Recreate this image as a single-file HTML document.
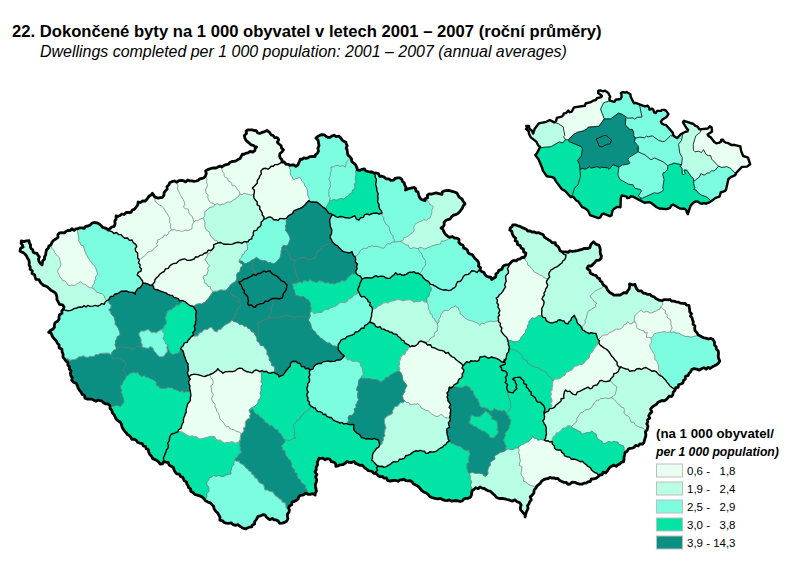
<!DOCTYPE html>
<html><head><meta charset="utf-8"><title>Map</title>
<style>
html,body{margin:0;padding:0;background:#fff;}
body{width:800px;height:566px;position:relative;overflow:hidden;font-family:"Liberation Sans",sans-serif;color:#000;}
.t{position:absolute;white-space:pre;line-height:1;}
#t1{left:12px;top:23.9px;font-size:16.64px;font-weight:bold;}
#t2{left:40px;top:43.5px;font-size:15.96px;font-style:italic;}
#l1{left:656px;top:426.7px;font-size:13.27px;font-weight:bold;}
#l2{left:656px;top:446.3px;font-size:12.23px;font-weight:bold;font-style:italic;}
.lg{left:687px;font-size:11.48px;}
</style></head><body>
<svg width="800" height="566" viewBox="0 0 800 566" style="position:absolute;left:0;top:0">
<path d="M42,265 42.4,262.9 42.7,260.7 44.6,259.1 44.5,256.8 45.7,254.7 46,252.2 46.5,249.9 48.3,248.3 48.8,246 50.9,245 51.9,242.4 53.6,240.4 55.9,238.9 58,237.4 57.9,234.5 59.7,232.8 62.1,232.7 64.3,232.8 66.1,231.4 67.9,230.4 70.2,230.5 71.9,228.7 74.1,230.3 75.9,228.8 77.9,228.6 79.9,227.8 81.9,227.9 84.1,228.4 85.6,226.3 88.1,226 90.2,225 91.9,223.3 94,222.5 96.8,222.8 99.1,223.9 101.2,225.7 102.5,227.4 104.6,227.9 106.5,228.6 108,230.1 109.9,228.6 111.7,227 114.2,226.3 115.1,223.8 114.8,221.2 116.1,219 116,216 118.2,216.3 120.1,215.5 121.9,214 124.1,214.5 126.1,212.5 128.6,212.5 131.1,212.3 132.2,210 134.3,209.3 135.7,207.6 137,206.1 137.9,204.2 138.1,202 140.5,202.5 142.6,200.9 145,201.2 146.6,199.5 147.9,197.9 149.1,196.1 151.2,195.1 152.4,193.3 153.4,194.6 154.4,196.6 156.4,197.7 158.1,198.1 160.1,197.7 162.1,197.6 163.9,195.4 164.1,192.7 165.5,190.9 167.2,189.1 167,186.5 168.9,185 169.7,182.8 172.1,181.6 174.3,181 176.9,182.1 178.9,180.6 181.2,180.4 183.4,180.7 185.6,181.9 187.8,180 190,180.9 192,180.9 194.1,181.4 196.1,181 198.1,180.4 199.8,178.8 201.9,178.5 203.9,177.8 205.5,175.9 206.3,173.6 205.6,170.9 207.7,169.6 209.8,168.9 211.8,168.2 214,168 216,168 217.9,167 219.9,166.1 222,166.9 223.8,165.5 226.1,164.6 228.6,164.1 230.1,162.2 232,161.5 234.1,161.3 236.1,160.9 237.9,159.5 240.1,158.5 241.2,156.4 242.4,154.2 244.1,154.3 246,153.1 248,152.9 250.1,151.5 252.8,152 254.9,150.5 255.1,148.6 256.7,146.9 254.9,146.7 253.3,145.3 251.2,144.9 249.7,143.5 247.8,141.9 246,140.3 244.9,138.1 244.3,135.5 246.5,133.5 246.1,131 247.9,129.9 249.9,129.8 252,129.8 254.1,130.5 256.3,130.7 257.7,133 259.8,133.5 262.3,132.3 264.7,131.6 266.9,130.5 269.6,132.4 271.1,134.9 273.2,135.5 274.7,137.7 277.2,137.7 278.7,139.7 277.3,142.3 279,144 281,145.5 281.6,148.1 283.5,149.7 281.9,152 280,153.5 279.6,155.8 280.2,158.1 281.9,159.8 282.1,162 284.3,162 285.8,164.1 288,164.3 289.9,165.3 292.1,164.9 294.1,165 295.9,166.4 298,164.8 298.7,162.9 299.6,161.1 300.3,159.2 302.1,159.3 303.9,157.9 306,158.3 308,157.8 310.2,156.6 312.5,156.3 315,156.7 315.5,154.8 317.4,153.2 318.5,151.2 317.9,148.3 319,145.7 318.6,143 318,140.1 315.9,138.1 317.7,136.4 319.7,135.4 321.8,134.7 324.2,134.8 325.9,136.3 327.8,137.4 329.9,137.4 332,136 334.1,135.2 336.1,136.6 339,136.1 340.9,138.2 342.1,140.1 343.9,141.2 345.8,142.2 346.3,144 347.2,145.9 346.1,148.1 347.2,150 347.4,152.6 348,155.1 350.1,157 351.5,158.9 351.8,161.6 353.8,163.1 355.7,165 356.8,167.3 357.4,169.8 359.7,170.4 362.1,169.3 364.3,168.9 365.8,171 367.8,171.5 369.9,172 372.1,172 374,173.1 376.3,173 378.4,173.5 379.6,176.3 381.9,176.2 384.2,177.1 386.1,178.9 388.8,178.9 390.8,180.4 393.4,180.2 395.4,178.4 397.6,177.9 399.9,177.8 401.8,179.3 402.5,181.5 404.2,182.8 404.8,185.3 406.1,187.4 405.5,190.1 407.9,188.9 410,188.4 412.1,187.9 414.2,187.4 415.5,188.6 415.9,190.9 418,192 418.6,194.4 419.3,196.7 420.5,198.8 422.6,199.9 425.1,200.7 425,198.7 427.6,197.8 427.3,195.4 429,194 431.4,194.2 433.7,193.5 436,192.8 438,193.4 440,193.8 441.9,194.3 442.2,192 444.1,191 446.7,190.4 449.3,190.5 452,191.3 454.5,192 457,193.1 458.2,195.4 459.6,197.6 462.1,199 462.8,200.8 464,202.3 465,204 463.3,205.8 462.4,208.1 461,210 459.5,212 457.6,213.7 455.8,214.6 453.6,215.2 451.8,216.5 450.3,218.8 447.9,219.6 445.7,220.6 444.1,222.3 444.2,225 443,226.8 441.1,228 442.8,229.2 443.5,231 444.4,232.7 445.8,234.7 447.6,236.2 449.7,237.4 452.4,236.5 454.6,238.2 457,238.2 459,239.5 458.9,242.5 460.6,244.3 463.1,245.2 463.6,248.1 466.1,248.9 467.5,250.5 468.2,252.8 470,254 472.3,254.7 473.6,256.6 475,258.5 476.8,260 478.3,261.8 478.9,263.9 478.5,266.1 480.6,267.7 479.9,270 481.8,271.6 484.1,272.5 485.1,274.9 486.6,276.2 488.5,277 490.7,277.1 491.7,279.5 494,278 495.8,276.8 495.9,273.9 497.8,272.8 498.9,270.3 501.8,269.4 502.8,266.8 504.3,265.3 506.4,264.8 508.7,264.8 510.2,263.3 511.8,261.5 513.6,260.3 516.4,260.9 518,259.1 520.1,259.1 521.8,257.4 523.9,257.5 525.4,255.7 525.9,253 523.6,252 523.4,249 521.1,247.9 520.2,245.6 517.5,244.5 517.3,241.8 515.1,240.7 515.7,238.1 513.9,236.8 512.8,235.1 512.1,233.3 511.8,231.2 509.8,230.1 510.3,227.9 512.1,226.7 512.7,224.8 515.5,224.9 517.7,225.8 520.1,226.3 522.1,227.7 524.2,228.4 526.2,229.2 527.8,231 530.2,230.8 532,232 534.4,231.9 536.5,232.9 538.9,232.7 541,233.8 543.1,234.5 544.3,237 546.3,238.4 548.3,239.7 550.4,240.9 552.3,242.9 555.2,242.6 555.8,245.1 557.8,246.2 559,248 559.9,250.5 562.1,251.9 564,251.8 566.1,251.9 568.1,252.4 570,250.8 572.6,251.5 575,251 577.5,250.6 580,249.9 582,249.4 583.9,248.5 585.9,248.4 587.9,248.5 589.9,247.6 590.6,245.1 591.9,243.2 593.6,241.7 595.3,243.7 596.9,244.7 598.9,245.2 599.8,247.3 600.3,249.6 600.2,252 600.4,254 601.4,255.9 601.1,258 599.3,260.1 596.3,260.5 594.7,262.6 592.9,264.2 591.3,266 588.4,265.8 587.1,268.2 588.3,269.5 590,270.7 590.1,272.9 592,273.9 594,275 596.2,275.7 597.3,277.7 599.6,278.6 600.2,280.8 602.1,282.1 602.8,284.2 604.4,285.7 606.2,287 607,289.1 608.2,290.8 609.9,292.5 612,293.7 613.8,295.2 616,295.1 618.1,295 620.1,295.1 622,293.9 623.8,292.6 626.5,293 627.8,290.6 629.2,288.8 629.7,286.4 629.5,283.9 632.5,284.8 635,284.5 635.7,286.6 636.8,289.1 638.6,290.9 641.5,291 643,293 645.3,293.3 647.6,294.4 650,294.3 651.6,296 653.9,296.8 655.7,298.4 657.8,299.4 659.8,300.4 662.1,300.7 663.9,299.7 665.9,299.7 668,299.9 669.9,299.5 671.8,301.2 674,301.1 675.9,301.8 678,302.1 680.2,303.1 682.7,303.3 685.2,303.5 686.8,305.2 688.9,305.3 689.3,307.3 689.6,309.7 689.8,312 691.5,313.8 690.5,316.1 692.1,317.9 692.5,319.9 693.3,321.8 693,324.2 694.9,325.8 694.7,328.1 695,330.8 697,332.7 698.1,334.9 700,335.7 701.9,336.9 703.8,337.8 706,338.1 708.2,339 710.9,338.4 713.1,339.6 714.5,342.1 714.5,344.9 716.2,346.9 716.3,349 718.1,350.7 718.5,352.8 718.3,354.9 718.3,357.1 718.9,359.1 719.8,361.1 718.3,363.3 716,365 714,366.1 712,367.1 710.2,368.4 707.9,367.4 706.1,369.2 703.9,367.7 701.9,368.5 699.3,370.1 696.7,369.1 694,368.6 691.7,369.5 690.7,371.8 689.2,373.2 688.2,375.4 685.5,376.4 685.3,379.2 683.5,380.5 683,382.8 681,384 678.7,384.5 678.2,387.3 675.8,387.7 675,390.3 673.2,392.3 672.8,394.9 671.6,396.5 669,396.2 667.8,398 666.3,399.5 664.4,400.8 662,400.5 660,401.4 658.1,402.2 656.5,404.3 654.2,405.6 652.1,407.2 650.6,409.1 651.8,412 649.7,413.9 648.7,415.8 649.8,418.2 647.5,419.8 647.8,421.9 646.8,423.9 648,426.1 647.5,428 647.1,430 645.4,431.7 645.8,434 645.8,436.1 645.1,438 644.5,440.2 643.9,442.5 642.4,444.2 639.7,444 638.2,446 635.6,445.3 634.1,447.3 632.2,448.2 630,448.3 628.1,449.3 627.3,451.1 625.1,452.5 624.6,454.8 624,457.2 624,459.6 623.5,461.9 621.5,462.1 619.9,463.9 617.9,464.8 616.2,466.4 613.9,465.1 612,466.1 609.9,467.3 608.4,469.1 607.2,471.2 605.8,472.9 603,472.1 602.2,474.7 600,475 598.2,476.6 596.3,478.1 593.8,478.8 591.5,479 590.2,481.5 587.9,481.8 586.1,483.1 584,483.2 582,484.1 579.5,484.1 577.1,483.4 574.9,482.3 572.2,482.1 570,484 567.9,484.3 566.2,482.4 564.1,482.4 561.9,481.4 559.5,480.3 557.8,478.3 555.9,478.7 554,477.9 551.9,478.2 550,477.3 548.2,478.5 545.9,478.9 543.8,479.6 541.6,481.2 540.1,483.5 538.1,485.1 536.6,486.6 535.6,488.5 534.1,490.1 533.9,492.9 532.2,495.1 530.2,496.9 531.3,499.8 529.7,501.7 528.9,504 527.5,505.7 528.1,508.2 527.2,510.2 526.3,512.1 525.7,514.5 525.1,517 524.9,514.8 523.7,513.3 522.4,511.8 520.6,509.8 520.3,507.5 521.2,505 519.6,502.6 517,501.7 515.1,499.9 512.3,501.1 509.7,500.2 507,499.5 504.8,498.9 502.4,498.5 500.1,498.5 498,498.1 496.1,497 494.8,495.3 493.3,494 491.7,492.6 490.3,491.1 488.1,490.8 486.2,489.7 484.3,488.5 482,488.1 480,486.9 478.3,488.7 475.8,487.7 474.1,489.3 472.1,490.6 471.7,492.9 471.4,495.2 470.4,497.2 468.2,498.3 465.9,498.3 463.8,499 462.3,501 460.2,501.5 457.8,500.8 455.7,500.5 453.5,500.8 451.3,501 449.2,499.9 447,500.6 444.8,500.3 442.6,499.7 440.5,498.3 438.2,498.9 436,498.6 434,498.1 431.7,497.5 429.7,496.5 428.2,494.5 426.3,493 423.7,492 421.6,490.4 420,488.3 418.3,486.4 415.9,485.1 413.7,484.1 412.2,482 410.3,480.6 407.8,480.9 405.7,480.7 403.9,479.2 402.1,479.8 399.9,479.9 398.1,481.3 395.3,480.3 392.7,480.5 390,481 387.7,480.6 386.5,478 383.9,478.2 382.3,476.3 379.7,476.6 377.9,475.3 376.3,473.5 373.8,473.4 372.2,471.5 370.3,471 368.3,470.6 366.8,469.3 365.2,468.2 363.7,466.7 362.3,465.1 359.8,465.4 357.9,464.2 355.7,463.6 354.2,461.5 351.6,462.5 349.2,462.4 346.9,461.5 345.2,463.2 342.7,464.7 340.4,464.8 338.2,465.8 335.8,466.4 335.9,464.1 333.8,462.1 331.4,461.7 329.7,459.1 327.1,458.7 324.9,459.8 323,458.1 321,458.5 319,458.1 318.3,460.2 317.3,462.2 317.6,464.7 316.2,467 316.3,469.5 315,472 316.9,474.5 315.5,477 316.7,479.5 316.3,482 315.3,484.5 315.6,487 315.9,489 316.5,491.1 315.3,493 315.1,495 312.7,493.6 309.9,494.3 308,494.3 306,493.1 304,494.5 302.4,495.2 300.3,495.4 298.8,496.7 298,499.2 296.3,500.5 294.3,501.4 291.9,502.1 291.8,504.7 289.8,505.8 288.6,507.8 289.4,510.1 289,512.1 287.5,513.9 287.4,516.3 287.9,518.7 286.8,521 284.7,522.4 282.1,523.2 279.6,523.3 278.2,520.9 276.3,519.9 274.1,519.9 272.3,518.4 269.7,519.7 267.9,518.3 266.3,517 265.2,515.1 263.3,514.6 260.6,515.8 258.1,516.3 257.1,518.1 256,520 254.6,521.8 254.6,524 252.4,525 251.8,526.9 249.8,527 247.8,527.7 246,528.9 243.8,528.4 241.8,527.4 239.9,526.3 238.1,524.7 235.5,525.4 233.3,524.7 231.4,522.9 228.9,523.3 226.4,523.2 224.2,522.5 222.3,520.6 219.9,520.2 220,517.2 218.8,515 217.5,512.8 215.5,510.9 214.1,508.7 213.6,506.2 212,504.7 210.3,502.9 208,502.1 205.6,500.8 203.9,498.8 202.1,496.9 199.8,495.9 197.5,495.1 195.1,494.6 193.3,492.7 190.7,491.3 190.7,488.9 188.6,487.7 188.1,485.7 186.9,484.1 186.5,482 184.4,480.8 183.5,479 182.7,477.1 180.6,476.7 179.4,474.2 177,473.9 175.3,472.2 174.1,470.1 173.5,467.7 171.3,466.3 169.2,465.1 168.3,462.7 166.1,462.2 164.1,461.5 162.4,463.8 160,464 158.8,462.1 157.2,460.7 155.3,459.6 152.7,458.6 151.6,456.3 149.8,454.5 148.7,452.2 148.4,449.7 146.3,448.7 145.5,446.5 143.2,445.8 142.3,443.7 139.9,443.1 137.8,442.5 136.3,440.4 134.5,439.1 131.8,439.4 130.8,437.3 129.4,435.6 127.3,434.6 126.2,432.8 124.7,431.3 123.2,429.1 122,426.8 121.4,424.1 120.2,421.9 118,420.7 116.1,419.2 115.2,417 114.2,414.9 112.3,412.8 111.8,410.1 110.1,408.4 109.9,405.6 108,404 105.6,403.9 103.6,402.8 101.9,401.1 100,400.6 98,400.2 95.9,401.2 94,400.4 91.8,399.1 89.5,399.2 87.1,399 85,398.2 84.5,395.4 82,394.2 81.1,392 79.4,390.2 78.2,388.1 77.3,385.8 76.2,383.3 73.4,382.2 71.7,380.2 72.2,377.6 70.7,375.4 70.4,373.1 71.1,370.7 69.3,369.1 69.4,366.7 67.9,365 67.8,362.6 65.9,361 64.7,359.2 63,357.1 63.1,354.3 62.1,351.9 61.9,349.3 59.1,347.7 59.1,344.9 57.4,343.2 56.3,341 54.7,339.2 53.1,337.6 52,335.5 51.2,333.1 48.7,332.3 50.7,330.3 52.8,329.2 54.4,327.4 54.4,324.7 55.2,322.6 57.5,321.2 59,319.5 59,317 59.5,314.8 61.9,313.4 61.8,310.9 63.4,309.2 64.1,307.1 62.5,304.8 59.5,304.3 58.2,301.7 56.9,299.6 56.9,297 56.3,294.6 55,292.6 52.7,291.2 50.9,290.3 49.4,288.7 47.8,287.2 45.9,286.1 43.5,285.4 41.7,283.8 40.1,281.8 39,279.7 35.9,279.4 35.1,276.9 34.5,274.7 32,273.5 32.3,270.8 30.2,269.4 30.2,266.9 29.1,265 29.3,262.5 28.8,260 27.5,258.1 26.5,255.9 24.9,254 23.5,252.7 21.6,252.1 20,251.1 20.6,248.3 23.1,247.1 22.3,245 21.1,243.2 21.3,240.9 23.7,241.6 26.3,240.9 29,240.6 29.4,243 30.6,244.9 30.4,246.9 31.1,248.6 32.8,249.9 33.1,252 34.7,253 36.9,253.1 37.9,255.1 39.4,256.8 38.5,259.1 38.9,261.2 40,263Z" fill="#b9ffe6"/>
<path d="M50.2,245.3 48.8,246 48.3,248.3 46.5,249.9 46,252.2 45.7,254.7 44.5,256.8 44.6,259.1 42.7,260.7 42.4,262.9 42,265 40,263 38.9,261.2 38.5,259.1 39.4,256.8 37.9,255.1 36.9,253.1 34.7,253 33.1,252 32.8,249.9 31.1,248.6 30.4,246.9 30.6,244.9 29.4,243 29,240.6 26.3,240.9 23.7,241.6 21.3,240.9 21.1,243.2 22.3,245 23.1,247.1 20.6,248.3 20,251.1 21.6,252.1 23.5,252.7 24.9,254 26.5,255.9 27.5,258.1 28.8,260 29.3,262.5 29.1,265 30.2,266.9 30.2,269.4 32.3,270.8 32,273.5 34.5,274.7 35.1,276.9 35.9,279.4 39,279.7 40.1,281.8 41.7,283.8 43.5,285.4 45.9,286.1 47.8,287.2 49.4,288.7 50.9,290.3 52.7,291.2 55,292.6 56.3,294.6 56.9,297 56.9,299.6 58.2,301.7 59.5,304.3 62.5,304.8 64.1,307.1 63.4,309.2 63.3,309.3 65.2,310.1 67.5,310.7 70.1,310.6 72.1,309.9 73.9,308.6 76,308.3 77.8,307.5 79.9,307 82.2,307.2 84,305.6 86,307 88,305.4 90,306.4 92.7,306.1 95.3,305.4 98.1,306.2 99.9,305.2 101.6,303.6 104.2,304.2 105.5,301.5 106.9,300.8 105.8,299.6 104.9,298.1 104.1,295.6 102.1,293.7 100,293.3 98,292.7 96.2,291.8 94.6,289.4 92,287.9 92,287.9 89.9,287.8 88.1,287 86.8,285.3 84.8,284.4 82.6,283.8 80.8,281.6 78.5,283 76.1,284.4 74.3,285.7 71.9,284.9 70.3,285.7 67.8,284.8 66.6,282.7 65.1,280.9 62.6,280.6 61.5,278.6 60.1,277 59,274.5 57.5,271.8 58.2,269.3 59.8,267.3 60.9,265 60.6,262.6 59.9,260.3 59.4,257.7 57.6,256 56,254.2 54.6,252.3 53.9,250.1 52.2,248.8Z" fill="#b9ffe6" stroke="#b9ffe6" stroke-width="0.6"/>
<path d="M78.7,228.3 77.9,228.6 75.9,228.8 74.1,230.3 71.9,228.7 70.2,230.5 67.9,230.4 66.1,231.4 64.3,232.8 62.1,232.7 59.7,232.8 57.9,234.5 58,237.4 55.9,238.9 53.6,240.4 51.9,242.4 50.9,245 50.2,245.3 52.2,248.8 53.9,250.1 54.6,252.3 56,254.2 57.6,256 59.4,257.7 59.9,260.3 60.6,262.6 60.9,265 59.8,267.3 58.2,269.3 57.5,271.8 59,274.5 60.1,277 61.5,278.6 62.6,280.6 65.1,280.9 66.6,282.7 67.8,284.8 70.3,285.7 71.9,284.9 74.3,285.7 76.1,284.4 78.5,283 80.8,281.6 82.6,283.8 84.8,284.4 86.8,285.3 88.1,287 89.9,287.8 92,287.9 92.6,285.7 94.1,283.5 94.4,281.2 95.8,279.4 95.5,276.7 97.4,275 97.6,272.9 96.7,271 96.1,269 95.6,267.4 94.3,265.4 92.4,263.9 91.2,261.9 89.6,260.1 88.3,258 87.3,255.9 86,254.1 85.5,252.1 84.7,250.2 84.1,248 83.4,245.8 80.9,245 80.2,242.9 78.7,240.8 78.9,238.3 78.5,236.1 78,233.6 77.5,231.2Z" fill="#e8fff2" stroke="#e8fff2" stroke-width="0.6"/>
<path d="M107.8,229.9 106.5,228.6 104.6,227.9 102.5,227.4 101.2,225.7 99.1,223.9 96.8,222.8 94,222.5 91.9,223.3 90.2,225 88.1,226 85.6,226.3 84.1,228.4 81.9,227.9 79.9,227.8 78.7,228.3 77.5,231.2 78,233.6 78.5,236.1 78.9,238.3 78.7,240.8 80.2,242.9 80.9,245 83.4,245.8 84.1,248 84.7,250.2 85.5,252.1 86,254.1 87.3,255.9 88.3,258 89.6,260.1 91.2,261.9 92.4,263.9 94.3,265.4 95.6,267.4 96.1,269 96.7,271 97.6,272.9 97.4,275 95.5,276.7 95.8,279.4 94.4,281.2 94.1,283.5 92.6,285.7 92,287.9 92,287.9 94.6,289.4 96.2,291.8 98,292.7 100,293.3 102.1,293.7 104.1,295.6 104.9,298.1 105.8,299.6 106.9,300.8 108.1,300.1 108.1,300.1 109.5,298.4 110.6,296.4 113.2,296.4 114.6,294.2 116.9,293.8 119,292.9 121.2,291.2 124,291.2 126.1,291 128,291.6 129.8,292.4 132.7,292.4 135.3,294.2 135.2,291.9 136.6,290.5 137.6,288.7 140.3,287.5 141.9,285.5 143,283 142.4,280.8 141,279 139.4,276.6 137.2,275.2 138.3,272.3 141,271 141.5,268.9 139.6,267.1 140.2,264.9 138.5,262.9 139.4,260.1 137.8,258.2 137.7,258.1 137.7,255.6 137.6,253.1 135.5,251 135.3,248.7 136.8,246.3 135.7,244.3 133.3,242.7 132,240 129.4,240.4 127.5,238 124.7,238.3 122.6,236.4 120.9,234.6 118.6,234.5 116.5,232.5 113.8,233.5 112.1,231.7 110,231 108,230 108,230.1Z" fill="#7dfde0" stroke="#7dfde0" stroke-width="0.6"/>
<path d="M107.8,229.9 108,230.1 108,230Z" fill="#7dfde0" stroke="#7dfde0" stroke-width="0.6"/>
<path d="M153.4,194.6 152.4,193.3 151.2,195.1 149.1,196.1 147.9,197.9 146.6,199.5 145,201.2 142.6,200.9 140.5,202.5 138.1,202 137.9,204.2 137,206.1 135.7,207.6 134.3,209.3 132.2,210 131.1,212.3 128.6,212.5 126.1,212.5 124.1,214.5 121.9,214 120.1,215.5 118.2,216.3 116,216 116.1,219 114.8,221.2 115.1,223.8 114.2,226.3 111.7,227 109.9,228.6 108,230 110,231 112.1,231.7 113.8,233.5 116.5,232.5 118.6,234.5 120.9,234.6 122.6,236.4 124.7,238.3 127.5,238 129.4,240.4 132,240 133.3,242.7 135.7,244.3 136.8,246.3 135.3,248.7 135.5,251 137.6,253.1 137.7,255.6 137.7,258.1 137.8,258.2 140.2,259.3 142.2,257.6 144.3,256 146.2,254.4 147.7,252.3 149.7,251.5 152,251 153.5,249.2 155.1,247.4 157.4,246.1 156.7,243.9 157.6,242 157.8,239.7 159.9,239.3 161.3,237.9 163.2,237.4 164.2,235.2 166.6,235.4 168.1,234.1 169.3,231.3 172,230 171,228.5 170.3,227 170.6,224.7 169.6,222.3 169.8,220.1 169.7,217.6 168.4,215.8 167.3,213.8 165.8,211.9 164.6,209.8 163.3,207.6 161.4,205.9 158.9,204.7 156.9,203.1 155,201.5 154.9,199 154.5,196.8 154.4,196.6 154.4,196.6 153.5,194.8Z" fill="#e8fff2" stroke="#e8fff2" stroke-width="0.6"/>
<path d="M153.5,194.8 153.4,194.6 153.4,194.6Z" fill="#e8fff2" stroke="#e8fff2" stroke-width="0.6"/>
<path d="M153.5,194.8 154.4,196.6 154.4,196.6Z" fill="#e8fff2" stroke="#e8fff2" stroke-width="0.6"/>
<path d="M176.1,181.8 174.3,181 172.1,181.6 169.7,182.8 168.9,185 167,186.5 167.2,189.1 165.5,190.9 164.1,192.7 163.9,195.4 162.1,197.6 160.1,197.7 158.1,198.1 156.4,197.7 154.4,196.6 154.5,196.8 154.9,199 155,201.5 156.9,203.1 158.9,204.7 161.4,205.9 163.3,207.6 164.6,209.8 165.8,211.9 167.3,213.8 168.4,215.8 169.7,217.6 169.8,220.1 169.6,222.3 170.6,224.7 170.3,227 171,228.5 172,230 174.4,229.6 176.7,230.8 179.1,230.4 181.5,231.6 183.7,230.7 186,230.1 188.2,230.7 190.1,229.7 192,228.7 192.1,226.5 192.5,224.1 194,222 193,219.5 192.4,216.8 190.9,215.1 189,213.5 188.8,211.2 187.9,208.9 185.3,208.8 183.4,207.1 184.8,204.5 184.3,202.2 183.3,199.8 182.3,198.1 181.1,196.5 180.4,194.5 179.4,192.9 178.5,190.8 177.4,188.7 177.9,186.2 177.1,184.1Z" fill="#e8fff2" stroke="#e8fff2" stroke-width="0.6"/>
<path d="M205.5,175.9 203.9,177.8 201.9,178.5 199.8,178.8 198.1,180.4 196.1,181 194.1,181.4 192,180.9 190,180.9 187.8,180 185.6,181.9 183.4,180.7 181.2,180.4 178.9,180.6 176.9,182.1 176.1,181.8 177.1,184.1 177.9,186.2 177.4,188.7 178.5,190.8 179.4,192.9 180.4,194.5 181.1,196.5 182.3,198.1 183.3,199.8 184.3,202.2 184.8,204.5 183.4,207.1 185.3,208.8 187.9,208.9 188.8,211.2 189,213.5 190.9,215.1 192.4,216.8 193,219.5 194,222 195.8,220.6 197.9,220.8 199.3,219.4 201.2,218.7 202.9,218 203,218 204.7,216.3 204.9,214.2 204.7,211.7 207.2,210.2 209,207.9 211.1,207.3 213.2,206.4 215,205 213.3,203.4 211.2,202.9 209.5,201.2 208.3,199.3 207.7,197.1 208.2,194.8 206,193.2 205.7,191.2 205.8,189 207.1,186.7 207.3,184.3 206.4,181.7 207,179.3Z" fill="#e8fff2" stroke="#e8fff2" stroke-width="0.6"/>
<path d="M221.1,166.6 219.9,166.1 217.9,167 216,168 214,168 211.8,168.2 209.8,168.9 207.7,169.6 205.6,170.9 206.3,173.6 205.5,175.9 207,179.3 206.4,181.7 207.3,184.3 207.1,186.7 205.8,189 205.7,191.2 206,193.2 208.2,194.8 207.7,197.1 208.3,199.3 209.5,201.2 211.2,202.9 213.3,203.4 215,205 217.2,203.5 219.8,205.1 222.1,204.4 224.2,204.1 226,202.8 227.9,202 230,202.2 232,201 233.9,199.8 235.9,198.8 237.2,197.2 239,195.9 240,194 239.3,191.6 237.4,189.9 236.4,187.6 235.2,185.8 232.2,185.8 231.6,183.4 230.3,181.7 228.2,180.8 227.7,178.3 225.4,177.6 224.2,175.9 224,173.5 222.5,171.5 221.8,169.2Z" fill="#e8fff2" stroke="#e8fff2" stroke-width="0.6"/>
<path d="M282.1,162 281.9,159.8 280.2,158.1 279.6,155.8 280,153.5 281.9,152 283.5,149.7 281.6,148.1 281,145.5 279,144 277.3,142.3 278.7,139.7 277.2,137.7 274.7,137.7 273.2,135.5 271.1,134.9 269.6,132.4 266.9,130.5 264.7,131.6 262.3,132.3 259.8,133.5 257.7,133 256.3,130.7 254.1,130.5 252,129.8 249.9,129.8 247.9,129.9 246.1,131 246.5,133.5 244.3,135.5 244.9,138.1 246,140.3 247.8,141.9 249.7,143.5 251.2,144.9 253.3,145.3 254.9,146.7 256.7,146.9 255.1,148.6 254.9,150.5 252.8,152 250.1,151.5 248,152.9 246,153.1 244.1,154.3 242.4,154.2 241.2,156.4 240.1,158.5 237.9,159.5 236.1,160.9 234.1,161.3 232,161.5 230.1,162.2 228.6,164.1 226.1,164.6 223.8,165.5 222,166.9 221.1,166.6 221.8,169.2 222.5,171.5 224,173.5 224.2,175.9 225.4,177.6 227.7,178.3 228.2,180.8 230.3,181.7 231.6,183.4 232.2,185.8 235.2,185.8 236.4,187.6 237.4,189.9 239.3,191.6 240,194 242,194.9 244,193.2 246,193.8 248.5,194.4 251,195.1 253.9,194 254.3,192.6 254.4,190.2 252.4,188.1 254.3,186.3 255.7,184.7 257.3,183.2 257.3,180.4 259,178.3 259.8,175.9 261.4,173.9 260.8,171.2 262.5,169.1 264,168.5 266,168.3 268,169.2 269.7,168 271.1,166.2 273.4,166.3 274.8,164.6 277.6,164.6 279.8,163.4Z" fill="#e8fff2" stroke="#e8fff2" stroke-width="0.6"/>
<path d="M289.1,164.9 288,164.3 285.8,164.1 284.3,162 282.1,162 279.8,163.4 277.6,164.6 274.8,164.6 273.4,166.3 271.1,166.2 269.7,168 268,169.2 266,168.3 264,168.5 262.5,169.1 260.8,171.2 261.4,173.9 259.8,175.9 259,178.3 257.3,180.4 257.3,183.2 255.7,184.7 254.3,186.3 252.4,188.1 254.4,190.2 254.3,192.6 253.9,194 253.7,195.1 253.9,197.8 255.3,200 257.3,201.9 257.1,204.7 259.8,206.3 259.7,209.1 261.1,211 262.2,212.9 262.3,215.1 263.9,216.8 264,219 266.1,218.6 267.9,217.4 270,216.9 272.1,217.8 273.6,219.8 276.2,219.6 278.1,220.6 279.9,218.4 281.9,218.6 284,218.7 286.5,218.4 286.9,217.9 288,216.3 289.9,214.9 292.6,213.6 293.8,210.8 296,209.9 298,209.1 300.1,208.3 302,207.5 303.5,206.3 304.9,204.9 306.7,202.7 308.7,200.7 309,200.9 309.5,198.9 308.6,197 307.9,195 307.6,193 307.5,191 306.9,189 306.3,187.2 304.7,185.9 304.4,183.8 303.1,182.3 301.6,180.9 301.1,178.7 299.3,177.4 297.2,178.4 295.3,178.7 294.2,179.9 292.7,178.5 292,176.6 290.5,175.1 290.3,172.5 290.5,169.9 289.3,167.5Z" fill="#e8fff2" stroke="#e8fff2" stroke-width="0.6"/>
<path d="M350.8,157.9 350.1,157 348,155.1 347.4,152.6 347.2,150 346.1,148.1 347.2,145.9 346.3,144 345.8,142.2 343.9,141.2 342.1,140.1 340.9,138.2 339,136.1 336.1,136.6 334.1,135.2 332,136 329.9,137.4 327.8,137.4 325.9,136.3 324.2,134.8 321.8,134.7 319.7,135.4 317.7,136.4 315.9,138.1 318,140.1 318.6,143 319,145.7 317.9,148.3 318.5,151.2 317.4,153.2 315.5,154.8 315,156.7 312.5,156.3 310.2,156.6 308,157.8 306,158.3 303.9,157.9 302.1,159.3 300.3,159.2 299.6,161.1 298.7,162.9 298,164.8 295.9,166.4 294.1,165 292.1,164.9 289.9,165.3 289.1,164.9 289.3,167.5 290.5,169.9 290.3,172.5 290.5,175.1 292,176.6 292.7,178.5 294.2,179.9 295.3,178.7 297.2,178.4 299.3,177.4 301.1,178.7 301.6,180.9 303.1,182.3 304.4,183.8 304.7,185.9 306.3,187.2 306.9,189 307.5,191 307.6,193 307.9,195 308.6,197 309.5,198.9 309,200.9 310.9,202.1 312.9,202 315,202.3 317.3,202.3 319.1,203.9 320.9,205.3 322.9,207.1 325.3,208.7 326.2,209.8 326.2,207.2 327.6,204.8 328.9,202.4 330,200.2 329.4,200.1 330.5,197.9 328.8,196.1 328.8,194 329.1,192 328.7,189.9 329.9,188 330.5,185.9 330,184 330.5,181.9 329,180 329,178 330.5,175.9 330.2,173.3 331.3,171 330.9,169 331,167 333.5,166.9 335.6,165.6 337.9,165.4 340.2,166.2 342.9,165.5 345.4,167.2 345.9,164.6 346.2,162Z" fill="#7dfde0" stroke="#7dfde0" stroke-width="0.6"/>
<path d="M355.3,164.7 353.8,163.1 351.8,161.6 351.5,158.9 350.8,157.9 346.2,162 345.9,164.6 345.4,167.2 342.9,165.5 340.2,166.2 337.9,165.4 335.6,165.6 333.5,166.9 331,167 330.9,169 331.3,171 330.2,173.3 330.5,175.9 329,178 329,180 330.5,181.9 330,184 330.5,185.9 329.9,188 328.7,189.9 329.1,192 328.8,194 328.8,196.1 330.5,197.9 329.4,200.1 330,200.2 332,200.5 334,199.1 336,200.4 338.5,199.3 340.9,198.6 343.9,199 346,197.1 348.4,196 349.7,193.7 352.1,192.8 352.6,189.9 354.8,188.8 355,186.6 354.6,184.2 356.1,182 355.3,179.3 355.5,176.7 356.2,174 355.6,171.8 356.4,169.4 355.5,167.2Z" fill="#7dfde0" stroke="#7dfde0" stroke-width="0.6"/>
<path d="M374,173.1 374,173.1 372.1,172 369.9,172 367.8,171.5 365.8,171 364.3,168.9 362.1,169.3 359.7,170.4 357.4,169.8 356.8,167.3 355.7,165 355.3,164.7 355.5,167.2 356.4,169.4 355.6,171.8 356.2,174 355.5,176.7 355.3,179.3 356.1,182 354.6,184.2 355,186.6 354.8,188.8 352.6,189.9 352.1,192.8 349.7,193.7 348.4,196 346,197.1 343.9,199 340.9,198.6 338.5,199.3 336,200.4 334,199.1 332,200.5 330,200.2 328.9,202.4 327.6,204.8 326.2,207.2 326.2,209.8 327.1,210.9 328.7,213.3 330.8,213.5 332.2,214.7 334.1,215.2 335.9,216.8 337.9,217.4 340.4,216.5 342.8,216.9 345,217.7 347,217.6 349,218.1 351,217.6 352.8,216.6 354.8,215.7 356.2,218.8 358.8,220.2 360.5,217.8 363.3,217.4 364.5,214.8 366.9,213.9 369.2,214.8 371.1,214 373,213.3 375,213.2 377.1,213 379,214.2 382,213 381.2,210.6 379.5,208.6 378.9,206 378.9,204 377.6,202.1 377.7,200.1 378.1,198 377.5,196 378.3,193.9 377.3,192 376.8,190 376.7,188 376.1,186.1 375.6,184.1 376.1,182 376.5,179.5 375.3,177.4 375.2,175.1Z" fill="#02e3a6" stroke="#02e3a6" stroke-width="0.6"/>
<path d="M426.7,198.1 425,198.7 425.1,200.7 422.6,199.9 420.5,198.8 419.3,196.7 418.6,194.4 418,192 415.9,190.9 415.5,188.6 414.2,187.4 412.1,187.9 410,188.4 407.9,188.9 405.5,190.1 406.1,187.4 404.8,185.3 404.2,182.8 402.5,181.5 401.8,179.3 399.9,177.8 397.6,177.9 395.4,178.4 393.4,180.2 390.8,180.4 388.8,178.9 386.1,178.9 384.2,177.1 381.9,176.2 379.6,176.3 378.4,173.5 376.3,173 374,173.1 375.2,175.1 375.3,177.4 376.5,179.5 376.1,182 375.6,184.1 376.1,186.1 376.7,188 376.8,190 377.3,192 378.3,193.9 377.5,196 378.1,198 377.7,200.1 377.6,202.1 378.9,204 378.9,206 379.5,208.6 381.2,210.6 382,213 382.1,215.5 383.7,217.6 383.7,220.1 385,222.2 386,224.4 388.4,225.8 389.3,227.9 389.5,230.2 390.5,232.2 391.2,234.2 393.3,235.7 392.9,238 394.4,239.8 394,242 396,241.8 398.1,241.8 400.1,241.3 400.1,241.3 402.8,240.7 404,237.5 406.6,236.9 408.8,235.6 410.7,234 413,232.5 414.3,230.2 413.6,227.4 414.6,225.1 416.4,223.1 418.1,222.7 419.9,221.4 422,221 423.8,219.6 426.3,220.4 428,218.9 430,217.9 430.9,215.8 431.6,213.7 431.9,211.6 432,209.2 433.4,207.1 431.8,205.2 429.5,204.3 428.7,202.2 427.7,200.7Z" fill="#7dfde0" stroke="#7dfde0" stroke-width="0.6"/>
<path d="M450.1,237.3 449.7,237.4 447.6,236.2 445.8,234.7 444.4,232.7 443.5,231 442.8,229.2 441.1,228 443,226.8 444.2,225 444.1,222.3 445.7,220.6 447.9,219.6 450.3,218.8 451.8,216.5 453.6,215.2 455.8,214.6 457.6,213.7 459.5,212 461,210 462.4,208.1 463.3,205.8 465,204 464,202.3 462.8,200.8 462.1,199 459.6,197.6 458.2,195.4 457,193.1 454.5,192 452,191.3 449.3,190.5 446.7,190.4 444.1,191 442.2,192 441.9,194.3 440,193.8 438,193.4 436,192.8 433.7,193.5 431.4,194.2 429,194 427.3,195.4 427.6,197.8 426.7,198.1 427.7,200.7 428.7,202.2 429.5,204.3 431.8,205.2 433.4,207.1 432,209.2 431.9,211.6 431.6,213.7 430.9,215.8 430,217.9 428,218.9 426.3,220.4 423.8,219.6 422,221 419.9,221.4 418.1,222.7 416.4,223.1 414.6,225.1 413.6,227.4 414.3,230.2 413,232.5 410.7,234 408.8,235.6 406.6,236.9 404,237.5 402.8,240.7 400.1,241.3 401.9,242.5 404.1,243.5 406.1,244.9 408.4,245.4 409.2,247.8 411.1,248.9 413.2,247.6 415.7,248.2 418.1,248.6 418.3,248.4 420.1,247.2 422.1,247.7 424,249.1 426,248.7 427.8,247.5 430,247 431.9,245.8 434.1,245.5 436,244.7 438.2,244.5 440.5,244 441.5,241 444,241.1 446.3,240.2 448.5,239Z" fill="#b9ffe6" stroke="#b9ffe6" stroke-width="0.6"/>
<path d="M480,270 479.9,270 480.6,267.7 478.5,266.1 478.9,263.9 478.3,261.8 476.8,260 475,258.5 473.6,256.6 472.3,254.7 470,254 468.2,252.8 467.5,250.5 466.1,248.9 463.6,248.1 463.1,245.2 460.6,244.3 458.9,242.5 459,239.5 457,238.2 454.6,238.2 452.4,236.5 450.1,237.3 448.5,239 446.3,240.2 444,241.1 441.5,241 440.5,244 438.2,244.5 436,244.7 434.1,245.5 431.9,245.8 430,247 427.8,247.5 426,248.7 424,249.1 422.1,247.7 420.1,247.2 418.3,248.4 418.7,249.9 419.7,251.7 421.3,253.1 422.2,254.9 422.8,257.1 424,258.9 425.6,260.3 425.3,261.9 425.8,264.1 424.7,266 423.2,267.7 422.3,270 420.9,271.9 419.8,274.3 419.9,274.4 421.8,275.3 422.9,277.2 424.2,278.8 425.8,280.2 427.8,281.1 429.4,282.6 429.5,282.7 430.4,284.4 432.6,284.6 434.2,285.7 436.2,286.6 438,288 440,288.9 441.9,289.6 443.9,290 446,289.8 448.5,290.6 450.8,290.1 452.9,288.5 454.6,287.7 455.8,286.1 456.3,284.2 457.5,281.7 460.5,281.3 462.1,279.1 463.3,276.5 465.3,274.8 468.3,274.4 470.2,272.8 471.8,270.8 474.8,271.1 477.2,272.6 478.1,271.1Z" fill="#7dfde0" stroke="#7dfde0" stroke-width="0.6"/>
<path d="M510.3,263.2 510.2,263.3 508.7,264.8 506.4,264.8 504.3,265.3 502.8,266.8 501.8,269.4 498.9,270.3 497.8,272.8 495.9,273.9 495.8,276.8 494,278 491.7,279.5 490.7,277.1 488.5,277 486.6,276.2 485.1,274.9 484.1,272.5 481.8,271.6 480,270 478.1,271.1 477.2,272.6 474.8,271.1 471.8,270.8 470.2,272.8 468.3,274.4 465.3,274.8 463.3,276.5 462.1,279.1 460.5,281.3 457.5,281.7 456.3,284.2 455.8,286.1 454.6,287.7 452.9,288.5 450.8,290.1 448.5,290.6 446,289.8 443.9,290 441.9,289.6 440,288.9 438,288 436.2,286.6 434.2,285.7 432.6,284.6 430.4,284.4 429.5,282.7 429.3,285.8 431.3,287.9 431,290.6 429.5,292.9 429.3,294.8 428.5,296.7 426.6,297.8 426.7,300 427,302 427.9,304.3 428.3,306.7 428.5,309.1 430,311 430,313.5 432.3,314.8 432.3,317.3 434.7,318.7 435,321 437,321.9 437,324 438.9,322.1 438.9,319.3 440.3,317.1 440.9,314.7 442.4,312.8 443.6,310.7 446,310.4 448.3,310.5 450,309 451.5,307.4 453.9,307.1 455.3,305.4 456,306.9 458.4,307.7 458.9,310.1 460.1,311.6 460.1,313.9 462.1,314.9 463.8,317 465.8,318.6 468.1,319.9 470,320.4 471.9,321.1 473.9,321.5 476,322.3 478.2,323.4 479.7,325.5 481.5,323.1 484.3,323.7 486.1,322.2 488,321.8 490,321.2 492,321.3 494.5,321.6 496.7,320.9 498.5,320 498.6,319 498,317 499.6,315 498.5,313.1 499.8,310.9 499.2,308.9 497.8,307.1 498.5,304.8 496.9,302.8 497.5,300.1 496.2,298.2 498.2,296.9 499.4,294.7 501.4,293.2 502.8,291.3 504,289.2 505.5,287.1 504.7,284.9 505.3,283 506.2,281.1 505.8,279 505.5,276.8 506.4,274.9 508.3,273.2 508.5,271.1 507.4,268.7 508.7,266.9 509,264.9Z" fill="#7dfde0" stroke="#7dfde0" stroke-width="0.6"/>
<path d="M524.1,257.3 523.9,257.5 521.8,257.4 520.1,259.1 518,259.1 516.4,260.9 513.6,260.3 511.8,261.5 510.3,263.2 509,264.9 508.7,266.9 507.4,268.7 508.5,271.1 508.3,273.2 506.4,274.9 505.5,276.8 505.8,279 506.2,281.1 505.3,283 504.7,284.9 505.5,287.1 504,289.2 502.8,291.3 501.4,293.2 499.4,294.7 498.2,296.9 496.2,298.2 497.5,300.1 496.9,302.8 498.5,304.8 497.8,307.1 499.2,308.9 499.8,310.9 498.5,313.1 499.6,315 498,317 498.6,319 498.5,320 498.4,321.5 500.5,323.5 500.1,326 501.9,328 501.1,331.1 502.6,333.2 504,334.9 505.6,336.4 507,338 507.7,340.1 510.7,340.5 513.1,341.6 515.5,341.7 518.1,341.4 520.1,339.8 521.1,337.4 522.7,335.7 524,334 525.8,332.4 525.7,329.8 527.5,328.2 527.3,325.7 528.8,323.9 529.1,321.5 530.6,319.8 531.9,317.9 534.3,318.4 536.3,317.7 537.9,315.7 540.5,315.6 542.3,316.3 541.8,315.1 541.6,313.1 541.9,311 541.7,308.7 542.7,306.8 543.5,305.2 544.1,302.7 543.7,300.7 542,299 542.8,297 544.3,295.3 544,293 545.3,291.1 545.7,288.9 547.1,287 547.8,285.1 546.5,282.9 546.7,280.9 548,279 548,279 545.8,278.4 543.7,277.5 542.5,275.8 540.5,275.3 538.8,274.3 536.8,273 534.4,272.2 533.1,269.9 531.3,268.4 530,266.3 527.7,265.1 527.5,262.5 525.7,260.5Z" fill="#e8fff2" stroke="#e8fff2" stroke-width="0.6"/>
<path d="M562.1,251.9 559.9,250.5 559,248 557.8,246.2 555.8,245.1 555.2,242.6 552.3,242.9 550.4,240.9 548.3,239.7 546.3,238.4 544.3,237 543.1,234.5 541,233.8 538.9,232.7 536.5,232.9 534.4,231.9 532,232 530.2,230.8 527.8,231 526.2,229.2 524.2,228.4 522.1,227.7 520.1,226.3 517.7,225.8 515.5,224.9 512.7,224.8 512.1,226.7 510.3,227.9 509.8,230.1 511.8,231.2 512.1,233.3 512.8,235.1 513.9,236.8 515.7,238.1 515.1,240.7 517.3,241.8 517.5,244.5 520.2,245.6 521.1,247.9 523.4,249 523.6,252 525.9,253 525.4,255.7 524.1,257.3 525.7,260.5 527.5,262.5 527.7,265.1 530,266.3 531.3,268.4 533.1,269.9 534.4,272.2 536.8,273 538.8,274.3 540.5,275.3 542.5,275.8 543.7,277.5 545.8,278.4 548,279 549.7,276.9 548.6,274.1 549.8,271.7 551.1,269.9 552.9,268.8 554.7,267.6 556.8,266.8 558.6,265.6 560.2,264.2 561.9,263 562.9,260.8 564.5,259.9 565.7,257.5 566,255 563.5,254.1Z" fill="#b9ffe6" stroke="#b9ffe6" stroke-width="0.6"/>
<path d="M603.8,285.1 602.8,284.2 602.1,282.1 600.2,280.8 599.6,278.6 597.3,277.7 596.2,275.7 594,275 592,273.9 590.1,272.9 590,270.7 588.3,269.5 587.1,268.2 588.4,265.8 591.3,266 592.9,264.2 594.7,262.6 596.3,260.5 599.3,260.1 601.1,258 601.4,255.9 600.4,254 600.2,252 600.3,249.6 599.8,247.3 598.9,245.2 596.9,244.7 595.3,243.7 593.6,241.7 591.9,243.2 590.6,245.1 589.9,247.6 587.9,248.5 585.9,248.4 583.9,248.5 582,249.4 580,249.9 577.5,250.6 575,251 572.6,251.5 570,250.8 568.1,252.4 566.1,251.9 564,251.8 562.1,251.9 562.1,251.9 563.5,254.1 566,255 565.7,257.5 564.5,259.9 562.9,260.8 561.9,263 560.2,264.2 558.6,265.6 556.8,266.8 554.7,267.6 552.9,268.8 551.1,269.9 549.8,271.7 548.6,274.1 549.7,276.9 548,279 548,279 546.7,280.9 546.5,282.9 547.8,285.1 547.1,287 545.7,288.9 545.3,291.1 544,293 544.3,295.3 542.8,297 542,299 543.7,300.7 544.1,302.7 543.5,305.2 542.7,306.8 541.7,308.7 541.9,311 541.6,313.1 541.8,315.1 542.3,316.3 542.6,317.1 545.4,317.9 546.1,320.6 548.2,321.8 550.4,322.9 553.1,322.7 554.7,322.1 556.8,321.8 558.1,320.1 560.1,319.8 562,320.7 564,320.9 565.4,323.3 568.1,323.8 569,321.8 570.9,320.2 571.6,317.8 573.2,316.6 574.4,315.3 575,317.3 576.5,319.5 577,322 578.2,324 580.2,325.6 581.5,327.5 582,329 582.6,326.8 583.6,324.8 585.4,323.1 584.8,320.7 586,318.9 586.6,316.9 587.1,314.8 587.5,312.7 588.8,310.6 590.7,310 592,308.5 593.8,307.9 595.7,306.7 595.3,304.3 596.8,303.3 594.5,302.1 593.2,299.8 591.4,298.1 590.1,296.1 591.9,294.2 593.8,292.4 595.8,290.7 597.7,289.7 599.6,288.7 601.8,288.1Z" fill="#b9ffe6" stroke="#b9ffe6" stroke-width="0.6"/>
<path d="M662.2,300.7 662.1,300.7 659.8,300.4 657.8,299.4 655.7,298.4 653.9,296.8 651.6,296 650,294.3 647.6,294.4 645.3,293.3 643,293 641.5,291 638.6,290.9 636.8,289.1 635.7,286.6 635,284.5 632.5,284.8 629.5,283.9 629.7,286.4 629.2,288.8 627.8,290.6 626.5,293 623.8,292.6 622,293.9 620.1,295.1 618.1,295 616,295.1 613.8,295.2 612,293.7 609.9,292.5 608.2,290.8 607,289.1 606.2,287 604.4,285.7 603.8,285.1 601.8,288.1 599.6,288.7 597.7,289.7 595.8,290.7 593.8,292.4 591.9,294.2 590.1,296.1 591.4,298.1 593.2,299.8 594.5,302.1 596.8,303.3 595.3,304.3 595.7,306.7 593.8,307.9 592,308.5 590.7,310 588.8,310.6 587.5,312.7 587.1,314.8 586.6,316.9 586,318.9 584.8,320.7 585.4,323.1 583.6,324.8 582.6,326.8 582,329 582.4,329.8 584,330.6 585.6,331.8 587.5,332.6 589.1,333.7 591.2,332.7 593.7,333.4 596.1,333.4 596.4,335.1 597.2,337.1 597.8,339.1 598.2,339.5 601.4,336.6 602.8,335.1 605.1,335.1 607.6,334.7 609.5,332.5 611.9,331.7 614.1,330.4 616.3,329.1 619.1,329.2 621.3,328.5 622.8,326.9 623.9,324.9 626.3,323.9 627.7,321.6 629.7,323.7 632.1,323.8 632.9,322 635,322 634.2,320 634.5,318 634.5,316 636.2,314.3 637.8,312.7 639.3,311.2 641.5,310.3 643.6,312.4 646.1,311.6 648.1,311.7 650,313 652,312.8 653.8,311.7 656.1,311.1 657.9,309.7 660,309 660.7,306.9 660.8,306.8 662.7,304.8Z" fill="#b9ffe6" stroke="#b9ffe6" stroke-width="0.6"/>
<path d="M698.1,334.9 697,332.7 695,330.8 694.7,328.1 694.9,325.8 693,324.2 693.3,321.8 692.5,319.9 692.1,317.9 690.5,316.1 691.5,313.8 689.8,312 689.6,309.7 689.3,307.3 688.9,305.3 686.8,305.2 685.2,303.5 682.7,303.3 680.2,303.1 678,302.1 675.9,301.8 674,301.1 671.8,301.2 669.9,299.5 668,299.9 665.9,299.7 663.9,299.7 662.2,300.7 662.7,304.8 660.8,306.8 660.7,306.9 662.9,309.1 665.4,310.6 665.1,313.2 667.4,314.7 667,317 668.5,318.6 670.5,319.7 670.9,322.1 670.8,324.1 671.5,326 672.1,328 671,330 670,332 672,332.2 674.1,332 676,333.2 678.2,333 680.2,333.8 682,335.1 683.9,335.8 685.8,336.7 688,336.3 690,337 692,337 694,336.3 696.1,336Z" fill="#e8fff2" stroke="#e8fff2" stroke-width="0.6"/>
<path d="M675.1,390 675.8,387.7 678.2,387.3 678.7,384.5 681,384 683,382.8 683.5,380.5 685.3,379.2 685.5,376.4 688.2,375.4 689.2,373.2 690.7,371.8 691.7,369.5 694,368.6 696.7,369.1 699.3,370.1 701.9,368.5 703.9,367.7 706.1,369.2 707.9,367.4 710.2,368.4 712,367.1 714,366.1 716,365 718.3,363.3 719.8,361.1 718.9,359.1 718.3,357.1 718.3,354.9 718.5,352.8 718.1,350.7 716.3,349 716.2,346.9 714.5,344.9 714.5,342.1 713.1,339.6 710.9,338.4 708.2,339 706,338.1 703.8,337.8 701.9,336.9 700,335.7 698.1,334.9 698.1,334.9 696.1,336 694,336.3 692,337 690,337 688,336.3 685.8,336.7 683.9,335.8 682,335.1 680.2,333.8 678.2,333 676,333.2 674.1,332 672,332.2 670,332 667.5,332.5 664.9,331.7 662.9,331.8 661,332.4 658.9,332.7 656.4,333.1 654,334 652.9,336.3 651,338 651.3,340.4 651.4,342.8 649.6,344.9 650.2,347.2 651,349.1 652.3,350.9 653.3,352.9 654.7,354.7 654.9,357.1 654.6,359.4 656.8,360.9 657.5,362.8 658.4,364.8 658.6,366.9 658.6,369.1 659,371.2 660.4,373 660.6,375.9 662.3,376.7 663.9,378.4 665.6,380.1 666.9,382.1 668.5,383.9 669.8,385.9 671.7,387.3 673.5,388.5Z" fill="#7dfde0" stroke="#7dfde0" stroke-width="0.6"/>
<path d="M646.1,431.1 647.1,430 647.5,428 648,426.1 646.8,423.9 647.8,421.9 647.5,419.8 649.8,418.2 648.7,415.8 649.7,413.9 651.8,412 650.6,409.1 652.1,407.2 654.2,405.6 656.5,404.3 658.1,402.2 660,401.4 662,400.5 664.4,400.8 666.3,399.5 667.8,398 669,396.2 671.6,396.5 672.8,394.9 673.2,392.3 675,390.3 675.1,390 673.5,388.5 671.7,387.3 669.8,385.9 668.5,383.9 666.9,382.1 665.6,380.1 663.9,378.4 662.3,376.7 660.6,375.9 659.6,375.4 657.8,373.5 656.2,371.7 654.3,370.8 651.9,371.2 650.1,369.9 648.1,368.8 645.9,367.5 643.6,368.2 641.5,369.5 638.9,368.5 636.5,368.9 634.5,370.9 632.1,370.8 629.6,371.4 628.2,369.2 626,369 623.5,368.1 621,367 619.3,368.8 618.3,371.4 616.4,373.1 613.7,373.8 613.5,376 612.1,377.4 610.8,378.7 610.1,380 611.6,382.4 613.6,384.3 615.2,385.5 616.8,386.8 616.6,388.8 615.9,391.5 615.2,394.2 613.2,396.2 611,397.7 610.9,397.7 613,398.5 614.5,399.8 615.8,401.3 617.5,403.5 619.9,405.1 620.9,407 623.5,407.7 624.4,409.7 624,412.9 625.7,415.1 628.2,416 629.5,417.7 630.2,419.8 631,422.1 633.7,422.2 634.9,424.2 636.2,425.8 638.2,426.3 639.8,427.4 642.3,427.9 644.4,429Z" fill="#b9ffe6" stroke="#b9ffe6" stroke-width="0.6"/>
<path d="M625.3,452.4 627.3,451.1 628.1,449.3 630,448.3 632.2,448.2 634.1,447.3 635.6,445.3 638.2,446 639.7,444 642.4,444.2 643.9,442.5 644.5,440.2 645.1,438 645.8,436.1 645.8,434 645.4,431.7 646.1,431.1 644.4,429 642.3,427.9 639.8,427.4 638.2,426.3 636.2,425.8 634.9,424.2 633.7,422.2 631,422.1 630.2,419.8 629.5,417.7 628.2,416 625.7,415.1 624,412.9 624.4,409.7 623.5,407.7 620.9,407 619.9,405.1 617.5,403.5 615.8,401.3 614.5,399.8 613,398.5 610.9,397.7 609,398.5 607,398.4 605,397.9 603,398.6 600.7,398.4 599.1,400.2 596.8,400.1 595.6,401.9 594.2,403.1 592.9,405.2 591.5,407.1 590,409 587.4,409.4 585,410.2 583.1,412.1 580.8,412.6 579.5,414.5 578.5,416.1 576.9,418.4 576.8,420.8 575.6,422.9 573.6,424.3 571.2,426.8 571.9,427.5 574,428.7 576.2,429.7 578.3,430.9 580.6,431.8 581.7,434.4 584.7,433.4 587.2,432.5 589.7,432.6 592,430.9 593.7,432.9 596.1,433.9 596.4,436.3 597.3,438.4 599.4,439.8 601.8,441.2 603.2,443.8 605.1,443.5 606.9,442.4 608.8,441.5 611.6,442.2 614.1,441.3 615.7,441.9 617.9,442.1 618.8,444.4 621,445.1 623.2,445.6 624.1,447.9 624.1,450.1Z" fill="#b9ffe6" stroke="#b9ffe6" stroke-width="0.6"/>
<path d="M599,476 600,475 602.2,474.7 603,472.1 605.8,472.9 607.2,471.2 608.4,469.1 609.9,467.3 612,466.1 613.9,465.1 616.2,466.4 617.9,464.8 619.9,463.9 621.5,462.1 623.5,461.9 624,459.6 624,457.2 624.6,454.8 625.1,452.5 625.3,452.4 624.1,450.1 624.1,447.9 623.2,445.6 621,445.1 618.8,444.4 617.9,442.1 615.7,441.9 614.1,441.3 611.6,442.2 608.8,441.5 606.9,442.4 605.1,443.5 603.2,443.8 601.8,441.2 599.4,439.8 597.3,438.4 596.4,436.3 596.1,433.9 593.7,432.9 592,430.9 589.7,432.6 587.2,432.5 584.7,433.4 581.7,434.4 580.6,431.8 578.3,430.9 576.2,429.7 574,428.7 571.9,427.5 571.2,426.8 569.9,425.6 567.4,425.8 565.5,428 563,428 561.6,429.8 560.1,431.3 558.4,432.7 556,433 555.6,435.3 553.3,436.6 552.2,438.6 552.1,441.5 552.1,441.5 552.4,444.3 554.3,445.8 554.6,448.2 556.3,449.7 558.5,450 560.8,450 561.8,452.4 563.7,453.6 564.7,455.9 567.2,456.8 569.5,457.1 571.3,459.2 573.8,459 576.1,459.6 578.1,460.5 579.9,461.7 582.4,461.2 584,463 586.1,464.6 588,466.4 590.3,467.7 591.4,469.7 592.9,471.2 594.7,472.3 597.3,473.7Z" fill="#02e3a6" stroke="#02e3a6" stroke-width="0.6"/>
<path d="M537.6,485.6 538.1,485.1 540.1,483.5 541.6,481.2 543.8,479.6 545.9,478.9 548.2,478.5 550,477.3 551.9,478.2 554,477.9 555.9,478.7 557.8,478.3 559.5,480.3 561.9,481.4 564.1,482.4 566.2,482.4 567.9,484.3 570,484 572.2,482.1 574.9,482.3 577.1,483.4 579.5,484.1 582,484.1 584,483.2 586.1,483.1 587.9,481.8 590.2,481.5 591.5,479 593.8,478.8 596.3,478.1 598.2,476.6 599,476 597.3,473.7 594.7,472.3 592.9,471.2 591.4,469.7 590.3,467.7 588,466.4 586.1,464.6 584,463 582.4,461.2 579.9,461.7 578.1,460.5 576.1,459.6 573.8,459 571.3,459.2 569.5,457.1 567.2,456.8 564.7,455.9 563.7,453.6 561.8,452.4 560.8,450 558.5,450 556.3,449.7 554.6,448.2 554.3,445.8 552.4,444.3 552.1,441.5 552.1,441.5 549.9,442 548.1,440.8 545.9,441 544.4,440.2 540.7,439.4 537.8,440.3 536.6,438.4 534,438.1 532.6,435.7 531.9,438.3 530,439.9 528.2,441.7 525.9,442.5 523.9,443.8 521.5,444.6 519.6,446.1 518,448 519.3,450.2 518.5,452.9 519.7,455.1 519.4,457 520,459.1 520.4,461.1 519.4,463 519.2,465.4 521.7,466.6 521.8,469.1 521.5,471 521,472.9 521.4,475.1 522.7,476.6 523.8,478.6 523.5,481.2 526.1,482.1 527.8,484 530,485.1 532.4,485.8 534.6,486.8 535.8,488.1 536.6,486.6Z" fill="#e8fff2" stroke="#e8fff2" stroke-width="0.6"/>
<path d="M537.6,485.6 536.6,486.6 535.8,488.1 536.3,488.5 537.7,487.9Z" fill="#e8fff2" stroke="#e8fff2" stroke-width="0.6"/>
<path d="M472.8,490.2 474.1,489.3 475.8,487.7 478.3,488.7 480,486.9 482,488.1 484.3,488.5 486.2,489.7 488.1,490.8 490.3,491.1 491.7,492.6 493.3,494 494.8,495.3 496.1,497 498,498.1 500.1,498.5 502.4,498.5 504.8,498.9 507,499.5 509.7,500.2 512.3,501.1 515.1,499.9 517,501.7 519.6,502.6 521.2,505 520.3,507.5 520.6,509.8 522.4,511.8 523.7,513.3 524.9,514.8 525.1,517 525.7,514.5 526.3,512.1 527.2,510.2 528.1,508.2 527.5,505.7 528.9,504 529.7,501.7 531.3,499.8 530.2,496.9 532.2,495.1 533.9,492.9 534.1,490.1 535.6,488.5 535.8,488.1 534.6,486.8 532.4,485.8 530,485.1 527.8,484 526.1,482.1 523.5,481.2 523.8,478.6 522.7,476.6 521.4,475.1 521,472.9 521.5,471 521.8,469.1 521.7,466.6 519.2,465.4 519.4,463 520.4,461.1 520,459.1 519.4,457 519.7,455.1 518.5,452.9 519.3,450.2 518,448 515.9,447.8 514.1,449.1 512.1,449.5 510,449.3 507.9,448.8 506,450 504.2,451.2 502.2,451.9 500.1,452.2 498.3,453.8 495.9,455 494.4,456.3 495,458.9 493.2,460.1 491.5,461.4 490,462.8 490.4,465.1 488.9,466.8 488,468.8 487.6,470.8 488,473.9 485.9,476.2 483.8,475.8 482.8,473.8 481,473.5 478.7,473.1 476.3,473.3 474,473 472.1,471.9 469.8,473.4 468,472 469.5,474.3 470.5,476.8 469.9,479.1 471.3,480.9 471.3,483 470.3,485.2 471.3,487.1Z" fill="#b9ffe6" stroke="#b9ffe6" stroke-width="0.6"/>
<path d="M377.9,475.3 379.7,476.6 382.3,476.3 383.9,478.2 386.5,478 387.7,480.6 390,481 392.7,480.5 395.3,480.3 398.1,481.3 399.9,479.9 402.1,479.8 403.9,479.2 405.7,480.7 407.8,480.9 410.3,480.6 412.2,482 413.7,484.1 415.9,485.1 418.3,486.4 420,488.3 421.6,490.4 423.7,492 426.3,493 428.2,494.5 429.7,496.5 431.7,497.5 434,498.1 436,498.6 438.2,498.9 440.5,498.3 442.6,499.7 444.8,500.3 447,500.6 449.2,499.9 451.3,501 453.5,500.8 455.7,500.5 457.8,500.8 460.2,501.5 462.3,501 463.8,499 465.9,498.3 468.2,498.3 470.4,497.2 471.4,495.2 471.7,492.9 472.1,490.6 472.8,490.2 471.3,487.1 470.3,485.2 471.3,483 471.3,480.9 469.9,479.1 470.5,476.8 469.5,474.3 468,472 468,469.9 467,468 467.2,466.1 467,463.8 469.2,462.3 469,460 469,457.8 469.5,455.7 470.7,454.1 469.4,452.3 469.1,449.8 466.4,450.3 464.1,449.5 462.1,447.7 460.1,446 457.4,445.8 455.1,444.8 453.6,443.6 451.4,443.5 449.2,441.1 446.9,442.6 445.8,444.7 443.9,445.4 442.6,447.2 440.7,448 439,449 437,450.8 434.7,451.8 432,452.1 429.9,451.7 428.1,453.3 425.8,453.3 424.4,451.2 422,450.9 420.1,450.3 418.2,451.2 415.8,450.8 413.8,451.7 412,452.9 410.2,454.4 408.1,455.2 405.8,455.7 404.5,458.1 402.3,459 399.6,459.2 398.1,461.3 396,461.9 393.7,461.6 391.9,462.9 390.2,464.4 388.2,465.4 386.3,466.6 383.9,467.4 382.1,466.2 380,466.5 378,466 376.5,467.7 377.7,470.3 375.6,471.9 376.2,473.5 376.3,473.5 377.8,475.2Z" fill="#02e3a6" stroke="#02e3a6" stroke-width="0.6"/>
<path d="M377.8,475.2 377.9,475.3 377.9,475.3Z" fill="#02e3a6" stroke="#02e3a6" stroke-width="0.6"/>
<path d="M377.8,475.2 376.3,473.5 376.2,473.5 376.4,473.9Z" fill="#02e3a6" stroke="#02e3a6" stroke-width="0.6"/>
<path d="M307.9,494.2 308,494.3 309.9,494.3 312.7,493.6 315.1,495 315.3,493 316.5,491.1 315.9,489 315.6,487 315.3,484.5 316.3,482 316.7,479.5 315.5,477 316.9,474.5 315,472 316.3,469.5 316.2,467 317.6,464.7 317.3,462.2 318.3,460.2 319,458.1 321,458.5 323,458.1 324.9,459.8 327.1,458.7 329.7,459.1 331.4,461.7 333.8,462.1 335.9,464.1 335.8,466.4 338.2,465.8 340.4,464.8 342.7,464.7 345.2,463.2 346.9,461.5 349.2,462.4 351.6,462.5 354.2,461.5 355.7,463.6 357.9,464.2 359.8,465.4 362.3,465.1 363.7,466.7 365.2,468.2 366.8,469.3 368.3,470.6 370.3,471 372.2,471.5 373.8,473.4 376.2,473.5 375.6,471.9 377.7,470.3 376.5,467.7 378,466 376.1,464.7 374.6,462.9 373.1,461.1 371.5,460.2 372.5,458 372.4,455.2 373.2,452.9 374.9,450.9 376.3,448.7 378.6,447.2 379.6,445.2 379.6,445.1 379.2,442.4 378.1,439.8 375.9,439.2 374.1,438.4 372.2,439.4 370,438.9 368.1,438.8 365.7,439 363.8,437.9 361.6,437.8 360.4,435.6 358.7,434 356.6,432.8 354.7,431.1 353.7,429.2 353.7,427.1 354,424.9 352,424.5 350,424.6 348,424.2 347.1,423.8 346,423.4 343.9,424.2 342.1,422.4 339.9,423.2 337.7,421.9 335.3,421.2 333.1,419.9 331.6,417.8 329,417.3 326.8,416.4 325.6,414.3 323.2,414.5 322,412.6 320.2,411.6 317.9,411.6 316.3,410.3 315.3,408 313.5,407.7 311.3,406.3 307.6,410.6 305.5,411.4 303.9,412.9 302.8,415.1 300.6,416.5 300.1,419.1 297.4,420 296,422.4 293.5,424 293.9,426.3 294.2,428.7 294.3,430.9 294.8,433.3 294.4,435.9 296,438.1 293.1,438.1 291,439.8 289.1,441 286.9,439.9 285,441 284,443 282.6,444.6 280.8,445.8 282,447.7 282.1,450 284.8,450.8 285,453 285.3,455.2 286.8,456.6 287.9,458.3 289.4,459.8 290.7,461.6 291.5,463.8 291.2,466.4 292.6,468.2 294.6,469.7 294.1,472.4 297,473.5 296.9,476.1 297.6,478.6 300.3,479.8 300.7,482.6 302.9,484.1 304.9,485.2 305.3,487.3 306.1,489.2 307.3,490.9Z" fill="#02e3a6" stroke="#02e3a6" stroke-width="0.6"/>
<path d="M289.3,509.9 288.6,507.8 289.8,505.8 291.8,504.7 291.9,502.1 294.3,501.4 296.3,500.5 298,499.2 298.8,496.7 300.3,495.4 302.4,495.2 304,494.5 306,493.1 307.9,494.2 307.3,490.9 306.1,489.2 305.3,487.3 304.9,485.2 302.9,484.1 300.7,482.6 300.3,479.8 297.6,478.6 296.9,476.1 297,473.5 294.1,472.4 294.6,469.7 292.6,468.2 291.2,466.4 291.5,463.8 290.7,461.6 289.4,459.8 287.9,458.3 286.8,456.6 285.3,455.2 285,453 284.8,450.8 282.1,450 282,447.7 280.8,445.8 282.6,444.6 284,443 285,441 284.5,439.2 283.2,437.9 282.1,435.7 280.8,433.7 278.6,432.4 278,429.8 275.6,429.4 274.1,427.9 272.5,425.7 269.5,425.3 267.8,423.3 265.3,422.2 263.9,419.8 262.1,417.9 259.8,417 258.6,414.5 256,414 254.6,412.6 253.6,410.9 252.9,408.5 251,409.6 249,410 249.5,412 250.5,413.9 249.3,416.1 249.9,418 247.9,418.8 246.3,420.2 245.3,422.3 245.3,424.1 245.3,426.2 243.6,427.9 243.8,430.4 242.8,432.4 241,434 240.5,436 240.3,438 240,440 239.8,442 240.1,444 239.5,446 240.5,448 239.8,450.1 241.5,451.9 239.8,453.8 238.1,455.1 237.4,457.3 235.3,458 235,460 236.4,461.4 238.9,461.1 239.8,463.3 242.3,464.3 244.4,465.9 245.9,468.1 247.8,469.2 248.9,471.1 251.1,471.9 251.7,474.3 254,475.4 254.8,477.9 257.3,478.7 258.2,481.2 259.6,483.1 262.1,483.9 264,485.5 264.2,487.9 264.9,490.1 267.5,490.1 269.6,491.4 272.1,491.6 274.1,493.9 275.8,496.2 277.8,497.2 279.1,499 281.3,499.7 282.1,502.2 284.9,502.7 285.7,505.3 286,507.3 287.1,508.9Z" fill="#0a8f82" stroke="#0a8f82" stroke-width="0.6"/>
<path d="M204.5,499.5 205.6,500.8 208,502.1 210.3,502.9 212,504.7 213.6,506.2 214.1,508.7 215.5,510.9 217.5,512.8 218.8,515 220,517.2 219.9,520.2 222.3,520.6 224.2,522.5 226.4,523.2 228.9,523.3 231.4,522.9 233.3,524.7 235.5,525.4 238.1,524.7 239.9,526.3 241.8,527.4 243.8,528.4 246,528.9 247.8,527.7 249.8,527 251.8,526.9 252.4,525 254.6,524 254.6,521.8 256,520 257.1,518.1 258.1,516.3 260.6,515.8 263.3,514.6 265.2,515.1 266.3,517 267.9,518.3 269.7,519.7 272.3,518.4 274.1,519.9 276.3,519.9 278.2,520.9 279.6,523.3 282.1,523.2 284.7,522.4 286.8,521 287.9,518.7 287.4,516.3 287.5,513.9 289,512.1 289.4,510.1 289.3,509.9 287.1,508.9 286,507.3 285.7,505.3 284.9,502.7 282.1,502.2 281.3,499.7 279.1,499 277.8,497.2 275.8,496.2 274.1,493.9 272.1,491.6 269.6,491.4 267.5,490.1 264.9,490.1 264.2,487.9 264,485.5 262.1,483.9 259.6,483.1 258.2,481.2 257.3,478.7 254.8,477.9 254,475.4 251.7,474.3 251.1,471.9 248.9,471.1 247.8,469.2 245.9,468.1 244.4,465.9 242.3,464.3 239.8,463.3 238.9,461.1 236.4,461.4 235,460 233.8,462.2 233.7,465 231.6,466.8 231.5,469.3 230.6,471.6 231,474 228.6,474.3 226.2,474.9 224.1,476.2 221.3,476.7 218.7,475.2 216,476.4 213.5,475.4 211.4,477.3 209.1,477.5 208.9,479.8 206.7,481.9 206.7,484.6 208.5,486.6 208.8,489.1 208.9,491.5 206.8,493.4 206.8,495.9 206.7,497.9Z" fill="#7dfde0" stroke="#7dfde0" stroke-width="0.6"/>
<path d="M163,463 164.1,461.5 166.1,462.2 168.3,462.7 169.2,465.1 171.3,466.3 173.5,467.7 174.1,470.1 175.3,472.2 177,473.9 179.4,474.2 180.6,476.7 182.7,477.1 183.5,479 184.4,480.8 186.5,482 186.9,484.1 188.1,485.7 188.6,487.7 190.7,488.9 190.7,491.3 193.3,492.7 195.1,494.6 197.5,495.1 199.8,495.9 202.1,496.9 203.9,498.8 204.5,499.5 206.7,497.9 206.8,495.9 206.8,493.4 208.9,491.5 208.8,489.1 208.5,486.6 206.7,484.6 206.7,481.9 208.9,479.8 209.1,477.5 211.4,477.3 213.5,475.4 216,476.4 218.7,475.2 221.3,476.7 224.1,476.2 226.2,474.9 228.6,474.3 231,474 230.6,471.6 231.5,469.3 231.6,466.8 233.7,465 233.8,462.2 235,460 235.3,458 237.4,457.3 238.1,455.1 239.8,453.8 241.5,451.9 239.8,450.1 240.5,448 239.5,446 240.1,444 239.8,442 240,440 238.8,441.8 237,442.8 234.9,443.3 233.1,441.8 231,441.8 228.7,442.5 226.3,442.5 224,443 222.2,441.6 220.5,440.1 218,440.1 215.7,439.4 215.1,436.8 213.1,436.3 210.4,436.2 208,437.1 205.7,437.6 203.3,438.3 201,438.9 198.6,438.4 196.6,436.7 194.1,436.7 192.2,435.7 189.7,436.3 187.8,435.4 185.9,434.4 183.8,432.9 181.6,431.7 177.9,431.6 177.8,432 175.8,432.5 174.1,433.5 171.9,433.8 170.1,435.9 169.5,438.4 169.2,441.1 167.6,443.1 168.4,445.6 168.1,447.9 166.5,449.9 166,451.9 165.1,453.8 164.4,455.9 163.5,457.8 163.6,460.5Z" fill="#02e3a6" stroke="#02e3a6" stroke-width="0.6"/>
<path d="M109.9,405.8 110.1,408.4 111.8,410.1 112.3,412.8 114.2,414.9 115.2,417 116.1,419.2 118,420.7 120.2,421.9 121.4,424.1 122,426.8 123.2,429.1 124.7,431.3 126.2,432.8 127.3,434.6 129.4,435.6 130.8,437.3 131.8,439.4 134.5,439.1 136.3,440.4 137.8,442.5 139.9,443.1 142.3,443.7 143.2,445.8 145.5,446.5 146.3,448.7 148.4,449.7 148.7,452.2 149.8,454.5 151.6,456.3 152.7,458.6 155.3,459.6 157.2,460.7 158.8,462.1 160,464 162.4,463.8 163,463 163.6,460.5 163.5,457.8 164.4,455.9 165.1,453.8 166,451.9 166.5,449.9 168.1,447.9 168.4,445.6 167.6,443.1 169.2,441.1 169.5,438.4 170.1,435.9 171.9,433.8 174.1,433.5 175.8,432.5 177.8,432 177.9,431.6 178.7,429.7 181,428.4 181.5,425.9 182.2,423.9 183.5,422.1 183.4,420 183.7,417.9 184.7,416 185.1,414 186.3,412.2 185.9,409.9 186.6,407.9 187.2,405.9 187.7,403.8 189.2,402.1 190.4,400.3 190.3,398 190.9,395.5 190.6,393 190.1,390.5 190,390 188.2,391.4 186.1,391.5 183.9,392.3 182.1,390.5 179.8,391.5 178,390.4 176.1,389.5 173.9,389.2 172.3,387.4 170,387.6 168,387.1 166.1,388.1 164.1,388.2 161.9,388.2 159.8,387.8 158.8,385.9 156.6,385.3 156.5,382.5 154.8,380.7 152.9,379.4 150.3,378.5 148,376.9 145.9,377.1 144.2,375.4 141.8,376.2 139.3,374.7 137.9,371.7 136.1,373 133.9,371.8 131.9,372.7 129.5,373.1 128.1,375.2 126,376 125.4,378.4 124,380.2 122.6,382.1 122.1,384.5 120.2,386.1 120.2,388.1 121.7,389.8 120.7,392.2 121.9,394 122,396.1 123.5,397.9 123.6,400 123.8,402.1 122.2,404.2 120.4,406.4 117.7,405.2 115.3,405.4 113,406.2 110.1,406Z" fill="#02e3a6" stroke="#02e3a6" stroke-width="0.6"/>
<path d="M109.9,405.8 109.9,405.6 108,404 108,404Z" fill="#0a8f82" stroke="#0a8f82" stroke-width="0.6"/>
<path d="M108,404 108,404 109.9,405.6 109.9,405.8 110.1,406 113,406.2 115.3,405.4 117.7,405.2 120.4,406.4 122.2,404.2 123.8,402.1 123.6,400 123.5,397.9 122,396.1 121.9,394 120.7,392.2 121.7,389.8 120.2,388.1 120.2,386.1 122.1,384.5 122.6,382.1 124,380.2 125.4,378.4 126,376 125.9,373.5 124.9,371.5 122.8,369.9 124.1,367.7 125.6,366.2 125.8,363.2 124.2,360.7 122.2,360.3 120.8,358.7 119.1,358.4 116.9,357.8 115.1,359.1 112.8,359.1 112.2,356.9 111,355 109.3,353.5 107.2,353 104.9,353.2 102.5,353.3 99.9,353.5 98,354.7 95.7,354.4 94.1,356.3 92,356.6 89.9,356.2 88.1,357.3 85.4,356.9 83.1,355.6 81,356.7 78.8,356.7 77.1,358.3 74.9,359.4 72.4,359.6 70.1,360.3 67.7,358.4 64.7,359.2 65.9,361 67.8,362.6 67.9,365 69.4,366.7 69.3,369.1 71.1,370.7 70.4,373.1 70.7,375.4 72.2,377.6 71.7,380.2 73.4,382.2 76.2,383.3 77.3,385.8 78.2,388.1 79.4,390.2 81.1,392 82,394.2 84.5,395.4 85,398.2 87.1,399 89.5,399.2 91.8,399.1 94,400.4 95.9,401.2 98,400.2 100,400.6 101.9,401.1 103.6,402.8 105.6,403.9Z" fill="#0a8f82" stroke="#0a8f82" stroke-width="0.6"/>
<path d="M63.3,309.3 61.8,310.9 61.9,313.4 59.5,314.8 59,317 59,319.5 57.5,321.2 55.2,322.6 54.4,324.7 54.4,327.4 52.8,329.2 50.7,330.3 48.7,332.3 51.2,333.1 52,335.5 53.1,337.6 54.7,339.2 56.3,341 57.4,343.2 59.1,344.9 59.1,347.7 61.9,349.3 62.1,351.9 63.1,354.3 63,357.1 64.7,359.2 64.7,359.2 67.7,358.4 70.1,360.3 72.4,359.6 74.9,359.4 77.1,358.3 78.8,356.7 81,356.7 83.1,355.6 85.4,356.9 88.1,357.3 89.9,356.2 92,356.6 94.1,356.3 95.7,354.4 98,354.7 99.9,353.5 102.5,353.3 104.9,353.2 107.2,353 109.3,353.5 111,355 112,352.5 113.6,350.4 116.1,349.1 116.5,348.9 116.1,346.9 114.9,345 115.8,343 115.3,340.7 116.9,339 117.2,336.6 119.9,335.5 120.1,333 119.1,330.5 118.2,327.9 116.8,326.1 115.2,324.4 115.4,321.9 114.8,319.8 114.4,317.8 113.1,315.9 111.3,314.3 110.7,311.8 108.7,309.9 111,307.9 111.4,304.7 109.4,303.7 108.8,301.8 108.1,300.1 108.1,300.1 106.9,300.8 105.5,301.5 104.2,304.2 101.6,303.6 99.9,305.2 98.1,306.2 95.3,305.4 92.7,306.1 90,306.4 88,305.4 86,307 84,305.6 82.2,307.2 79.9,307 77.8,307.5 76,308.3 73.9,308.6 72.1,309.9 70.1,310.6 67.5,310.7 65.2,310.1Z" fill="#7dfde0" stroke="#7dfde0" stroke-width="0.6"/>
<path d="M137.8,258.2 139.4,260.1 138.5,262.9 140.2,264.9 139.6,267.1 141.5,268.9 141,271 138.3,272.3 137.2,275.2 139.4,276.6 141,279 142.4,280.8 143,283 145.5,283.3 148,284 149.8,285.4 152,285 153.4,283.5 154.7,281.9 154.9,279.7 156.2,278.1 158.1,276.5 159.7,274.3 161.8,272.7 164.2,271.5 165.4,268.9 168.3,268.4 169.6,266.1 171.4,264.6 173.5,263.5 176.3,263.4 177.8,261.7 179.6,260.3 181.8,259.5 184.7,258.9 187.3,260.4 190,260.2 192.2,259.7 194.2,259 195.6,256.8 198,257.1 199.8,255.4 202.4,254.9 204.2,253.3 206.7,252.8 208.3,250.1 211,250.4 211.6,250 212.8,248.8 213.7,247.5 213.9,247.2 213.6,244.8 216.1,243.7 218,243 217,240.6 214.2,240.2 212.9,238.1 211,236.5 210,234.5 209.7,232.3 207.7,231 205.9,229.4 205,227 204.9,224.7 204.9,222.3 204.2,220.1 203,218 202.9,218 201.2,218.7 199.3,219.4 197.9,220.8 195.8,220.6 194,222 192.5,224.1 192.1,226.5 192,228.7 190.1,229.7 188.2,230.7 186,230.1 183.7,230.7 181.5,231.6 179.1,230.4 176.7,230.8 174.4,229.6 172,230 169.3,231.3 168.1,234.1 166.6,235.4 164.2,235.2 163.2,237.4 161.3,237.9 159.9,239.3 157.8,239.7 157.6,242 156.7,243.9 157.4,246.1 155.1,247.4 153.5,249.2 152,251 149.7,251.5 147.7,252.3 146.2,254.4 144.3,256 142.2,257.6 140.2,259.3Z" fill="#e8fff2" stroke="#e8fff2" stroke-width="0.6"/>
<path d="M143,283 141.9,285.5 140.3,287.5 137.6,288.7 136.6,290.5 135.2,291.9 135.3,294.2 132.7,292.4 129.8,292.4 128,291.6 126.1,291 124,291.2 121.2,291.2 119,292.9 116.9,293.8 114.6,294.2 113.2,296.4 110.6,296.4 109.5,298.4 108.1,300.1 108.8,301.8 109.4,303.7 111.4,304.7 111,307.9 108.7,309.9 110.7,311.8 111.3,314.3 113.1,315.9 114.4,317.8 114.8,319.8 115.4,321.9 115.2,324.4 116.8,326.1 118.2,327.9 119.1,330.5 120.1,333 119.9,335.5 117.2,336.6 116.9,339 115.3,340.7 115.8,343 114.9,345 116.1,346.9 116.5,348.9 116.1,349.1 118,348.5 119.7,346.8 122,347 124,347.1 126,347.4 128.1,347.5 130.1,347.5 131.9,349.4 134,348.8 135.4,347.5 137,346.4 138.9,345.8 142,347 142.3,344.6 141.1,342.4 141.2,340 140.5,337.6 139.2,335.5 139,333 141.1,331 144.1,331.2 146.4,330.1 148.9,329.6 150.2,331.8 152.3,332.7 153.9,332.1 156.1,333.1 157.9,331.6 159.9,330.4 162.2,329.3 163.7,327.6 164.3,325.4 166.4,323.9 166.3,321.6 165.8,319.3 165.4,317.2 166.4,315.2 167,313 168.1,311.1 169.6,309.9 171.8,309.8 172.9,307.8 175,307.1 176.2,304.9 178.8,305 180.7,304 181.8,300.5 179.6,300.9 178.2,298.6 176,297.9 173.9,297.3 172.3,295.4 170,295.1 167.9,294.4 166.2,292.9 164.1,292.4 162.1,291.6 159.8,291 157.6,289.6 155.5,289.7 153.7,288.5 153.5,286.3 152,285 149.8,285.4 148,284 145.5,283.3Z" fill="#0a8f82" stroke="#0a8f82" stroke-width="0.6"/>
<path d="M152,285 153.5,286.3 153.7,288.5 155.5,289.7 157.6,289.6 159.8,291 162.1,291.6 164.1,292.4 166.2,292.9 167.9,294.4 170,295.1 172.3,295.4 173.9,297.3 176,297.9 178.2,298.6 179.6,300.9 181.8,300.5 182.3,300.5 184.4,301.3 186.2,302.6 188.2,304.3 190.3,305.8 192.9,306.3 193.2,306.7 196.3,304.4 199,303.8 201.6,304 203.8,302.8 205.9,301.6 207.2,299.5 208.8,297.9 210.2,295.9 211.5,293.9 213,292 212.2,290.2 210.4,289 210.3,286.6 207.7,286.2 206.5,283.6 204.4,282.9 204.6,280.8 203.7,278.9 202.8,276.8 204.5,275.5 207,275.1 207.4,272.9 208.2,270.6 207.7,268.2 209.5,265.7 207.7,264 206.8,261.7 204.9,259.9 206,258 207.3,256.2 207.9,253.9 210.1,252.9 210.7,250.6 211,250.4 208.3,250.1 206.7,252.8 204.2,253.3 202.4,254.9 199.8,255.4 198,257.1 195.6,256.8 194.2,259 192.2,259.7 190,260.2 187.3,260.4 184.7,258.9 181.8,259.5 179.6,260.3 177.8,261.7 176.3,263.4 173.5,263.5 171.4,264.6 169.6,266.1 168.3,268.4 165.4,268.9 164.2,271.5 161.8,272.7 159.7,274.3 158.1,276.5 156.2,278.1 154.9,279.7 154.7,281.9 153.4,283.5Z" fill="#e8fff2" stroke="#e8fff2" stroke-width="0.6"/>
<path d="M193.2,306.7 192.9,306.3 190.3,305.8 188.2,304.3 186.2,302.6 184.4,301.3 182.3,300.5 181.8,300.5 180.7,304 178.8,305 176.2,304.9 175,307.1 172.9,307.8 171.8,309.8 169.6,309.9 168.1,311.1 167,313 166.4,315.2 165.4,317.2 165.8,319.3 166.3,321.6 166.4,323.9 164.3,325.4 163.7,327.6 162.2,329.3 162.2,329.3 162.3,331.8 164.4,333.9 163.8,336.6 162.7,338.9 164.9,340.8 165.5,343.7 167.5,344.5 168.3,344.8 167.6,345.7 167.8,348.3 168.7,350.2 169.6,352.1 170.9,354.1 173.3,354.7 175.4,354 177.9,353.5 179.4,352.5 180.3,350.9 180.9,349.1 180.5,348.8 181.9,346.9 183.4,345.4 184.2,342.9 187.1,342.4 188.2,340.2 189.8,338.5 191.3,336.6 192.3,335.9 193.5,335.1 192.8,332.4 194.9,330.5 194.7,328 194.3,325.9 195.6,324 195.4,322 196.2,320 195.9,317.3 195.7,314.7 196.5,311.7 195.5,309.8 194.2,307.9Z" fill="#02e3a6" stroke="#02e3a6" stroke-width="0.6"/>
<path d="M193.2,306.7 194.2,307.9 195.5,309.8 196.5,311.7 195.7,314.7 195.9,317.3 196.2,320 195.4,322 195.6,324 194.3,325.9 194.7,328 194.9,330.5 192.8,332.4 193.5,335.1 192.3,335.9 195.4,336.2 198,336 199.2,333.2 202.2,332.2 203.6,330 206.1,329.5 208.1,329.4 209.8,327.4 212.2,327.8 213.2,329.9 214.8,331.3 217.1,332.1 218.4,329.7 221.3,329.3 222.6,327.2 224.3,325.7 226.3,324.4 228.5,323.4 230.6,322.2 232,320 233.1,318.1 235.3,317.1 234.6,314.6 236.6,313.1 236.7,310.8 237.7,309.1 239,307.7 240.6,305.9 240.5,303.5 238.3,301.5 239,299 237.3,297.2 235.1,296.2 232.6,295.4 230.9,293.4 230,290.7 227.6,288.7 227.6,288.7 225.8,290 223.4,290.1 221,289.7 218.9,290.2 217.1,291.2 214.9,291.1 213,292 211.5,293.9 210.2,295.9 208.8,297.9 207.2,299.5 205.9,301.6 203.8,302.8 201.6,304 199,303.8 196.3,304.4Z" fill="#0a8f82" stroke="#0a8f82" stroke-width="0.6"/>
<path d="M192.3,335.9 191.3,336.6 189.8,338.5 188.2,340.2 187.1,342.4 184.2,342.9 183.4,345.4 181.9,346.9 180.5,348.8 180.9,349.1 182.7,350.6 183.6,352.7 183.9,355.1 185,357.3 185.7,359.8 186.7,362.1 188,363.9 187.9,365.9 188.2,367.9 188.5,369.9 187.4,372.5 188,374.8 188.8,377 188.8,377.1 190.9,375 193.4,374.3 196.2,374.4 198.2,374.7 200.4,375.4 202.6,376.1 204.9,376.5 207.1,375.5 209.1,374.8 209.8,374.5 211.1,374 213.1,373.2 214.8,371.8 216.6,370.7 217.8,368.7 219.4,370.6 221.4,371.6 222.8,373.2 225.2,371.8 227.6,371.6 229.9,371.5 232.6,371.6 235,370.9 237.1,369.2 239.4,368.2 242.1,368.4 243.3,369.8 245.2,370.8 247.2,371.8 249.6,372.1 252,372.9 253.7,371.2 256,369.9 257.9,370.7 259.8,371.7 260.6,371.3 262.1,370.5 264,371.8 266.3,371.3 268.1,372.6 270.1,373.4 272,372.5 274.1,372.5 274.8,368.8 274.5,366.6 271.7,365.4 271.6,363.2 270.6,361.5 269.2,360 269.3,357.6 268.4,355.8 266.9,354.1 267.2,351.7 266.6,349.7 264.8,348.2 263.5,345.7 260.4,345.4 259.5,342.8 257,340.9 257,338 256.2,336.2 254.9,334.7 254.4,332.6 251.4,331.6 250.1,328.9 247.9,328.3 246.4,326.1 243.9,326.2 242.4,324.2 239.6,324.8 238.1,322.8 236,321.9 233.7,321.6 232,320 230.6,322.2 228.5,323.4 226.3,324.4 224.3,325.7 222.6,327.2 221.3,329.3 218.4,329.7 217.1,332.1 214.8,331.3 213.2,329.9 212.2,327.8 209.8,327.4 208.1,329.4 206.1,329.5 203.6,330 202.2,332.2 199.2,333.2 198,336 195.4,336.2Z" fill="#b9ffe6" stroke="#b9ffe6" stroke-width="0.6"/>
<path d="M188.8,377.1 188.8,377 188,374.8 187.4,372.5 188.5,369.9 188.2,367.9 187.9,365.9 188,363.9 186.7,362.1 185.7,359.8 185,357.3 183.9,355.1 183.6,352.7 182.7,350.6 180.9,349.1 180.3,350.9 179.4,352.5 177.9,353.5 175.4,354 173.3,354.7 170.9,354.1 169.6,352.1 168.7,350.2 167.8,348.3 167.6,345.7 166.6,347.2 167.3,349.7 167.3,352 165.4,353.7 164.3,355.9 161.8,356.8 159.3,356.5 157.2,354.6 156.2,353.2 154.7,351.8 153.7,350.2 153.2,348.4 151.7,347.2 149.9,346.5 148.1,348.5 146,348 144,347.4 142.8,347.3 141.9,347.3 142,347 138.9,345.8 137,346.4 135.4,347.5 134,348.8 131.9,349.4 130.1,347.5 128.1,347.5 126,347.4 124,347.1 122,347 119.7,346.8 118,348.5 116.1,349.1 113.6,350.4 112,352.5 111,355 112.2,356.9 112.8,359.1 115.1,359.1 116.9,357.8 119.1,358.4 120.8,358.7 122.2,360.3 124.2,360.7 125.8,363.2 125.6,366.2 124.1,367.7 122.8,369.9 124.9,371.5 125.9,373.5 126,376 128.1,375.2 129.5,373.1 131.9,372.7 133.9,371.8 136.1,373 137.9,371.7 139.3,374.7 141.8,376.2 144.2,375.4 145.9,377.1 148,376.9 150.3,378.5 152.9,379.4 154.8,380.7 156.5,382.5 156.6,385.3 158.8,385.9 159.8,387.8 161.9,388.2 164.1,388.2 166.1,388.1 168,387.1 170,387.6 172.3,387.4 173.9,389.2 176.1,389.5 178,390.4 179.8,391.5 182.1,390.5 183.9,392.3 186.1,391.5 188.2,391.4 190,390 189.7,388 189.9,385.8 189,383.7 188.6,381.5 190.3,379.1Z" fill="#0a8f82" stroke="#0a8f82" stroke-width="0.6"/>
<path d="M188.8,377.1 190.3,379.1 188.6,381.5 189,383.7 189.9,385.8 189.7,388 190,390 190.1,390.5 190.6,393 190.9,395.5 190.3,398 190.4,400.3 189.2,402.1 187.7,403.8 187.2,405.9 186.6,407.9 185.9,409.9 186.3,412.2 185.1,414 184.7,416 183.7,417.9 183.4,420 183.5,422.1 182.2,423.9 181.5,425.9 181,428.4 178.7,429.7 177.9,431.6 181.6,431.7 183.8,432.9 185.9,434.4 187.8,435.4 189.7,436.3 192.2,435.7 194.1,436.7 196.6,436.7 198.6,438.4 201,438.9 203.3,438.3 205.7,437.6 208,437.1 210.4,436.2 213.1,436.3 215.1,436.8 215.7,439.4 218,440.1 220.5,440.1 222.2,441.6 224,443 226.3,442.5 228.7,442.5 231,441.8 233.1,441.8 234.9,443.3 237,442.8 238.8,441.8 240,440 240.3,438 240.5,436 241,434 239.8,432.2 237.9,431.7 235.9,431.2 234.1,429.7 231.8,429.4 229.7,428.5 228.7,426.4 226.2,426.8 224.9,425.1 223.9,423.2 222.6,421.5 220.7,420.1 219.7,417.8 219.2,415.2 218.2,412.9 216.6,411.2 216.3,408.9 215.1,407 215,404.3 213.3,402.2 211.9,400 211.7,397.9 212.8,396 213.3,393.9 211.6,392.3 211.4,390.1 211.4,388.1 210.9,385.8 212.9,384.2 213.2,381.9 212.5,379.5 210.5,377.5 209.8,374.5 209.1,374.8 207.1,375.5 204.9,376.5 202.6,376.1 200.4,375.4 198.2,374.7 196.2,374.4 193.4,374.3 190.9,375Z" fill="#e8fff2" stroke="#e8fff2" stroke-width="0.6"/>
<path d="M211,250.4 211.2,250.4 211.6,250Z" fill="#b9ffe6" stroke="#b9ffe6" stroke-width="0.6"/>
<path d="M211.6,250 211.2,250.4 211,250.4 210.7,250.6 210.1,252.9 207.9,253.9 207.3,256.2 206,258 204.9,259.9 206.8,261.7 207.7,264 209.5,265.7 207.7,268.2 208.2,270.6 207.4,272.9 207,275.1 204.5,275.5 202.8,276.8 203.7,278.9 204.6,280.8 204.4,282.9 206.5,283.6 207.7,286.2 210.3,286.6 210.4,289 212.2,290.2 213,292 214.9,291.1 217.1,291.2 218.9,290.2 221,289.7 223.4,290.1 225.8,290 227.6,288.7 227.6,288.7 229.2,286.8 230.7,284.7 232.6,283.3 234.8,282.2 236.4,280.1 237,277.8 236.5,275.1 237.7,272.8 240,271.8 240.3,269.4 240.9,267.1 242.8,266.2 242.2,263.9 240.1,262.9 239,261 239.8,258.9 241.6,257.3 242.1,255.1 244.1,253.8 245,251.3 247.3,250 247.5,247.9 247.6,245.9 246.8,243.9 246,241.8 245.9,241.8 243.9,241.8 242.1,243.3 240,242.5 237.4,242.3 235,243 232.5,244.1 230,244.4 227.7,244.1 225.4,244.2 223.2,244 220.9,242.5 218.4,242.8 218,243 216.1,243.7 213.6,244.8 213.9,247.2 213.9,247.2 213.7,247.5 212.6,249.3Z" fill="#b9ffe6" stroke="#b9ffe6" stroke-width="0.6"/>
<path d="M213.7,247.5 212.8,248.8 211.6,250 212.6,249.3Z" fill="#b9ffe6" stroke="#b9ffe6" stroke-width="0.6"/>
<path d="M213.7,247.5 213.9,247.2 213.9,247.2Z" fill="#b9ffe6" stroke="#b9ffe6" stroke-width="0.6"/>
<path d="M218,243 218.4,242.8 220.9,242.5 223.2,244 225.4,244.2 227.7,244.1 230,244.4 232.5,244.1 235,243 237.4,242.3 240,242.5 242.1,243.3 243.9,241.8 245.9,241.8 246,241.8 248,241.9 249.3,239.6 251.8,238.8 252,236.9 253.5,235.1 253.2,232.9 253.8,231 256.7,230.2 258,227.7 260.3,226.3 261.2,224.4 261.1,222 262.8,220.7 264,219 263.9,216.8 262.3,215.1 262.2,212.9 261.1,211 259.7,209.1 259.8,206.3 257.1,204.7 257.3,201.9 255.3,200 253.9,197.8 253.7,195.1 253.9,194 251,195.1 248.5,194.4 246,193.8 244,193.2 242,194.9 240,194 239,195.9 237.2,197.2 235.9,198.8 233.9,199.8 232,201 230,202.2 227.9,202 226,202.8 224.2,204.1 222.1,204.4 219.8,205.1 217.2,203.5 215,205 213.2,206.4 211.1,207.3 209,207.9 207.2,210.2 204.7,211.7 204.9,214.2 204.7,216.3 203,218 204.2,220.1 204.9,222.3 204.9,224.7 205,227 205.9,229.4 207.7,231 209.7,232.3 210,234.5 211,236.5 212.9,238.1 214.2,240.2 217,240.6Z" fill="#b9ffe6" stroke="#b9ffe6" stroke-width="0.6"/>
<path d="M264,219 262.8,220.7 261.1,222 261.2,224.4 260.3,226.3 258,227.7 256.7,230.2 253.8,231 253.2,232.9 253.5,235.1 252,236.9 251.8,238.8 249.3,239.6 248,241.9 246,241.8 246.8,243.9 247.6,245.9 247.5,247.9 247.3,250 245,251.3 244.1,253.8 242.1,255.1 241.6,257.3 239.8,258.9 239,261 241.8,261.1 244,263 246,264 247.8,262.6 250.1,261.9 251.7,260 254.2,259.5 255.8,257.8 256.2,257.5 258.1,258.5 259.8,260 261.8,260.4 264.1,260.8 266.4,261.1 268,263.2 270.2,262.3 272,263.6 273.8,263.8 276.3,262.3 278.2,260.1 279.9,258.1 280.7,255.6 281.2,253 281.2,251 281.8,249 282,247 283.6,245.2 286.5,246 288.4,244.2 289.3,241.6 290.3,238.9 289.5,236.4 288.3,234.2 287,232 285.3,230.4 286.1,227.9 285.2,226 286.5,224.2 286.2,222.1 286.4,220 286.9,217.9 286.5,218.4 284,218.7 281.9,218.6 279.9,218.4 278.1,220.6 276.2,219.6 273.6,219.8 272.1,217.8 270,216.9 267.9,217.4 266.1,218.6Z" fill="#7dfde0" stroke="#7dfde0" stroke-width="0.6"/>
<path d="M309,200.9 308.7,200.7 306.7,202.7 304.9,204.9 303.5,206.3 302,207.5 300.1,208.3 298,209.1 296,209.9 293.8,210.8 292.6,213.6 289.9,214.9 288,216.3 286.9,217.9 286.4,220 286.2,222.1 286.5,224.2 285.2,226 286.1,227.9 285.3,230.4 287,232 288.3,234.2 289.5,236.4 290.3,238.9 289.3,241.6 288.4,244.2 286.5,246 283.6,245.2 282,247 283.4,249.3 286.6,249.7 288,252 289.5,253.7 289.5,255.9 290.4,257.9 291.4,259.4 293.7,259.3 295,261 297.2,259.8 299,257.9 301.5,257.7 304,257 305.7,258.7 307.7,259.3 310.1,259.3 312.2,259 314.2,258.2 315.8,256.9 316.2,254.3 317,251.9 319.2,250.3 320.9,248.9 321.7,246.6 324,246 325.9,245 328,244.2 329.2,242.2 331.8,240.7 331.5,239.6 330.4,238.1 330.2,235.9 331.4,234.1 331.6,232 331.8,230 331.1,228.1 330.2,226.2 330.1,224.1 329.7,221.9 329.8,219.4 330.8,217.2 332.2,214.7 330.8,213.5 328.7,213.3 327.1,210.9 326.2,209.8 325.3,208.7 322.9,207.1 320.9,205.3 319.1,203.9 317.3,202.3 315,202.3 312.9,202 310.9,202.1Z" fill="#0a8f82" stroke="#0a8f82" stroke-width="0.6"/>
<path d="M382,213 379,214.2 377.1,213 375,213.2 373,213.3 371.1,214 369.2,214.8 366.9,213.9 364.5,214.8 363.3,217.4 360.5,217.8 358.8,220.2 356.2,218.8 354.8,215.7 352.8,216.6 351,217.6 349,218.1 347,217.6 345,217.7 342.8,216.9 340.4,216.5 337.9,217.4 335.9,216.8 334.1,215.2 332.2,214.7 330.8,217.2 329.8,219.4 329.7,221.9 330.1,224.1 330.2,226.2 331.1,228.1 331.8,230 331.6,232 331.4,234.1 330.2,235.9 330.4,238.1 331.5,239.6 331.8,240.7 332.2,241.7 333.8,243.2 335.5,244.9 337.7,245.9 339.1,247.9 340.7,249.3 342.2,250.9 344.1,251.9 346.7,252.4 349.3,253 352,251.6 352.7,253.8 353.5,255.7 354.6,256.5 357.5,255.2 359.1,253.1 360.2,250.7 362,249.2 364.5,248.4 367.2,248.3 368.3,246.4 370.8,246.8 371.8,245.5 373.7,246.5 376.1,246.2 378.1,246.6 380.5,247.6 383.2,248.3 385,247.1 386.1,245 387.8,243.5 390.3,244.2 391.8,242 394,242 394.4,239.8 392.9,238 393.3,235.7 391.2,234.2 390.5,232.2 389.5,230.2 389.3,227.9 388.4,225.8 386,224.4 385,222.2 383.7,220.1 383.7,217.6 382.1,215.5Z" fill="#7dfde0" stroke="#7dfde0" stroke-width="0.6"/>
<path d="M354.6,256.5 353.5,255.7 352.7,253.8 352,251.6 349.3,253 346.7,252.4 344.1,251.9 342.2,250.9 340.7,249.3 339.1,247.9 337.7,245.9 335.5,244.9 333.8,243.2 332.2,241.7 331.8,240.7 329.2,242.2 328,244.2 325.9,245 324,246 321.7,246.6 320.9,248.9 319.2,250.3 317,251.9 316.2,254.3 315.8,256.9 314.2,258.2 312.2,259 310.1,259.3 307.7,259.3 305.7,258.7 304,257 301.5,257.7 299,257.9 297.2,259.8 295,261 294.2,262.9 294,264.9 294,267 294.9,269.4 295.6,271.8 296.5,274.2 297.2,276.8 298.8,279.1 297.7,281.1 296.2,283.1 298,282.9 299.8,281.7 302.3,283.1 303.7,280.4 306,281.1 308.2,281.5 309.9,279.7 311.9,281.2 314.1,281.7 316.1,282.7 317.8,281.7 319.7,280.8 322.1,281.4 323.8,282.3 325.7,283.2 328.2,282.5 329.9,283.8 332.1,283.3 334,284.2 336,283.4 337.9,282.3 340.2,282.5 341.6,280.2 344.2,281.2 346.1,280.4 347.4,278.3 348.8,276.8 350.4,275.4 352.2,273.7 354.7,274 356.4,273.7 356.1,273.5 355.7,271 357.1,268.8 356.6,266.3 357.5,263.9 355.3,262 355.7,259.3 355.1,256.9Z" fill="#0a8f82" stroke="#0a8f82" stroke-width="0.6"/>
<path d="M354.6,256.5 355.1,256.9 355.7,259.3 355.3,262 357.5,263.9 356.6,266.3 357.1,268.8 355.7,271 356.1,273.5 356.4,273.7 358,275 360.6,276.4 362,279 363.9,278.3 365.9,277.8 367.9,277.7 370.1,278 372.2,278 374,276.6 375.9,275.7 377.9,276.9 380,276.3 382.1,276.1 384.1,276.6 385.9,278 387.9,278.4 390,278.2 392,276.3 394.1,274.8 395.8,272.8 397.7,274.7 400.1,274 401.9,275.2 404.2,275 406.2,274.4 408,273 409.9,272.2 412,272.4 413.9,271.6 415.8,273.4 418.1,273 419.8,274.3 420.9,271.9 422.3,270 423.2,267.7 424.7,266 425.8,264.1 425.3,261.9 425.6,260.3 424,258.9 422.8,257.1 422.2,254.9 421.3,253.1 419.7,251.7 418.7,249.9 418.3,248.4 418.1,248.6 415.7,248.2 413.2,247.6 411.1,248.9 409.2,247.8 408.4,245.4 406.1,244.9 404.1,243.5 401.9,242.5 400.1,241.3 400.1,241.3 398.1,241.8 396,241.8 394,242 391.8,242 390.3,244.2 387.8,243.5 386.1,245 385,247.1 383.2,248.3 380.5,247.6 378.1,246.6 376.1,246.2 373.7,246.5 371.8,245.5 370.8,246.8 368.3,246.4 367.2,248.3 364.5,248.4 362,249.2 360.2,250.7 359.1,253.1 357.5,255.2Z" fill="#7dfde0" stroke="#7dfde0" stroke-width="0.6"/>
<path d="M362,279 360.6,276.4 358,275 356.4,273.7 354.7,274 352.2,273.7 350.4,275.4 348.8,276.8 347.4,278.3 346.1,280.4 344.2,281.2 341.6,280.2 340.2,282.5 337.9,282.3 336,283.4 334,284.2 332.1,283.3 329.9,283.8 328.2,282.5 325.7,283.2 323.8,282.3 322.1,281.4 319.7,280.8 317.8,281.7 316.1,282.7 314.1,281.7 311.9,281.2 309.9,279.7 308.2,281.5 306,281.1 303.7,280.4 302.3,283.1 299.8,281.7 298,282.9 296.2,283.1 296.2,283.1 294,283.7 292,284 292.9,285.9 292.9,288.2 294.1,290 294.6,292 295.1,294.1 295.8,296.1 298.1,295.8 300,296.8 302,296.8 304,296.7 305.8,298.9 308.3,299.9 309.7,302.4 310.4,304 310.2,306.1 311,308 310.6,310 310,312 312.1,311.5 313.8,313.6 316,313 318,312.7 320,312.4 322.1,312.4 323.7,310.5 325.7,309.3 328.3,309.7 330,308 332.1,307.3 334.3,306.7 336.4,305.8 338.2,304.4 340,302.3 342.6,302.4 345.1,302.4 347.1,301.6 348.1,299.2 349.9,298.3 351.9,297.8 352.9,295.9 354.8,294.8 357,294 358.6,291.7 357.6,289.9 358.4,287.9 359.3,286 359.8,283.9 360.9,281.5Z" fill="#02e3a6" stroke="#02e3a6" stroke-width="0.6"/>
<path d="M362,279 360.9,281.5 359.8,283.9 359.3,286 358.4,287.9 357.6,289.9 358.6,291.7 359,292.5 360.1,295 361.5,296.9 364.3,296.4 365.9,298.2 367.5,299.5 368.2,301.7 370.3,302.7 369.6,305.4 371.6,306.9 372.5,308.8 372.5,309.1 374.6,308.7 376.9,307.6 378.8,305.5 381.3,305 383.2,303 385.8,302.6 388.2,303 389.9,301.5 392,301.1 394,300.7 396,300.1 397.9,299.6 400,299.8 402.7,300.8 405.3,300.3 408,299.8 410.3,299.8 412.2,300.8 413.9,302.2 416,301.5 418.1,301.7 420.1,301.3 422.5,300.5 424.6,302.1 427,302 426.7,300 426.6,297.8 428.5,296.7 429.3,294.8 429.5,292.9 431,290.6 431.3,287.9 429.3,285.8 429.5,282.7 429.4,282.6 427.8,281.1 425.8,280.2 424.2,278.8 422.9,277.2 421.8,275.3 419.9,274.4 419.8,274.3 418.1,273 415.8,273.4 413.9,271.6 412,272.4 409.9,272.2 408,273 406.2,274.4 404.2,275 401.9,275.2 400.1,274 397.7,274.7 395.8,272.8 394.1,274.8 392,276.3 390,278.2 387.9,278.4 385.9,278 384.1,276.6 382.1,276.1 380,276.3 377.9,276.9 375.9,275.7 374,276.6 372.2,278 370.1,278 367.9,277.7 365.9,277.8 363.9,278.3Z" fill="#02e3a6" stroke="#02e3a6" stroke-width="0.6"/>
<path d="M372.5,309.1 372.5,308.8 371.6,306.9 369.6,305.4 370.3,302.7 368.2,301.7 367.5,299.5 365.9,298.2 364.3,296.4 361.5,296.9 360.1,295 359,292.5 358.6,291.7 357,294 354.8,294.8 352.9,295.9 351.9,297.8 349.9,298.3 348.1,299.2 347.1,301.6 345.1,302.4 342.6,302.4 340,302.3 338.2,304.4 336.4,305.8 334.3,306.7 332.1,307.3 330,308 328.3,309.7 325.7,309.3 323.7,310.5 322.1,312.4 320,312.4 318,312.7 316,313 313.8,313.6 312.1,311.5 310,312 309.8,314 310.3,316.2 309.1,318 309.1,318 308.4,320.3 309.6,322.1 310.6,324 311,326 311.8,328.4 313.2,330.3 315.3,331.8 316.3,334.3 318.6,335.8 320,338 322.1,338.8 323.7,340.3 325.5,341.5 327.1,342.9 329.5,343 331.3,344.4 333,346.1 335.9,346.1 338.2,348 338.2,347.1 338.3,344.4 339.9,342.3 341,340.1 343.1,339.1 345.3,338.6 346.9,336.7 349.3,335.9 351.7,335.1 354.1,334.1 355.5,332 358.2,331.6 359.9,329.9 361.4,328.3 364,328.2 364.7,325.6 366.7,324.7 368.3,323.3 370,322 370.5,320 370.9,318 371.6,316.1 371.6,313.7 372.2,311.4Z" fill="#7dfde0" stroke="#7dfde0" stroke-width="0.6"/>
<path d="M372.5,309.1 372.2,311.4 371.6,313.7 371.6,316.1 370.9,318 370.5,320 370,322 372.2,323 374.4,324 375.7,326.4 377.8,327.4 380.3,326.8 381.7,329.1 384,329.1 385.8,330.4 387.9,330.9 389.7,332.1 391.9,332.3 393.6,334 396.4,334.1 397.9,336.2 400,337.7 401.6,339.8 404,340.9 404.9,343.1 406.9,344.1 408.9,345.1 410.2,346.8 411.9,345.8 414,346.3 415.9,345.5 417.6,344.3 418.8,342.1 421,341 423.1,341.8 426.1,342.1 428.6,341.3 429.9,338.9 431.9,337.3 434.4,336.2 434.2,333.9 435.1,332.1 437.4,331 437.4,328.7 438.1,326.3 437,324 437,321.9 435,321 434.7,318.7 432.3,317.3 432.3,314.8 430,313.5 430,311 428.5,309.1 428.3,306.7 427.9,304.3 427,302 424.6,302.1 422.5,300.5 420.1,301.3 418.1,301.7 416,301.5 413.9,302.2 412.2,300.8 410.3,299.8 408,299.8 405.3,300.3 402.7,300.8 400,299.8 397.9,299.6 396,300.1 394,300.7 392,301.1 389.9,301.5 388.2,303 385.8,302.6 383.2,303 381.3,305 378.8,305.5 376.9,307.6 374.6,308.7Z" fill="#b9ffe6" stroke="#b9ffe6" stroke-width="0.6"/>
<path d="M410.2,346.8 408.9,345.1 406.9,344.1 404.9,343.1 404,340.9 401.6,339.8 400,337.7 397.9,336.2 396.4,334.1 393.6,334 391.9,332.3 389.7,332.1 387.9,330.9 385.8,330.4 384,329.1 381.7,329.1 380.3,326.8 377.8,327.4 375.7,326.4 374.4,324 372.2,323 370,322 368.3,323.3 366.7,324.7 364.7,325.6 364,328.2 361.4,328.3 359.9,329.9 358.2,331.6 355.5,332 354.1,334.1 351.7,335.1 349.3,335.9 346.9,336.7 345.3,338.6 343.1,339.1 341,340.1 339.9,342.3 338.3,344.4 338.2,347.1 338.2,348 338.3,349.8 340.1,352 342,354 344.2,355.8 343.5,356.6 346.3,357.3 347.5,359.9 350.1,359.8 352.2,361.1 354.5,361.5 357,361 359,362.2 360.4,363.8 360.7,366.3 362.5,367.7 362.3,370 363,372 363.2,374.3 361.7,376 361,378 363,378.4 365,378.7 367,378.8 369.4,378.6 371.7,379.4 374,379.7 376.6,379.8 378.8,380.8 380.9,382.4 382.7,380.7 384.9,380 385.7,377.6 388.6,377.5 390,375.3 392.2,374.3 394.1,373.1 396.1,372.2 399,371 399.9,368.7 398.9,366.2 399.7,364 399.3,361.5 400.4,359.3 401,357 402.3,355 405,354.3 405.7,351.7 407.5,350.4 408.2,348.3Z" fill="#02e3a6" stroke="#02e3a6" stroke-width="0.6"/>
<path d="M423.1,341.8 421,341 418.8,342.1 417.6,344.3 415.9,345.5 414,346.3 411.9,345.8 410.2,346.8 408.2,348.3 407.5,350.4 405.7,351.7 405,354.3 402.3,355 401,357 400.4,359.3 399.3,361.5 399.7,364 398.9,366.2 399.9,368.7 399,371 400.6,372.4 401.6,374.2 402.3,376.1 402.5,378.3 403,380.5 404.4,382.3 406,384 407,386 405.7,387.8 404.8,389.7 404.7,391.9 403.2,393.8 402.3,396.2 402.8,397.8 403.3,399.7 405,401 406.4,402.6 408.8,402.5 409.9,404.7 412.2,404.7 413.9,404 416,404.2 418,403.7 420,405.7 421.4,408.1 423.9,409.2 425.8,410.4 428.1,410.8 429.9,412.3 431.6,413.9 433.8,415 435.7,416.4 438.1,416.4 440,415.1 441.9,414.5 443.5,416.3 444.9,417.7 447.1,417.8 450,418 449.6,417 450.5,415 450.1,413 450.8,411 450.5,408.9 449.2,407.4 450.6,404.6 449.5,402.7 448,401 447.9,399 447,397.1 447.9,394.9 446.9,393 448.6,391.3 448.9,389.2 449.3,387.1 451.3,387.1 452.9,386.8 453,386.7 454,384.8 455.9,383.8 457.8,382.7 458.2,380.8 459.1,379.1 461.1,378 462.5,376.3 462.2,374 463.5,372.2 463.9,370 462,368 463,366 461.8,363.8 459.7,362.4 457.8,361 455.9,359.5 454.3,357.6 451.8,356.6 449.8,354.9 448.2,352.5 445.6,353.2 444.1,351.3 442.1,350.5 439.9,350.4 437.9,349.6 435.9,348.6 434,347.7 431.8,347.3 430.6,344.7 427.5,345 426,343 423.5,342Z" fill="#e8fff2" stroke="#e8fff2" stroke-width="0.6"/>
<path d="M423.1,341.8 423.5,342 426,343 427.5,345 430.6,344.7 431.8,347.3 434,347.7 435.9,348.6 437.9,349.6 439.9,350.4 442.1,350.5 444.1,351.3 445.6,353.2 448.2,352.5 449.8,354.9 451.8,356.6 454.3,357.6 455.9,359.5 457.8,361 459.7,362.4 461.8,363.8 463,366 464.8,363.8 466.7,361.7 469.2,362.7 470.9,360.8 473,361.1 475.1,361 477.2,361.4 479,360.2 479.9,357 482.3,356.9 484.7,356.2 487,357.5 488.8,358.4 491.1,357 493.1,357.5 495.5,358.1 497.8,359 499.9,360.4 501.6,361.8 503.8,362.3 504.1,359.9 506,359 506.4,356.5 506.8,353.9 508.6,351.9 508.9,349.5 509,349 509.4,346.9 508.4,344.7 508.4,342.3 507.7,340.2 507.7,340.1 507,338 505.6,336.4 504,334.9 502.6,333.2 501.1,331.1 501.9,328 500.1,326 500.5,323.5 498.4,321.5 498.5,320 496.7,320.9 494.5,321.6 492,321.3 490,321.2 488,321.8 486.1,322.2 484.3,323.7 481.5,323.1 479.7,325.5 478.2,323.4 476,322.3 473.9,321.5 471.9,321.1 470,320.4 468.1,319.9 465.8,318.6 463.8,317 462.1,314.9 460.1,313.9 460.1,311.6 458.9,310.1 458.4,307.7 456,306.9 455.3,305.4 453.9,307.1 451.5,307.4 450,309 448.3,310.5 446,310.4 443.6,310.7 442.4,312.8 440.9,314.7 440.3,317.1 438.9,319.3 438.9,322.1 437,324 438.1,326.3 437.4,328.7 437.4,331 435.1,332.1 434.2,333.9 434.4,336.2 431.9,337.3 429.9,338.9 428.6,341.3 426.1,342.1Z" fill="#b9ffe6" stroke="#b9ffe6" stroke-width="0.6"/>
<path d="M343.5,356.6 344.2,355.8 342,354 340.1,352 338.3,349.8 338.2,348 335.9,346.1 333,346.1 331.3,344.4 329.5,343 327.1,342.9 325.5,341.5 323.7,340.3 322.1,338.8 320,338 318.6,335.8 316.3,334.3 315.3,331.8 313.2,330.3 311.8,328.4 311,326 310.6,324 309.6,322.1 308.4,320.3 309.1,318 307,316.3 304.5,316.2 302.1,316.6 300.1,317.1 297.9,315.8 296.1,317.6 293.9,317.3 292.1,316.2 289.8,316.9 288.2,314.9 286.2,315.4 284.1,315.9 282,316.4 280.1,317.5 278,318.2 276.1,317 273.9,318.4 272,317.2 270,317 270,317.1 267.7,317.4 266.5,320 263.9,319.8 262.1,321 260.2,321.9 257.7,322 257.6,324.1 258.3,326 258.2,328.1 258.7,329.9 257.9,331.8 258.3,334.1 258.5,336.2 257,338 257,340.9 259.5,342.8 260.4,345.4 263.5,345.7 264.8,348.2 266.6,349.7 267.2,351.7 266.9,354.1 268.4,355.8 269.3,357.6 269.2,360 270.6,361.5 271.6,363.2 271.7,365.4 274.5,366.6 274.8,368.8 274.1,372.5 275.8,373.6 278.1,374.5 279.1,376.9 280.8,375.8 283,375.1 284.3,373.4 285.6,371.3 287.2,369.5 288.7,367.7 290.3,366.1 290.4,363.7 291.6,361.8 294.2,361.2 296.2,361.5 298,363.2 300.5,363.6 301.4,366.6 304.3,366.6 305.6,368.8 308.4,368.2 310,370 312.7,369.1 313.9,366.6 315.8,364.6 318.3,363.5 321.1,363.5 323.2,361.7 325.6,361.4 328,360.9 330.3,361.5 332.7,361.4 335,361.2 336.9,360 338.9,360 340.6,359.7 342.5,358Z" fill="#0a8f82" stroke="#0a8f82" stroke-width="0.6"/>
<path d="M343.5,356.6 342.5,358 340.6,359.7 338.9,360 336.9,360 335,361.2 332.7,361.4 330.3,361.5 328,360.9 325.6,361.4 323.2,361.7 321.1,363.5 318.3,363.5 315.8,364.6 313.9,366.6 312.7,369.1 310,370 309.2,372.3 309.9,374.8 308.7,377 309.5,379.3 309.5,381.6 307.6,383.7 307.8,386 306.9,387.9 307,389.9 308.2,392.1 306.9,394 307,396.1 308.1,398 307.5,400.2 309.3,401.9 309.4,404.6 311.3,406.3 313.5,407.7 315.3,408 316.3,410.3 317.9,411.6 320.2,411.6 322,412.6 323.2,414.5 325.6,414.3 326.8,416.4 329,417.3 331.6,417.8 333.1,419.9 335.3,421.2 337.7,421.9 339.9,423.2 342.1,422.4 343.9,424.2 346,423.4 347.1,423.8 347.8,422.1 348.8,420.2 348.1,417.9 348.9,415.8 351,415.5 352.8,414.8 354.1,413 354.7,411 354,408.8 356.6,407.3 355.6,404.8 357.1,403.4 357.4,401.3 359.2,400 357.8,398.2 357.8,396 357.4,394 358.4,391.8 356.5,389.9 357.1,387.6 358.2,385.4 358.4,383.3 358.6,381.1 359.4,379.3 361,378 361.7,376 363.2,374.3 363,372 362.3,370 362.5,367.7 360.7,366.3 360.4,363.8 359,362.2 357,361 354.5,361.5 352.2,361.1 350.1,359.8 347.5,359.9 346.3,357.3Z" fill="#7dfde0" stroke="#7dfde0" stroke-width="0.6"/>
<path d="M260.6,371.3 259.8,371.7 257.9,370.7 256,369.9 253.7,371.2 252,372.9 249.6,372.1 247.2,371.8 245.2,370.8 243.3,369.8 242.1,368.4 239.4,368.2 237.1,369.2 235,370.9 232.6,371.6 229.9,371.5 227.6,371.6 225.2,371.8 222.8,373.2 221.4,371.6 219.4,370.6 217.8,368.7 216.6,370.7 214.8,371.8 213.1,373.2 211.1,374 209.8,374.5 210.5,377.5 212.5,379.5 213.2,381.9 212.9,384.2 210.9,385.8 211.4,388.1 211.4,390.1 211.6,392.3 213.3,393.9 212.8,396 211.7,397.9 211.9,400 213.3,402.2 215,404.3 215.1,407 216.3,408.9 216.6,411.2 218.2,412.9 219.2,415.2 219.7,417.8 220.7,420.1 222.6,421.5 223.9,423.2 224.9,425.1 226.2,426.8 228.7,426.4 229.7,428.5 231.8,429.4 234.1,429.7 235.9,431.2 237.9,431.7 239.8,432.2 241,434 242.8,432.4 243.8,430.4 243.6,427.9 245.3,426.2 245.3,424.1 245.3,422.3 246.3,420.2 247.9,418.8 249.9,418 249.3,416.1 250.5,413.9 249.5,412 249,410 250.5,408.7 251.9,407.4 254,407 256,405 258.1,403 258.2,400.3 260.1,398.4 261.1,396 260.2,393.3 261.1,390.7 261,388 261,386 262.6,384.1 261.2,381.9 261.5,380.1 261.8,378 261.4,376 261.5,374Z" fill="#e8fff2" stroke="#e8fff2" stroke-width="0.6"/>
<path d="M274.1,372.5 272,372.5 270.1,373.4 268.1,372.6 266.3,371.3 264,371.8 262.1,370.5 260.6,371.3 261.5,374 261.4,376 261.8,378 261.5,380.1 261.2,381.9 262.6,384.1 261,386 261,388 261.1,390.7 260.2,393.3 261.1,396 260.1,398.4 258.2,400.3 258.1,403 256,405 254,407 251.9,407.4 250.5,408.7 249,410 251,409.6 252.9,408.5 253.6,410.9 254.6,412.6 256,414 258.6,414.5 259.8,417 262.1,417.9 263.9,419.8 265.3,422.2 267.8,423.3 269.5,425.3 272.5,425.7 274.1,427.9 275.6,429.4 278,429.8 278.6,432.4 280.8,433.7 282.1,435.7 283.2,437.9 284.5,439.2 285,441 286.9,439.9 289.1,441 291,439.8 293.1,438.1 296,438.1 294.4,435.9 294.8,433.3 294.3,430.9 294.2,428.7 293.9,426.3 293.5,424 296,422.4 297.4,420 300.1,419.1 300.6,416.5 302.8,415.1 303.9,412.9 305.5,411.4 307.6,410.6 311.3,406.3 309.4,404.6 309.3,401.9 307.5,400.2 308.1,398 307,396.1 306.9,394 308.2,392.1 307,389.9 306.9,387.9 307.8,386 307.6,383.7 309.5,381.6 309.5,379.3 308.7,377 309.9,374.8 309.2,372.3 310,370 308.4,368.2 305.6,368.8 304.3,366.6 301.4,366.6 300.5,363.6 298,363.2 296.2,361.5 294.2,361.2 291.6,361.8 290.4,363.7 290.3,366.1 288.7,367.7 287.2,369.5 285.6,371.3 284.3,373.4 283,375.1 280.8,375.8 279.1,376.9 278.1,374.5 275.8,373.6Z" fill="#02e3a6" stroke="#02e3a6" stroke-width="0.6"/>
<path d="M347.1,423.8 348,424.2 350,424.6 352,424.5 354,424.9 353.7,427.1 353.7,429.2 354.7,431.1 356.6,432.8 358.7,434 360.4,435.6 361.6,437.8 363.8,437.9 365.7,439 368.1,438.8 370,438.9 372.2,439.4 374.1,438.4 375.9,439.2 378.1,439.8 379.2,442.4 379.6,445.1 382.1,444.1 382.5,441.8 383.6,440 383.3,437.7 385.2,436 384.4,433.9 384.9,431.9 385,429.9 386.1,428 385.5,425.8 384.8,423.6 384.5,421.3 384.8,418.8 386.5,416.9 388.4,415.5 390.7,414.8 392.8,413.4 392.5,410.7 393.9,408.9 394.9,406.6 397.9,406.2 399.1,404.2 400.8,402.6 403.4,402.8 405,401 403.3,399.7 402.8,397.8 402.3,396.2 403.2,393.8 404.7,391.9 404.8,389.7 405.7,387.8 407,386 406,384 404.4,382.3 403,380.5 402.5,378.3 402.3,376.1 401.6,374.2 400.6,372.4 399,371 396.1,372.2 394.1,373.1 392.2,374.3 390,375.3 388.6,377.5 385.7,377.6 384.9,380 382.7,380.7 380.9,382.4 378.8,380.8 376.6,379.8 374,379.7 371.7,379.4 369.4,378.6 367,378.8 365,378.7 363,378.4 361,378 359.4,379.3 358.6,381.1 358.4,383.3 358.2,385.4 357.1,387.6 356.5,389.9 358.4,391.8 357.4,394 357.8,396 357.8,398.2 359.2,400 357.4,401.3 357.1,403.4 355.6,404.8 356.6,407.3 354,408.8 354.7,411 354.1,413 352.8,414.8 351,415.5 348.9,415.8 348.1,417.9 348.8,420.2 347.8,422.1Z" fill="#0a8f82" stroke="#0a8f82" stroke-width="0.6"/>
<path d="M379.6,445.1 379.6,445.2 378.6,447.2 376.3,448.7 374.9,450.9 373.2,452.9 372.4,455.2 372.5,458 371.5,460.2 373.1,461.1 374.6,462.9 376.1,464.7 378,466 380,466.5 382.1,466.2 383.9,467.4 386.3,466.6 388.2,465.4 390.2,464.4 391.9,462.9 393.7,461.6 396,461.9 398.1,461.3 399.6,459.2 402.3,459 404.5,458.1 405.8,455.7 408.1,455.2 410.2,454.4 412,452.9 413.8,451.7 415.8,450.8 418.2,451.2 420.1,450.3 422,450.9 424.4,451.2 425.8,453.3 428.1,453.3 429.9,451.7 432,452.1 434.7,451.8 437,450.8 439,449 440.7,448 442.6,447.2 443.9,445.4 445.8,444.7 446.9,442.6 449.2,441.1 448.2,439.1 448.1,437 447.3,435.1 447,433 446.7,430.8 447,428.7 449.6,427.3 448.9,425 448.4,422.9 449.8,421 450.4,419.1 450,418 447.1,417.8 444.9,417.7 443.5,416.3 441.9,414.5 440,415.1 438.1,416.4 435.7,416.4 433.8,415 431.6,413.9 429.9,412.3 428.1,410.8 425.8,410.4 423.9,409.2 421.4,408.1 420,405.7 418,403.7 416,404.2 413.9,404 412.2,404.7 409.9,404.7 408.8,402.5 406.4,402.6 405,401 403.4,402.8 400.8,402.6 399.1,404.2 397.9,406.2 394.9,406.6 393.9,408.9 392.5,410.7 392.8,413.4 390.7,414.8 388.4,415.5 386.5,416.9 384.8,418.8 384.5,421.3 384.8,423.6 385.5,425.8 386.1,428 385,429.9 384.9,431.9 384.4,433.9 385.2,436 383.3,437.7 383.6,440 382.5,441.8 382.1,444.1Z" fill="#b9ffe6" stroke="#b9ffe6" stroke-width="0.6"/>
<path d="M450,418 450.4,419.1 449.8,421 448.4,422.9 448.9,425 449.6,427.3 447,428.7 446.7,430.8 447,433 447.3,435.1 448.1,437 448.2,439.1 449.2,441.1 451.4,443.5 453.6,443.6 455.1,444.8 457.4,445.8 460.1,446 462.1,447.7 464.1,449.5 466.4,450.3 469.1,449.8 469.4,452.3 470.7,454.1 469.5,455.7 469,457.8 469,460 469.2,462.3 467,463.8 467.2,466.1 467,468 468,469.9 468,472 469.8,473.4 472.1,471.9 474,473 476.3,473.3 478.7,473.1 481,473.5 482.8,473.8 483.8,475.8 485.9,476.2 488,473.9 487.6,470.8 488,468.8 488.9,466.8 490.4,465.1 490,462.8 491.5,461.4 493.2,460.1 495,458.9 494.4,456.3 495.9,455 498.3,453.8 500.1,452.2 502.2,451.9 504.2,451.2 506,450 505.7,447.8 506.7,446.1 505.1,444.4 504.7,442.2 503.5,439.9 504.5,437.7 505.6,435.5 505.2,433.1 506.6,431.6 508,430 509.3,428.1 509.2,425.8 510.5,424 510.5,422.2 511,419.8 508.8,418.3 509.1,416 506.9,414.5 506.3,413.1 505.9,412.2 504.3,410.3 501.8,411.1 499.9,410.4 497.7,410.2 495.8,409.3 494.2,408.2 493.2,410.2 490.9,411.1 489.2,410.2 487.8,408.8 486,407.9 483.5,407.5 480.9,407.1 479.6,405.6 479.8,403.2 478.4,401.8 478,399.2 475.4,397.6 474.6,395.3 473.6,393.4 473.2,391 470.8,390.1 470.1,387.8 468.1,386.7 466,385.5 463.6,387 461.1,387.3 458.6,387.3 456,386.5 453.7,386.7 452.9,386.8 451,388.1 449.3,387.1 448.9,389.2 448.6,391.3 446.9,393 447.9,394.9 447,397.1 447.9,399 448,401 449.5,402.7 450.6,404.6 449.2,407.4 450.5,408.9 450.8,411 450.1,413 450.5,415 449.6,417Z" fill="#0a8f82" stroke="#0a8f82" stroke-width="0.6"/>
<path d="M449.3,387.1 451,388.1 452.9,386.8 451.3,387.1Z" fill="#0a8f82" stroke="#0a8f82" stroke-width="0.6"/>
<path d="M463,366 462,368 463.9,370 463.5,372.2 462.2,374 462.5,376.3 461.1,378 459.1,379.1 458.2,380.8 457.8,382.7 455.9,383.8 454,384.8 453,386.7 452.9,386.8 453.7,386.7 456,386.5 458.6,387.3 461.1,387.3 463.6,387 466,385.5 468.1,386.7 470.1,387.8 470.8,390.1 473.2,391 473.6,393.4 474.6,395.3 475.4,397.6 478,399.2 478.4,401.8 479.8,403.2 479.6,405.6 480.9,407.1 483.5,407.5 486,407.9 487.8,408.8 489.2,410.2 490.9,411.1 493.2,410.2 494.2,408.2 495.8,409.3 497.7,410.2 499.9,410.4 501.8,411.1 504.3,410.3 505.9,412.2 506.3,413.1 509.6,409.7 510.8,407.5 510.5,404.9 510.7,402.5 509.8,400.3 508.8,398 508.4,396 508,394.1 508.3,391.9 507.1,389.6 506.6,387.1 507.7,384.5 505.2,382.5 506.4,380.1 505.4,377.5 507.1,375.4 507,373 505.7,371.3 503.9,370.7 501.7,370.2 501.5,367.8 500.1,366.4 502.6,365.2 505.3,364.1 504.7,361.3 506,359 504.1,359.9 503.8,362.3 501.6,361.8 499.9,360.4 497.8,359 495.5,358.1 493.1,357.5 491.1,357 488.8,358.4 487,357.5 484.7,356.2 482.3,356.9 479.9,357 479,360.2 477.2,361.4 475.1,361 473,361.1 470.9,360.8 469.2,362.7 466.7,361.7 464.8,363.8Z" fill="#02e3a6" stroke="#02e3a6" stroke-width="0.6"/>
<path d="M507.7,340.1 507.7,340.2 508.4,342.3 508.4,344.7 509.4,346.9 509,349 511.5,349 513.8,349.9 516,350.9 518.2,351.6 519.7,353.2 521.1,354.9 522.5,356.5 522.8,359 525.2,359.8 527.1,360.8 527.7,363.4 530,364 531.3,365.7 533.2,366.3 534.8,367.3 537.7,367.6 540.1,368.6 541.7,370.5 544,370.9 546,372.1 547,373.9 548.2,375.7 550.2,376.8 551.8,378.8 553,381 555.1,379.1 558,379.1 560,378.5 561.5,377.4 562.9,375.9 565.1,375.2 565.8,372.6 567.9,371.8 570,370.8 572.2,369.8 573.5,367.7 575.1,366.2 577.5,365.9 579.6,364.4 582.1,364.5 584.4,362.8 585.8,360.4 587.9,358.9 589.6,357.3 589.7,354.8 590.7,352.8 592.9,351.7 593.6,349.5 594.8,347.8 596.2,346.1 597.8,344.8 597.3,342.2 599.3,341.1 599.3,340.8 598.2,339.5 597.8,339.1 597.2,337.1 596.4,335.1 596.1,333.4 593.7,333.4 591.2,332.7 589.1,333.7 587.5,332.6 585.6,331.8 584,330.6 582.4,329.8 582,329 581.5,327.5 580.2,325.6 578.2,324 577,322 576.5,319.5 575,317.3 574.4,315.3 573.2,316.6 571.6,317.8 570.9,320.2 569,321.8 568.1,323.8 565.4,323.3 564,320.9 562,320.7 560.1,319.8 558.1,320.1 556.8,321.8 554.7,322.1 553.1,322.7 550.4,322.9 548.2,321.8 546.1,320.6 545.4,317.9 542.6,317.1 542.3,316.3 540.5,315.6 537.9,315.7 536.3,317.7 534.3,318.4 531.9,317.9 530.6,319.8 529.1,321.5 528.8,323.9 527.3,325.7 527.5,328.2 525.7,329.8 525.8,332.4 524,334 522.7,335.7 521.1,337.4 520.1,339.8 518.1,341.4 515.5,341.7 513.1,341.6 510.7,340.5Z" fill="#02e3a6" stroke="#02e3a6" stroke-width="0.6"/>
<path d="M509,349 508.9,349.5 508.6,351.9 506.8,353.9 506.4,356.5 506,359 504.7,361.3 505.3,364.1 502.6,365.2 500.1,366.4 501.5,367.8 501.7,370.2 503.9,370.7 505.7,371.3 507,373 507.1,375.4 505.4,377.5 506.4,380.1 505.2,382.5 507.7,384.5 506.6,387.1 507.1,389.6 508.3,391.9 508.3,391.9 510.5,392.4 513,392.8 514.6,390.6 516.8,388.8 516,387.1 516.7,384.6 515.5,382.8 514.9,380.6 512.6,379.2 514.8,377.6 517.2,377.4 519.9,377.1 521.9,379.2 523.7,380.7 523.8,383.6 526.5,384.7 526.4,387.3 528.3,388.8 529.4,390.8 531.2,392 531.1,394.8 533,396 535.1,397.6 536.1,400 537.5,402.1 540.4,402.1 542,404.1 543.7,405.6 544.7,407.7 544.7,410.1 544,411.9 544,414 545.8,412.1 548.4,411.1 549.7,408.6 551,408.5 551.9,405.7 550.7,403.2 552.2,401 551.5,398.7 550.6,396.4 551.5,394.1 550.7,391.9 552.2,390.1 551.9,388 552.8,385.7 552.6,383.3 553,381 551.8,378.8 550.2,376.8 548.2,375.7 547,373.9 546,372.1 544,370.9 541.7,370.5 540.1,368.6 537.7,367.6 534.8,367.3 533.2,366.3 531.3,365.7 530,364 527.7,363.4 527.1,360.8 525.2,359.8 522.8,359 522.5,356.5 521.1,354.9 519.7,353.2 518.2,351.6 516,350.9 513.8,349.9 511.5,349Z" fill="#02e3a6" stroke="#02e3a6" stroke-width="0.6"/>
<path d="M544,414 544,411.9 544.7,410.1 544.7,407.7 543.7,405.6 542,404.1 540.4,402.1 537.5,402.1 536.1,400 535.1,397.6 533,396 531.1,394.8 531.2,392 529.4,390.8 528.3,388.8 526.4,387.3 526.5,384.7 523.8,383.6 523.7,380.7 521.9,379.2 519.9,377.1 517.2,377.4 514.8,377.6 512.6,379.2 514.9,380.6 515.5,382.8 516.7,384.6 516,387.1 516.8,388.8 514.6,390.6 513,392.8 510.5,392.4 508.3,391.9 508.3,391.9 508,394.1 508.4,396 508.8,398 509.8,400.3 510.7,402.5 510.5,404.9 510.8,407.5 509.6,409.7 506.3,413.1 506.9,414.5 509.1,416 508.8,418.3 511,419.8 510.5,422.2 510.5,424 509.2,425.8 509.3,428.1 508,430 506.6,431.6 505.2,433.1 505.6,435.5 504.5,437.7 503.5,439.9 504.7,442.2 505.1,444.4 506.7,446.1 505.7,447.8 506,450 507.9,448.8 510,449.3 512.1,449.5 514.1,449.1 515.9,447.8 518,448 519.6,446.1 521.5,444.6 523.9,443.8 525.9,442.5 528.2,441.7 530,439.9 531.9,438.3 532.6,435.7 534,438.1 536.6,438.4 537.8,440.3 540.7,439.4 544.4,440.2 545.6,438.3 545.8,435.9 546.6,434.1 546.2,432.1 546.1,430 546.3,427.9 545.5,425.5 544,423.3 542.9,421 544.3,418.8 544.6,416.5Z" fill="#02e3a6" stroke="#02e3a6" stroke-width="0.6"/>
<path d="M544,414 544.6,416.5 544.3,418.8 542.9,421 544,423.3 545.5,425.5 546.3,427.9 546.1,430 546.2,432.1 546.6,434.1 545.8,435.9 545.6,438.3 544.4,440.2 545.9,441 548.1,440.8 549.9,442 552.1,441.5 552.2,438.6 553.3,436.6 555.6,435.3 556,433 558.4,432.7 560.1,431.3 561.6,429.8 563,428 565.5,428 567.4,425.8 569.9,425.6 571.2,426.8 573.6,424.3 575.6,422.9 576.8,420.8 576.9,418.4 578.5,416.1 579.5,414.5 580.8,412.6 583.1,412.1 585,410.2 587.4,409.4 590,409 591.5,407.1 592.9,405.2 594.2,403.1 595.6,401.9 596.8,400.1 599.1,400.2 600.7,398.4 603,398.6 605,397.9 607,398.4 609,398.5 610.9,397.7 611,397.7 613.2,396.2 615.2,394.2 615.9,391.5 616.6,388.8 616.8,386.8 615.2,385.5 613.6,384.3 611.6,382.4 610.1,380 609.8,380.7 607.8,381.2 606.1,381.6 604,381.5 602.1,380.5 599.8,380.8 598.5,383 597,385 594.9,385.3 593.1,386.1 592,388.2 590,388.8 588,387.1 586.1,388.2 584,389 582.1,390.2 580.1,391.1 577.2,392.2 576.1,394.7 573.3,394.4 571.2,392.6 569.9,391.1 567.3,391.6 565.7,389.9 564.5,391.7 564,393.8 563.7,395.8 563.9,398.2 561.1,398.8 561,401 559.4,402.4 557.7,403.7 556,405 554.6,407.2 552.5,408.4 551,408.5 549.7,408.6 548.4,411.1 545.8,412.1Z" fill="#b9ffe6" stroke="#b9ffe6" stroke-width="0.6"/>
<path d="M551,408.5 552.5,408.4 554.6,407.2 556,405 557.7,403.7 559.4,402.4 561,401 561.1,398.8 563.9,398.2 563.7,395.8 564,393.8 564.5,391.7 565.7,389.9 567.3,391.6 569.9,391.1 571.2,392.6 573.3,394.4 576.1,394.7 577.2,392.2 580.1,391.1 582.1,390.2 584,389 586.1,388.2 588,387.1 590,388.8 592,388.2 593.1,386.1 594.9,385.3 597,385 598.5,383 599.8,380.8 602.1,380.5 604,381.5 606.1,381.6 607.8,381.2 609.8,380.7 610.1,380 610.8,378.7 612.1,377.4 613.5,376 613.7,373.8 616.4,373.1 618.3,371.4 619.3,368.8 621,367 618.6,366.7 617.2,364.9 617,362.1 614.9,360.1 613.5,357.8 611.6,356 610.3,353.8 609.1,352 607.7,350.4 606,349 603.9,347.9 601.9,346.4 600,345 598.9,343.2 599.3,341.1 597.3,342.2 597.8,344.8 596.2,346.1 594.8,347.8 593.6,349.5 592.9,351.7 590.7,352.8 589.7,354.8 589.6,357.3 587.9,358.9 585.8,360.4 584.4,362.8 582.1,364.5 579.6,364.4 577.5,365.9 575.1,366.2 573.5,367.7 572.2,369.8 570,370.8 567.9,371.8 565.8,372.6 565.1,375.2 562.9,375.9 561.5,377.4 560,378.5 558,379.1 555.1,379.1 553,381 552.6,383.3 552.8,385.7 551.9,388 552.2,390.1 550.7,391.9 551.5,394.1 550.6,396.4 551.5,398.7 552.2,401 550.7,403.2 551.9,405.7Z" fill="#e8fff2" stroke="#e8fff2" stroke-width="0.6"/>
<path d="M598.2,339.5 599.3,340.8 599.3,341.1 598.9,343.2 600,345 601.9,346.4 603.9,347.9 606,349 607.7,350.4 609.1,352 610.3,353.8 611.6,356 613.5,357.8 614.9,360.1 617,362.1 617.2,364.9 618.6,366.7 621,367 623.5,368.1 626,369 628.2,369.2 629.6,371.4 632.1,370.8 634.5,370.9 636.5,368.9 638.9,368.5 641.5,369.5 643.6,368.2 645.9,367.5 648.1,368.8 650.1,369.9 651.9,371.2 654.3,370.8 656.2,371.7 657.8,373.5 659.6,375.4 660.6,375.9 660.4,373 659,371.2 658.6,369.1 658.6,366.9 658.4,364.8 657.5,362.8 656.8,360.9 654.6,359.4 654.9,357.1 654.7,354.7 653.3,352.9 652.3,350.9 651,349.1 650.2,347.2 649.6,344.9 651.4,342.8 651.3,340.4 651,338 648.5,337.4 646.4,337.1 646.5,335 647.3,332.6 644.8,333 643.9,330.7 641.7,330.5 640,329.6 638.1,329 636.6,327.2 636.6,324.3 635,322 632.9,322 632.1,323.8 629.7,323.7 627.7,321.6 626.3,323.9 623.9,324.9 622.8,326.9 621.3,328.5 619.1,329.2 616.3,329.1 614.1,330.4 611.9,331.7 609.5,332.5 607.6,334.7 605.1,335.1 602.8,335.1 601.4,336.6Z" fill="#e8fff2" stroke="#e8fff2" stroke-width="0.6"/>
<path d="M239,282 241,281.5 242.6,280.5 244,279 246.6,278.6 248.9,277.4 251.2,276.4 253.1,274.5 255.9,275.5 257.6,273.7 255.4,273.6 254.6,270.4 252.5,270.1 252.4,268 253.1,266.1 252.7,264 253.4,262.3 254.2,259.7 255.8,257.8 254.2,259.5 251.7,260 250.1,261.9 247.8,262.6 246,264 244,263 241.8,261.1 239,261 240.1,262.9 242.2,263.9 242.8,266.2 240.9,267.1 240.3,269.4 240,271.8 237.7,272.8 236.5,275.1 237,277.8 236.4,280.1 234.8,282.2 232.6,283.3 230.7,284.7 229.2,286.8 227.6,288.7 230,290.7 230.9,293.4 232.6,295.4 235.1,296.2 237.3,297.2 239,299 238.3,301.5 240.5,303.5 240.6,305.9 239,307.7 237.7,309.1 236.7,310.8 236.6,313.1 234.6,314.6 235.3,317.1 233.1,318.1 232,320 233.7,321.6 236,321.9 238.1,322.8 239.6,324.8 242.4,324.2 243.9,326.2 246.4,326.1 247.9,328.3 250.1,328.9 251.4,331.6 254.4,332.6 254.9,334.7 256.2,336.2 257,338 258.5,336.2 258.3,334.1 257.9,331.8 258.7,329.9 258.2,328.1 258.3,326 257.6,324.1 257.7,322 260.2,321.9 262.1,321 263.9,319.8 266.5,320 267.7,317.4 270,317.1 270,317 269.5,314.7 271.3,312.6 271.6,310.3 270.7,308 272.3,305.9 273.2,303.7 272.8,301.1 273.9,298.4 271.9,298.8 269.9,299.8 268.2,301.4 265.3,301.1 263.5,303.4 260.8,303.6 258.7,304.3 256.5,305.1 255.2,307.3 252.9,306.5 251.3,304.8 248.8,305.5 247.6,303.2 248.5,301 248,299 247.5,296.5 245.9,294.7 244,293 244.4,290.6 242.7,289 242,287 241.4,285.1 239.8,283.8Z" fill="#0a8f82" stroke="#0a8f82" stroke-width="0.6"/>
<path d="M257.6,273.7 255.9,275.5 253.1,274.5 251.2,276.4 248.9,277.4 246.6,278.6 244,279 242.6,280.5 241,281.5 239,282 239.8,283.8 241.4,285.1 242,287 242.7,289 244.4,290.6 244,293 245.9,294.7 247.5,296.5 248,299 248.5,301 247.6,303.2 248.8,305.5 251.3,304.8 252.9,306.5 255.2,307.3 256.5,305.1 258.7,304.3 260.8,303.6 263.5,303.4 265.3,301.1 268.2,301.4 269.9,299.8 271.9,298.8 273.9,298.4 274,298.4 276.7,298.5 279.3,298.7 282.1,298 283,296 283.3,293.6 284.7,291.9 286.1,289.8 286.6,287.4 287,285 285.4,283.3 283.8,281.6 281.4,280.9 280,279 278.4,277.6 276.8,276.1 274.9,275.1 272.8,274.3 271.3,272.8 270,270.9 268,271.2 266,272.1 264,271 262.1,272.2 260.3,273.5 257.8,273.5Z" fill="#0a8f82" stroke="#0a8f82" stroke-width="0.6"/>
<path d="M257.6,273.7 257.8,273.5 260.3,273.5 262.1,272.2 264,271 266,272.1 268,271.2 270,270.9 271.3,272.8 272.8,274.3 274.9,275.1 276.8,276.1 278.4,277.6 280,279 281.4,280.9 283.8,281.6 285.4,283.3 287,285 286.6,287.4 286.1,289.8 284.7,291.9 283.3,293.6 283,296 282.1,298 279.3,298.7 276.7,298.5 274,298.4 273.9,298.4 272.8,301.1 273.2,303.7 272.3,305.9 270.7,308 271.6,310.3 271.3,312.6 269.5,314.7 270,317 272,317.2 273.9,318.4 276.1,317 278,318.2 280.1,317.5 282,316.4 284.1,315.9 286.2,315.4 288.2,314.9 289.8,316.9 292.1,316.2 293.9,317.3 296.1,317.6 297.9,315.8 300.1,317.1 302.1,316.6 304.5,316.2 307,316.3 309.1,318 309.1,318 310.3,316.2 309.8,314 310,312 310.6,310 311,308 310.2,306.1 310.4,304 309.7,302.4 308.3,299.9 305.8,298.9 304,296.7 302,296.8 300,296.8 298.1,295.8 295.8,296.1 295.1,294.1 294.6,292 294.1,290 292.9,288.2 292.9,285.9 292,284 294,283.4 296,283.1 296.2,283.1 297.7,281.1 298.8,279.1 297.2,276.8 296.5,274.2 295.6,271.8 294.9,269.4 294,267 294,264.9 294.2,262.9 295,261 293.7,259.3 291.4,259.4 290.4,257.9 289.5,255.9 289.5,253.7 288,252 286.6,249.7 283.4,249.3 282,247 281.8,249 281.2,251 281.2,253 280.7,255.6 279.9,258.1 278.2,260.1 276.3,262.3 273.8,263.8 272,263.6 270.2,262.3 268,263.2 266.4,261.1 264.1,260.8 261.8,260.4 259.8,260 258.1,258.5 256.2,257.5 255.8,257.8 254.2,259.7 253.4,262.3 252.7,264 253.1,266.1 252.4,268 252.5,270.1 254.6,270.4 255.4,273.6Z" fill="#0a8f82" stroke="#0a8f82" stroke-width="0.6"/>
<path d="M142,347 142.8,347.3 144,347.4 146,348 148.1,348.5 149.9,346.5 151.7,347.2 153.2,348.4 153.7,350.2 154.7,351.8 156.2,353.2 157.2,354.6 159.3,356.5 161.8,356.8 164.3,355.9 165.4,353.7 167.3,352 167.3,349.7 166.6,347.2 167.6,345.7 167.5,344.5 165.5,343.7 164.9,340.8 162.7,338.9 163.8,336.6 164.4,333.9 162.3,331.8 162.2,329.3 162.2,329.3 159.9,330.4 157.9,331.6 156.1,333.1 153.9,332.1 152.3,332.7 150.2,331.8 148.9,329.6 146.4,330.1 144.1,331.2 141.1,331 139,333 139.2,335.5 140.5,337.6 141.2,340 141.1,342.4 142.3,344.6Z" fill="#7dfde0" stroke="#7dfde0" stroke-width="0.6"/>
<path d="M142.8,347.3 142,347 141.9,347.3Z" fill="#0a8f82" stroke="#0a8f82" stroke-width="0.6"/>
<path d="M167.6,345.7 168.3,344.8 167.5,344.5Z" fill="#02e3a6" stroke="#02e3a6" stroke-width="0.6"/>
<path d="M292,284 294,283.7 296.2,283.1 296.2,283.1 296,283.1 294,283.4Z" fill="#02e3a6" stroke="#02e3a6" stroke-width="0.6"/>
<path d="M660.7,306.9 660,309 657.9,309.7 656.1,311.1 653.8,311.7 652,312.8 650,313 648.1,311.7 646.1,311.6 643.6,312.4 641.5,310.3 639.3,311.2 637.8,312.7 636.2,314.3 634.5,316 634.5,318 634.2,320 635,322 636.6,324.3 636.6,327.2 638.1,329 640,329.6 641.7,330.5 643.9,330.7 644.8,333 647.3,332.6 646.5,335 646.4,337.1 648.5,337.4 651,338 652.9,336.3 654,334 656.4,333.1 658.9,332.7 661,332.4 662.9,331.8 664.9,331.7 667.5,332.5 670,332 671,330 672.1,328 671.5,326 670.8,324.1 670.9,322.1 670.5,319.7 668.5,318.6 667,317 667.4,314.7 665.1,313.2 665.4,310.6 662.9,309.1Z" fill="#e8fff2" stroke="#e8fff2" stroke-width="0.6"/>
<path d="M469,422 470.1,424 472.2,424.8 473.8,426.3 476.2,426.7 477.7,428.3 479.9,429.6 482.1,430.7 484.8,431.3 486.6,433.3 489,434.7 489.9,437.5 491.9,437.7 494.2,438.1 495.4,435.9 497.5,434.1 498.3,431.8 497,429.2 497.9,427 497.4,425 497.3,423 496.9,421.3 494.5,420.1 491.6,419.1 492.4,416.6 489.8,415.3 489.8,413.4 487.7,412.6 485.7,410.7 484,413 481.9,414.6 479.8,416.7 477.1,416.7 474.3,416.4 472.5,415.2 470.2,417 470.5,419.9Z" fill="#02e3a6" stroke="#02e3a6" stroke-width="0.6"/>
<path d="M50.2,245.3 52.2,248.8 53.9,250.1 54.6,252.3 56,254.2 57.6,256 59.4,257.7 59.9,260.3 60.6,262.6 60.9,265 59.8,267.3 58.2,269.3 57.5,271.8 59,274.5 60.1,277 61.5,278.6 62.6,280.6 65.1,280.9 66.6,282.7 67.8,284.8 70.3,285.7 71.9,284.9 74.3,285.7 76.1,284.4 78.5,283 80.8,281.6 82.6,283.8 84.8,284.4 86.8,285.3 88.1,287 89.9,287.8 92,287.9 94.6,289.4 96.2,291.8 98,292.7 100,293.3 102.1,293.7 104.1,295.6 104.9,298.1 105.8,299.6 106.9,300.8 M78.7,228.3 77.5,231.2 78,233.6 78.5,236.1 78.9,238.3 78.7,240.8 80.2,242.9 80.9,245 83.4,245.8 84.1,248 84.7,250.2 85.5,252.1 86,254.1 87.3,255.9 88.3,258 89.6,260.1 91.2,261.9 92.4,263.9 94.3,265.4 95.6,267.4 96.1,269 96.7,271 97.6,272.9 97.4,275 95.5,276.7 95.8,279.4 94.4,281.2 94.1,283.5 92.6,285.7 92,287.9 M108.1,300.1 108.8,301.8 109.4,303.7 111.4,304.7 111,307.9 108.7,309.9 110.7,311.8 111.3,314.3 113.1,315.9 114.4,317.8 114.8,319.8 115.4,321.9 115.2,324.4 116.8,326.1 118.2,327.9 119.1,330.5 120.1,333 119.9,335.5 117.2,336.6 116.9,339 115.3,340.7 115.8,343 114.9,345 116.1,346.9 116.5,348.9 113.6,350.4 112,352.5 111,355 M111,355 109.3,353.5 107.2,353 104.9,353.2 102.5,353.3 99.9,353.5 98,354.7 95.7,354.4 94.1,356.3 92,356.6 89.9,356.2 88.1,357.3 85.4,356.9 83.1,355.6 81,356.7 78.8,356.7 77.1,358.3 74.9,359.4 72.4,359.6 70.1,360.3 67.7,358.4 64.7,359.2 M116.1,349.1 118,348.5 119.7,346.8 122,347 124,347.1 126,347.4 128.1,347.5 130.1,347.5 131.9,349.4 134,348.8 135.4,347.5 137,346.4 138.9,345.8 142,347 M139,333 141.1,331 144.1,331.2 146.4,330.1 148.9,329.6 150.2,331.8 152.3,332.7 153.9,332.1 156.1,333.1 157.9,331.6 159.9,330.4 162.2,329.3 162.3,331.8 164.4,333.9 163.8,336.6 162.7,338.9 164.9,340.8 165.5,343.7 168.3,344.8 166.6,347.2 167.3,349.7 167.3,352 165.4,353.7 164.3,355.9 161.8,356.8 159.3,356.5 157.2,354.6 156.2,353.2 154.7,351.8 153.7,350.2 153.2,348.4 151.7,347.2 149.9,346.5 148.1,348.5 146,348 144,347.4 141.9,347.3 142.3,344.6 141.1,342.4 141.2,340 140.5,337.6 139.2,335.5 139,333 M181.8,300.5 180.7,304 178.8,305 176.2,304.9 175,307.1 172.9,307.8 171.8,309.8 169.6,309.9 168.1,311.1 167,313 166.4,315.2 165.4,317.2 165.8,319.3 166.3,321.6 166.4,323.9 164.3,325.4 163.7,327.6 162.2,329.3 M167.6,345.7 167.8,348.3 168.7,350.2 169.6,352.1 170.9,354.1 173.3,354.7 175.4,354 177.9,353.5 179.4,352.5 180.3,350.9 180.9,349.1 M111,355 112.2,356.9 112.8,359.1 115.1,359.1 116.9,357.8 119.1,358.4 120.8,358.7 122.2,360.3 124.2,360.7 125.8,363.2 125.6,366.2 124.1,367.7 122.8,369.9 124.9,371.5 125.9,373.5 126,376 M126,376 125.4,378.4 124,380.2 122.6,382.1 122.1,384.5 120.2,386.1 120.2,388.1 121.7,389.8 120.7,392.2 121.9,394 122,396.1 123.5,397.9 123.6,400 123.8,402.1 122.2,404.2 120.4,406.4 117.7,405.2 115.3,405.4 113,406.2 110.1,406 108,404 M126,376 128.1,375.2 129.5,373.1 131.9,372.7 133.9,371.8 136.1,373 137.9,371.7 139.3,374.7 141.8,376.2 144.2,375.4 145.9,377.1 148,376.9 150.3,378.5 152.9,379.4 154.8,380.7 156.5,382.5 156.6,385.3 158.8,385.9 159.8,387.8 161.9,388.2 164.1,388.2 166.1,388.1 168,387.1 170,387.6 172.3,387.4 173.9,389.2 176.1,389.5 178,390.4 179.8,391.5 182.1,390.5 183.9,392.3 186.1,391.5 188.2,391.4 190,390 M153.5,194.8 154.5,196.8 154.9,199 155,201.5 156.9,203.1 158.9,204.7 161.4,205.9 163.3,207.6 164.6,209.8 165.8,211.9 167.3,213.8 168.4,215.8 169.7,217.6 169.8,220.1 169.6,222.3 170.6,224.7 170.3,227 171,228.5 172,230 M172,230 169.3,231.3 168.1,234.1 166.6,235.4 164.2,235.2 163.2,237.4 161.3,237.9 159.9,239.3 157.8,239.7 157.6,242 156.7,243.9 157.4,246.1 155.1,247.4 153.5,249.2 152,251 149.7,251.5 147.7,252.3 146.2,254.4 144.3,256 142.2,257.6 140.2,259.3 137.8,258.2 M176.1,181.8 177.1,184.1 177.9,186.2 177.4,188.7 178.5,190.8 179.4,192.9 180.4,194.5 181.1,196.5 182.3,198.1 183.3,199.8 184.3,202.2 184.8,204.5 183.4,207.1 185.3,208.8 187.9,208.9 188.8,211.2 189,213.5 190.9,215.1 192.4,216.8 193,219.5 194,222 M172,230 174.4,229.6 176.7,230.8 179.1,230.4 181.5,231.6 183.7,230.7 186,230.1 188.2,230.7 190.1,229.7 192,228.7 192.1,226.5 192.5,224.1 194,222 M205.5,175.9 207,179.3 206.4,181.7 207.3,184.3 207.1,186.7 205.8,189 205.7,191.2 206,193.2 208.2,194.8 207.7,197.1 208.3,199.3 209.5,201.2 211.2,202.9 213.3,203.4 215,205 M215,205 213.2,206.4 211.1,207.3 209,207.9 207.2,210.2 204.7,211.7 204.9,214.2 204.7,216.3 202.9,218 201.2,218.7 199.3,219.4 197.9,220.8 195.8,220.6 194,222 M221.1,166.6 221.8,169.2 222.5,171.5 224,173.5 224.2,175.9 225.4,177.6 227.7,178.3 228.2,180.8 230.3,181.7 231.6,183.4 232.2,185.8 235.2,185.8 236.4,187.6 237.4,189.9 239.3,191.6 240,194 M215,205 217.2,203.5 219.8,205.1 222.1,204.4 224.2,204.1 226,202.8 227.9,202 230,202.2 232,201 233.9,199.8 235.9,198.8 237.2,197.2 239,195.9 240,194 M240,194 242,194.9 244,193.2 246,193.8 248.5,194.4 251,195.1 253.9,194 M203,218 204.2,220.1 204.9,222.3 204.9,224.7 205,227 205.9,229.4 207.7,231 209.7,232.3 210,234.5 211,236.5 212.9,238.1 214.2,240.2 217,240.6 218,243 M289.1,164.9 289.3,167.5 290.5,169.9 290.3,172.5 290.5,175.1 292,176.6 292.7,178.5 294.2,179.9 295.3,178.7 297.2,178.4 299.3,177.4 301.1,178.7 301.6,180.9 303.1,182.3 304.4,183.8 304.7,185.9 306.3,187.2 306.9,189 307.5,191 307.6,193 307.9,195 308.6,197 309.5,198.9 309,200.9 M350.8,157.9 346.2,162 345.9,164.6 345.4,167.2 342.9,165.5 340.2,166.2 337.9,165.4 335.6,165.6 333.5,166.9 331,167 330.9,169 331.3,171 330.2,173.3 330.5,175.9 329,178 329,180 330.5,181.9 330,184 330.5,185.9 329.9,188 328.7,189.9 329.1,192 328.8,194 328.8,196.1 330.5,197.9 329.4,200.1 332,200.5 334,199.1 336,200.4 338.5,199.3 340.9,198.6 343.9,199 346,197.1 348.4,196 349.7,193.7 352.1,192.8 352.6,189.9 354.8,188.8 355,186.6 354.6,184.2 356.1,182 355.3,179.3 355.5,176.7 356.2,174 355.6,171.8 356.4,169.4 355.5,167.2 355.3,164.7 M330,200.2 328.9,202.4 327.6,204.8 326.2,207.2 326.2,209.8 M382,213 382.1,215.5 383.7,217.6 383.7,220.1 385,222.2 386,224.4 388.4,225.8 389.3,227.9 389.5,230.2 390.5,232.2 391.2,234.2 393.3,235.7 392.9,238 394.4,239.8 394,242 M394,242 391.8,242 390.3,244.2 387.8,243.5 386.1,245 385,247.1 383.2,248.3 380.5,247.6 378.1,246.6 376.1,246.2 373.7,246.5 371.8,245.5 370.8,246.8 368.3,246.4 367.2,248.3 364.5,248.4 362,249.2 360.2,250.7 359.1,253.1 357.5,255.2 354.6,256.5 M394,242 396,241.8 398.1,241.8 400.1,241.3 402.8,240.7 404,237.5 406.6,236.9 408.8,235.6 410.7,234 413,232.5 414.3,230.2 413.6,227.4 414.6,225.1 416.4,223.1 418.1,222.7 419.9,221.4 422,221 423.8,219.6 426.3,220.4 428,218.9 430,217.9 430.9,215.8 431.6,213.7 431.9,211.6 432,209.2 433.4,207.1 431.8,205.2 429.5,204.3 428.7,202.2 427.7,200.7 426.7,198.1 M400.1,241.3 401.9,242.5 404.1,243.5 406.1,244.9 408.4,245.4 409.2,247.8 411.1,248.9 413.2,247.6 415.7,248.2 418.1,248.6 420.1,247.2 422.1,247.7 424,249.1 426,248.7 427.8,247.5 430,247 431.9,245.8 434.1,245.5 436,244.7 438.2,244.5 440.5,244 441.5,241 444,241.1 446.3,240.2 448.5,239 450.1,237.3 M418.3,248.4 418.7,249.9 419.7,251.7 421.3,253.1 422.2,254.9 422.8,257.1 424,258.9 425.6,260.3 425.3,261.9 425.8,264.1 424.7,266 423.2,267.7 422.3,270 420.9,271.9 419.8,274.3 M286.9,217.9 286.4,220 286.2,222.1 286.5,224.2 285.2,226 286.1,227.9 285.3,230.4 287,232 288.3,234.2 289.5,236.4 290.3,238.9 289.3,241.6 288.4,244.2 286.5,246 283.6,245.2 282,247 M282,247 281.8,249 281.2,251 281.2,253 280.7,255.6 279.9,258.1 278.2,260.1 276.3,262.3 273.8,263.8 272,263.6 270.2,262.3 268,263.2 266.4,261.1 264.1,260.8 261.8,260.4 259.8,260 258.1,258.5 256.2,257.5 254.2,259.5 251.7,260 250.1,261.9 247.8,262.6 246,264 244,263 241.8,261.1 239,261 M246,241.8 246.8,243.9 247.6,245.9 247.5,247.9 247.3,250 245,251.3 244.1,253.8 242.1,255.1 241.6,257.3 239.8,258.9 239,261 M239,261 240.1,262.9 242.2,263.9 242.8,266.2 240.9,267.1 240.3,269.4 240,271.8 237.7,272.8 236.5,275.1 237,277.8 236.4,280.1 234.8,282.2 232.6,283.3 230.7,284.7 229.2,286.8 227.6,288.7 225.8,290 223.4,290.1 221,289.7 218.9,290.2 217.1,291.2 214.9,291.1 213,292 M213.7,247.5 212.6,249.3 210.7,250.6 210.1,252.9 207.9,253.9 207.3,256.2 206,258 204.9,259.9 206.8,261.7 207.7,264 209.5,265.7 207.7,268.2 208.2,270.6 207.4,272.9 207,275.1 204.5,275.5 202.8,276.8 203.7,278.9 204.6,280.8 204.4,282.9 206.5,283.6 207.7,286.2 210.3,286.6 210.4,289 212.2,290.2 213,292 M213,292 211.5,293.9 210.2,295.9 208.8,297.9 207.2,299.5 205.9,301.6 203.8,302.8 201.6,304 199,303.8 196.3,304.4 193.2,306.7 M227.6,288.7 230,290.7 230.9,293.4 232.6,295.4 235.1,296.2 237.3,297.2 239,299 238.3,301.5 240.5,303.5 240.6,305.9 239,307.7 237.7,309.1 236.7,310.8 236.6,313.1 234.6,314.6 235.3,317.1 233.1,318.1 232,320 M232,320 230.6,322.2 228.5,323.4 226.3,324.4 224.3,325.7 222.6,327.2 221.3,329.3 218.4,329.7 217.1,332.1 214.8,331.3 213.2,329.9 212.2,327.8 209.8,327.4 208.1,329.4 206.1,329.5 203.6,330 202.2,332.2 199.2,333.2 198,336 195.4,336.2 192.3,335.9 M232,320 233.7,321.6 236,321.9 238.1,322.8 239.6,324.8 242.4,324.2 243.9,326.2 246.4,326.1 247.9,328.3 250.1,328.9 251.4,331.6 254.4,332.6 254.9,334.7 256.2,336.2 257,338 M257,338 258.5,336.2 258.3,334.1 257.9,331.8 258.7,329.9 258.2,328.1 258.3,326 257.6,324.1 257.7,322 260.2,321.9 262.1,321 263.9,319.8 266.5,320 267.7,317.4 270,317.1 269.5,314.7 271.3,312.6 271.6,310.3 270.7,308 272.3,305.9 273.2,303.7 272.8,301.1 273.9,298.4 M270,317 272,317.2 273.9,318.4 276.1,317 278,318.2 280.1,317.5 282,316.4 284.1,315.9 286.2,315.4 288.2,314.9 289.8,316.9 292.1,316.2 293.9,317.3 296.1,317.6 297.9,315.8 300.1,317.1 302.1,316.6 304.5,316.2 307,316.3 309.1,318 M257,338 257,340.9 259.5,342.8 260.4,345.4 263.5,345.7 264.8,348.2 266.6,349.7 267.2,351.7 266.9,354.1 268.4,355.8 269.3,357.6 269.2,360 270.6,361.5 271.6,363.2 271.7,365.4 274.5,366.6 274.8,368.8 274.1,372.5 M255.8,257.8 254.2,259.7 253.4,262.3 252.7,264 253.1,266.1 252.4,268 252.5,270.1 254.6,270.4 255.4,273.6 257.6,273.7 M282,247 283.4,249.3 286.6,249.7 288,252 289.5,253.7 289.5,255.9 290.4,257.9 291.4,259.4 293.7,259.3 295,261 M331.8,240.7 329.2,242.2 328,244.2 325.9,245 324,246 321.7,246.6 320.9,248.9 319.2,250.3 317,251.9 316.2,254.3 315.8,256.9 314.2,258.2 312.2,259 310.1,259.3 307.7,259.3 305.7,258.7 304,257 301.5,257.7 299,257.9 297.2,259.8 295,261 M295,261 294.2,262.9 294,264.9 294,267 294.9,269.4 295.6,271.8 296.5,274.2 297.2,276.8 298.8,279.1 297.7,281.1 296.2,283.1 294,283.7 292,284 M292,284 294,283.4 296,283.1 298,282.9 299.8,281.7 302.3,283.1 303.7,280.4 306,281.1 308.2,281.5 309.9,279.7 311.9,281.2 314.1,281.7 316.1,282.7 317.8,281.7 319.7,280.8 322.1,281.4 323.8,282.3 325.7,283.2 328.2,282.5 329.9,283.8 332.1,283.3 334,284.2 336,283.4 337.9,282.3 340.2,282.5 341.6,280.2 344.2,281.2 346.1,280.4 347.4,278.3 348.8,276.8 350.4,275.4 352.2,273.7 354.7,274 356.4,273.7 M292,284 292.9,285.9 292.9,288.2 294.1,290 294.6,292 295.1,294.1 295.8,296.1 298.1,295.8 300,296.8 302,296.8 304,296.7 305.8,298.9 308.3,299.9 309.7,302.4 310.4,304 310.2,306.1 311,308 310.6,310 310,312 M310,312 312.1,311.5 313.8,313.6 316,313 318,312.7 320,312.4 322.1,312.4 323.7,310.5 325.7,309.3 328.3,309.7 330,308 332.1,307.3 334.3,306.7 336.4,305.8 338.2,304.4 340,302.3 342.6,302.4 345.1,302.4 347.1,301.6 348.1,299.2 349.9,298.3 351.9,297.8 352.9,295.9 354.8,294.8 357,294 358.6,291.7 M310,312 309.8,314 310.3,316.2 309.1,318 308.4,320.3 309.6,322.1 310.6,324 311,326 311.8,328.4 313.2,330.3 315.3,331.8 316.3,334.3 318.6,335.8 320,338 322.1,338.8 323.7,340.3 325.5,341.5 327.1,342.9 329.5,343 331.3,344.4 333,346.1 335.9,346.1 338.2,348 M209.8,374.5 210.5,377.5 212.5,379.5 213.2,381.9 212.9,384.2 210.9,385.8 211.4,388.1 211.4,390.1 211.6,392.3 213.3,393.9 212.8,396 211.7,397.9 211.9,400 213.3,402.2 215,404.3 215.1,407 216.3,408.9 216.6,411.2 218.2,412.9 219.2,415.2 219.7,417.8 220.7,420.1 222.6,421.5 223.9,423.2 224.9,425.1 226.2,426.8 228.7,426.4 229.7,428.5 231.8,429.4 234.1,429.7 235.9,431.2 237.9,431.7 239.8,432.2 241,434 M260.6,371.3 261.5,374 261.4,376 261.8,378 261.5,380.1 261.2,381.9 262.6,384.1 261,386 261,388 261.1,390.7 260.2,393.3 261.1,396 260.1,398.4 258.2,400.3 258.1,403 256,405 254,407 251.9,407.4 250.5,408.7 249,410 M249,410 249.5,412 250.5,413.9 249.3,416.1 249.9,418 247.9,418.8 246.3,420.2 245.3,422.3 245.3,424.1 245.3,426.2 243.6,427.9 243.8,430.4 242.8,432.4 241,434 M249,410 251,409.6 252.9,408.5 253.6,410.9 254.6,412.6 256,414 258.6,414.5 259.8,417 262.1,417.9 263.9,419.8 265.3,422.2 267.8,423.3 269.5,425.3 272.5,425.7 274.1,427.9 275.6,429.4 278,429.8 278.6,432.4 280.8,433.7 282.1,435.7 283.2,437.9 284.5,439.2 285,441 M241,434 240.5,436 240.3,438 240,440 M177.9,431.6 181.6,431.7 183.8,432.9 185.9,434.4 187.8,435.4 189.7,436.3 192.2,435.7 194.1,436.7 196.6,436.7 198.6,438.4 201,438.9 203.3,438.3 205.7,437.6 208,437.1 210.4,436.2 213.1,436.3 215.1,436.8 215.7,439.4 218,440.1 220.5,440.1 222.2,441.6 224,443 226.3,442.5 228.7,442.5 231,441.8 233.1,441.8 234.9,443.3 237,442.8 238.8,441.8 240,440 M240,440 239.8,442 240.1,444 239.5,446 240.5,448 239.8,450.1 241.5,451.9 239.8,453.8 238.1,455.1 237.4,457.3 235.3,458 235,460 M235,460 233.8,462.2 233.7,465 231.6,466.8 231.5,469.3 230.6,471.6 231,474 228.6,474.3 226.2,474.9 224.1,476.2 221.3,476.7 218.7,475.2 216,476.4 213.5,475.4 211.4,477.3 209.1,477.5 208.9,479.8 206.7,481.9 206.7,484.6 208.5,486.6 208.8,489.1 208.9,491.5 206.8,493.4 206.8,495.9 206.7,497.9 204.5,499.5 M235,460 236.4,461.4 238.9,461.1 239.8,463.3 242.3,464.3 244.4,465.9 245.9,468.1 247.8,469.2 248.9,471.1 251.1,471.9 251.7,474.3 254,475.4 254.8,477.9 257.3,478.7 258.2,481.2 259.6,483.1 262.1,483.9 264,485.5 264.2,487.9 264.9,490.1 267.5,490.1 269.6,491.4 272.1,491.6 274.1,493.9 275.8,496.2 277.8,497.2 279.1,499 281.3,499.7 282.1,502.2 284.9,502.7 285.7,505.3 286,507.3 287.1,508.9 289.3,509.9 M285,441 284,443 282.6,444.6 280.8,445.8 282,447.7 282.1,450 284.8,450.8 285,453 285.3,455.2 286.8,456.6 287.9,458.3 289.4,459.8 290.7,461.6 291.5,463.8 291.2,466.4 292.6,468.2 294.6,469.7 294.1,472.4 297,473.5 296.9,476.1 297.6,478.6 300.3,479.8 300.7,482.6 302.9,484.1 304.9,485.2 305.3,487.3 306.1,489.2 307.3,490.9 307.9,494.2 M285,441 286.9,439.9 289.1,441 291,439.8 293.1,438.1 296,438.1 294.4,435.9 294.8,433.3 294.3,430.9 294.2,428.7 293.9,426.3 293.5,424 296,422.4 297.4,420 300.1,419.1 300.6,416.5 302.8,415.1 303.9,412.9 305.5,411.4 307.6,410.6 311.3,406.3 M343.5,356.6 346.3,357.3 347.5,359.9 350.1,359.8 352.2,361.1 354.5,361.5 357,361 359,362.2 360.4,363.8 360.7,366.3 362.5,367.7 362.3,370 363,372 363.2,374.3 361.7,376 361,378 M361,378 363,378.4 365,378.7 367,378.8 369.4,378.6 371.7,379.4 374,379.7 376.6,379.8 378.8,380.8 380.9,382.4 382.7,380.7 384.9,380 385.7,377.6 388.6,377.5 390,375.3 392.2,374.3 394.1,373.1 396.1,372.2 399,371 M399,371 399.9,368.7 398.9,366.2 399.7,364 399.3,361.5 400.4,359.3 401,357 402.3,355 405,354.3 405.7,351.7 407.5,350.4 408.2,348.3 410.2,346.8 M361,378 359.4,379.3 358.6,381.1 358.4,383.3 358.2,385.4 357.1,387.6 356.5,389.9 358.4,391.8 357.4,394 357.8,396 357.8,398.2 359.2,400 357.4,401.3 357.1,403.4 355.6,404.8 356.6,407.3 354,408.8 354.7,411 354.1,413 352.8,414.8 351,415.5 348.9,415.8 348.1,417.9 348.8,420.2 347.8,422.1 347.1,423.8 M399,371 400.6,372.4 401.6,374.2 402.3,376.1 402.5,378.3 403,380.5 404.4,382.3 406,384 407,386 405.7,387.8 404.8,389.7 404.7,391.9 403.2,393.8 402.3,396.2 402.8,397.8 403.3,399.7 405,401 M405,401 403.4,402.8 400.8,402.6 399.1,404.2 397.9,406.2 394.9,406.6 393.9,408.9 392.5,410.7 392.8,413.4 390.7,414.8 388.4,415.5 386.5,416.9 384.8,418.8 384.5,421.3 384.8,423.6 385.5,425.8 386.1,428 385,429.9 384.9,431.9 384.4,433.9 385.2,436 383.3,437.7 383.6,440 382.5,441.8 382.1,444.1 379.6,445.1 M405,401 406.4,402.6 408.8,402.5 409.9,404.7 412.2,404.7 413.9,404 416,404.2 418,403.7 420,405.7 421.4,408.1 423.9,409.2 425.8,410.4 428.1,410.8 429.9,412.3 431.6,413.9 433.8,415 435.7,416.4 438.1,416.4 440,415.1 441.9,414.5 443.5,416.3 444.9,417.7 447.1,417.8 450,418 M372.5,309.1 374.6,308.7 376.9,307.6 378.8,305.5 381.3,305 383.2,303 385.8,302.6 388.2,303 389.9,301.5 392,301.1 394,300.7 396,300.1 397.9,299.6 400,299.8 402.7,300.8 405.3,300.3 408,299.8 410.3,299.8 412.2,300.8 413.9,302.2 416,301.5 418.1,301.7 420.1,301.3 422.5,300.5 424.6,302.1 427,302 M429.5,282.7 429.3,285.8 431.3,287.9 431,290.6 429.5,292.9 429.3,294.8 428.5,296.7 426.6,297.8 426.7,300 427,302 M427,302 427.9,304.3 428.3,306.7 428.5,309.1 430,311 430,313.5 432.3,314.8 432.3,317.3 434.7,318.7 435,321 437,321.9 437,324 M437,324 438.9,322.1 438.9,319.3 440.3,317.1 440.9,314.7 442.4,312.8 443.6,310.7 446,310.4 448.3,310.5 450,309 451.5,307.4 453.9,307.1 455.3,305.4 456,306.9 458.4,307.7 458.9,310.1 460.1,311.6 460.1,313.9 462.1,314.9 463.8,317 465.8,318.6 468.1,319.9 470,320.4 471.9,321.1 473.9,321.5 476,322.3 478.2,323.4 479.7,325.5 481.5,323.1 484.3,323.7 486.1,322.2 488,321.8 490,321.2 492,321.3 494.5,321.6 496.7,320.9 498.5,320 M437,324 438.1,326.3 437.4,328.7 437.4,331 435.1,332.1 434.2,333.9 434.4,336.2 431.9,337.3 429.9,338.9 428.6,341.3 426.1,342.1 423.1,341.8 M524.1,257.3 525.7,260.5 527.5,262.5 527.7,265.1 530,266.3 531.3,268.4 533.1,269.9 534.4,272.2 536.8,273 538.8,274.3 540.5,275.3 542.5,275.8 543.7,277.5 545.8,278.4 548,279 M507.7,340.1 510.7,340.5 513.1,341.6 515.5,341.7 518.1,341.4 520.1,339.8 521.1,337.4 522.7,335.7 524,334 525.8,332.4 525.7,329.8 527.5,328.2 527.3,325.7 528.8,323.9 529.1,321.5 530.6,319.8 531.9,317.9 534.3,318.4 536.3,317.7 537.9,315.7 540.5,315.6 542.3,316.3 M509,349 511.5,349 513.8,349.9 516,350.9 518.2,351.6 519.7,353.2 521.1,354.9 522.5,356.5 522.8,359 525.2,359.8 527.1,360.8 527.7,363.4 530,364 531.3,365.7 533.2,366.3 534.8,367.3 537.7,367.6 540.1,368.6 541.7,370.5 544,370.9 546,372.1 547,373.9 548.2,375.7 550.2,376.8 551.8,378.8 553,381 M553,381 552.6,383.3 552.8,385.7 551.9,388 552.2,390.1 550.7,391.9 551.5,394.1 550.6,396.4 551.5,398.7 552.2,401 550.7,403.2 551.9,405.7 551,408.5 M553,381 555.1,379.1 558,379.1 560,378.5 561.5,377.4 562.9,375.9 565.1,375.2 565.8,372.6 567.9,371.8 570,370.8 572.2,369.8 573.5,367.7 575.1,366.2 577.5,365.9 579.6,364.4 582.1,364.5 584.4,362.8 585.8,360.4 587.9,358.9 589.6,357.3 589.7,354.8 590.7,352.8 592.9,351.7 593.6,349.5 594.8,347.8 596.2,346.1 597.8,344.8 597.3,342.2 599.3,341.1 M603.8,285.1 601.8,288.1 599.6,288.7 597.7,289.7 595.8,290.7 593.8,292.4 591.9,294.2 590.1,296.1 591.4,298.1 593.2,299.8 594.5,302.1 596.8,303.3 595.3,304.3 595.7,306.7 593.8,307.9 592,308.5 590.7,310 588.8,310.6 587.5,312.7 587.1,314.8 586.6,316.9 586,318.9 584.8,320.7 585.4,323.1 583.6,324.8 582.6,326.8 582,329 M598.2,339.5 601.4,336.6 602.8,335.1 605.1,335.1 607.6,334.7 609.5,332.5 611.9,331.7 614.1,330.4 616.3,329.1 619.1,329.2 621.3,328.5 622.8,326.9 623.9,324.9 626.3,323.9 627.7,321.6 629.7,323.7 632.1,323.8 632.9,322 635,322 M635,322 634.2,320 634.5,318 634.5,316 636.2,314.3 637.8,312.7 639.3,311.2 641.5,310.3 643.6,312.4 646.1,311.6 648.1,311.7 650,313 652,312.8 653.8,311.7 656.1,311.1 657.9,309.7 660,309 660.8,306.8 662.7,304.8 662.2,300.7 M660.7,306.9 662.9,309.1 665.4,310.6 665.1,313.2 667.4,314.7 667,317 668.5,318.6 670.5,319.7 670.9,322.1 670.8,324.1 671.5,326 672.1,328 671,330 670,332 M635,322 636.6,324.3 636.6,327.2 638.1,329 640,329.6 641.7,330.5 643.9,330.7 644.8,333 647.3,332.6 646.5,335 646.4,337.1 648.5,337.4 651,338 M651,338 652.9,336.3 654,334 656.4,333.1 658.9,332.7 661,332.4 662.9,331.8 664.9,331.7 667.5,332.5 670,332 M670,332 672,332.2 674.1,332 676,333.2 678.2,333 680.2,333.8 682,335.1 683.9,335.8 685.8,336.7 688,336.3 690,337 692,337 694,336.3 696.1,336 698.1,334.9 M651,338 651.3,340.4 651.4,342.8 649.6,344.9 650.2,347.2 651,349.1 652.3,350.9 653.3,352.9 654.7,354.7 654.9,357.1 654.6,359.4 656.8,360.9 657.5,362.8 658.4,364.8 658.6,366.9 658.6,369.1 659,371.2 660.4,373 660.6,375.9 M552.1,441.5 552.2,438.6 553.3,436.6 555.6,435.3 556,433 558.4,432.7 560.1,431.3 561.6,429.8 563,428 565.5,428 567.4,425.8 569.9,425.6 571.9,427.5 574,428.7 576.2,429.7 578.3,430.9 580.6,431.8 581.7,434.4 584.7,433.4 587.2,432.5 589.7,432.6 592,430.9 593.7,432.9 596.1,433.9 596.4,436.3 597.3,438.4 599.4,439.8 601.8,441.2 603.2,443.8 605.1,443.5 606.9,442.4 608.8,441.5 611.6,442.2 614.1,441.3 615.7,441.9 617.9,442.1 618.8,444.4 621,445.1 623.2,445.6 624.1,447.9 624.1,450.1 625.3,452.4 M571.2,426.8 573.6,424.3 575.6,422.9 576.8,420.8 576.9,418.4 578.5,416.1 579.5,414.5 580.8,412.6 583.1,412.1 585,410.2 587.4,409.4 590,409 591.5,407.1 592.9,405.2 594.2,403.1 595.6,401.9 596.8,400.1 599.1,400.2 600.7,398.4 603,398.6 605,397.9 607,398.4 609,398.5 611,397.7 613.2,396.2 615.2,394.2 615.9,391.5 616.6,388.8 616.8,386.8 615.2,385.5 613.6,384.3 611.6,382.4 610.1,380 M610.9,397.7 613,398.5 614.5,399.8 615.8,401.3 617.5,403.5 619.9,405.1 620.9,407 623.5,407.7 624.4,409.7 624,412.9 625.7,415.1 628.2,416 629.5,417.7 630.2,419.8 631,422.1 633.7,422.2 634.9,424.2 636.2,425.8 638.2,426.3 639.8,427.4 642.3,427.9 644.4,429 646.1,431.1 M469,422 470.5,419.9 470.2,417 472.5,415.2 474.3,416.4 477.1,416.7 479.8,416.7 481.9,414.6 484,413 485.7,410.7 487.7,412.6 489.8,413.4 489.8,415.3 492.4,416.6 491.6,419.1 494.5,420.1 496.9,421.3 497.3,423 497.4,425 497.9,427 497,429.2 498.3,431.8 497.5,434.1 495.4,435.9 494.2,438.1 491.9,437.7 489.9,437.5 489,434.7 486.6,433.3 484.8,431.3 482.1,430.7 479.9,429.6 477.7,428.3 476.2,426.7 473.8,426.3 472.2,424.8 470.1,424 469,422 M449.3,387.1 451.3,387.1 453.7,386.7 456,386.5 458.6,387.3 461.1,387.3 463.6,387 466,385.5 468.1,386.7 470.1,387.8 470.8,390.1 473.2,391 473.6,393.4 474.6,395.3 475.4,397.6 478,399.2 478.4,401.8 479.8,403.2 479.6,405.6 480.9,407.1 483.5,407.5 486,407.9 487.8,408.8 489.2,410.2 490.9,411.1 493.2,410.2 494.2,408.2 495.8,409.3 497.7,410.2 499.9,410.4 501.8,411.1 504.3,410.3 505.9,412.2 506.9,414.5 509.1,416 508.8,418.3 511,419.8 510.5,422.2 510.5,424 509.2,425.8 509.3,428.1 508,430 506.6,431.6 505.2,433.1 505.6,435.5 504.5,437.7 503.5,439.9 504.7,442.2 505.1,444.4 506.7,446.1 505.7,447.8 506,450 M449.2,441.1 451.4,443.5 453.6,443.6 455.1,444.8 457.4,445.8 460.1,446 462.1,447.7 464.1,449.5 466.4,450.3 469.1,449.8 469.4,452.3 470.7,454.1 469.5,455.7 469,457.8 469,460 469.2,462.3 467,463.8 467.2,466.1 467,468 468,469.9 468,472 M468,472 469.8,473.4 472.1,471.9 474,473 476.3,473.3 478.7,473.1 481,473.5 482.8,473.8 483.8,475.8 485.9,476.2 488,473.9 487.6,470.8 488,468.8 488.9,466.8 490.4,465.1 490,462.8 491.5,461.4 493.2,460.1 495,458.9 494.4,456.3 495.9,455 498.3,453.8 500.1,452.2 502.2,451.9 504.2,451.2 506,450 M468,472 469.5,474.3 470.5,476.8 469.9,479.1 471.3,480.9 471.3,483 470.3,485.2 471.3,487.1 472.8,490.2 M508.3,391.9 508,394.1 508.4,396 508.8,398 509.8,400.3 510.7,402.5 510.5,404.9 510.8,407.5 509.6,409.7 506.3,413.1 M506,450 507.9,448.8 510,449.3 512.1,449.5 514.1,449.1 515.9,447.8 518,448 M518,448 519.6,446.1 521.5,444.6 523.9,443.8 525.9,442.5 528.2,441.7 530,439.9 531.9,438.3 532.6,435.7 534,438.1 536.6,438.4 537.8,440.3 540.7,439.4 544.4,440.2 M518,448 519.3,450.2 518.5,452.9 519.7,455.1 519.4,457 520,459.1 520.4,461.1 519.4,463 519.2,465.4 521.7,466.6 521.8,469.1 521.5,471 521,472.9 521.4,475.1 522.7,476.6 523.8,478.6 523.5,481.2 526.1,482.1 527.8,484 530,485.1 532.4,485.8 534.6,486.8 536.3,488.5 537.7,487.9 537.6,485.6" fill="none" stroke="#6f7774" stroke-width="0.7" stroke-linejoin="round"/>
<path d="M108,230 110,231 112.1,231.7 113.8,233.5 116.5,232.5 118.6,234.5 120.9,234.6 122.6,236.4 124.7,238.3 127.5,238 129.4,240.4 132,240 133.3,242.7 135.7,244.3 136.8,246.3 135.3,248.7 135.5,251 137.6,253.1 137.7,255.6 137.7,258.1 139.4,260.1 138.5,262.9 140.2,264.9 139.6,267.1 141.5,268.9 141,271 138.3,272.3 137.2,275.2 139.4,276.6 141,279 142.4,280.8 143,283 M143,283 141.9,285.5 140.3,287.5 137.6,288.7 136.6,290.5 135.2,291.9 135.3,294.2 132.7,292.4 129.8,292.4 128,291.6 126.1,291 124,291.2 121.2,291.2 119,292.9 116.9,293.8 114.6,294.2 113.2,296.4 110.6,296.4 109.5,298.4 108.1,300.1 105.5,301.5 104.2,304.2 101.6,303.6 99.9,305.2 98.1,306.2 95.3,305.4 92.7,306.1 90,306.4 88,305.4 86,307 84,305.6 82.2,307.2 79.9,307 77.8,307.5 76,308.3 73.9,308.6 72.1,309.9 70.1,310.6 67.5,310.7 65.2,310.1 63.3,309.3 M143,283 145.5,283.3 148,284 149.8,285.4 152,285 M152,285 153.5,286.3 153.7,288.5 155.5,289.7 157.6,289.6 159.8,291 162.1,291.6 164.1,292.4 166.2,292.9 167.9,294.4 170,295.1 172.3,295.4 173.9,297.3 176,297.9 178.2,298.6 179.6,300.9 182.3,300.5 184.4,301.3 186.2,302.6 188.2,304.3 190.3,305.8 192.9,306.3 194.2,307.9 195.5,309.8 196.5,311.7 195.7,314.7 195.9,317.3 196.2,320 195.4,322 195.6,324 194.3,325.9 194.7,328 194.9,330.5 192.8,332.4 193.5,335.1 191.3,336.6 189.8,338.5 188.2,340.2 187.1,342.4 184.2,342.9 183.4,345.4 181.9,346.9 180.5,348.8 182.7,350.6 183.6,352.7 183.9,355.1 185,357.3 185.7,359.8 186.7,362.1 188,363.9 187.9,365.9 188.2,367.9 188.5,369.9 187.4,372.5 188,374.8 188.8,377 190.3,379.1 188.6,381.5 189,383.7 189.9,385.8 189.7,388 190.1,390.5 190.6,393 190.9,395.5 190.3,398 190.4,400.3 189.2,402.1 187.7,403.8 187.2,405.9 186.6,407.9 185.9,409.9 186.3,412.2 185.1,414 184.7,416 183.7,417.9 183.4,420 183.5,422.1 182.2,423.9 181.5,425.9 181,428.4 178.7,429.7 177.8,432 175.8,432.5 174.1,433.5 171.9,433.8 170.1,435.9 169.5,438.4 169.2,441.1 167.6,443.1 168.4,445.6 168.1,447.9 166.5,449.9 166,451.9 165.1,453.8 164.4,455.9 163.5,457.8 163.6,460.5 163,463 M152,285 153.4,283.5 154.7,281.9 154.9,279.7 156.2,278.1 158.1,276.5 159.7,274.3 161.8,272.7 164.2,271.5 165.4,268.9 168.3,268.4 169.6,266.1 171.4,264.6 173.5,263.5 176.3,263.4 177.8,261.7 179.6,260.3 181.8,259.5 184.7,258.9 187.3,260.4 190,260.2 192.2,259.7 194.2,259 195.6,256.8 198,257.1 199.8,255.4 202.4,254.9 204.2,253.3 206.7,252.8 208.3,250.1 211.2,250.4 212.8,248.8 213.9,247.2 213.6,244.8 216.1,243.7 218.4,242.8 220.9,242.5 223.2,244 225.4,244.2 227.7,244.1 230,244.4 232.5,244.1 235,243 237.4,242.3 240,242.5 242.1,243.3 243.9,241.8 245.9,241.8 248,241.9 249.3,239.6 251.8,238.8 252,236.9 253.5,235.1 253.2,232.9 253.8,231 256.7,230.2 258,227.7 260.3,226.3 261.2,224.4 261.1,222 262.8,220.7 264,219 M264,219 263.9,216.8 262.3,215.1 262.2,212.9 261.1,211 259.7,209.1 259.8,206.3 257.1,204.7 257.3,201.9 255.3,200 253.9,197.8 253.7,195.1 254.3,192.6 254.4,190.2 252.4,188.1 254.3,186.3 255.7,184.7 257.3,183.2 257.3,180.4 259,178.3 259.8,175.9 261.4,173.9 260.8,171.2 262.5,169.1 264,168.5 266,168.3 268,169.2 269.7,168 271.1,166.2 273.4,166.3 274.8,164.6 277.6,164.6 279.8,163.4 282.1,162 M264,219 266.1,218.6 267.9,217.4 270,216.9 272.1,217.8 273.6,219.8 276.2,219.6 278.1,220.6 279.9,218.4 281.9,218.6 284,218.7 286.5,218.4 288,216.3 289.9,214.9 292.6,213.6 293.8,210.8 296,209.9 298,209.1 300.1,208.3 302,207.5 303.5,206.3 304.9,204.9 306.7,202.7 308.7,200.7 310.9,202.1 312.9,202 315,202.3 317.3,202.3 319.1,203.9 320.9,205.3 322.9,207.1 325.3,208.7 327.1,210.9 328.7,213.3 330.8,213.5 332.2,214.7 334.1,215.2 335.9,216.8 337.9,217.4 340.4,216.5 342.8,216.9 345,217.7 347,217.6 349,218.1 351,217.6 352.8,216.6 354.8,215.7 356.2,218.8 358.8,220.2 360.5,217.8 363.3,217.4 364.5,214.8 366.9,213.9 369.2,214.8 371.1,214 373,213.3 375,213.2 377.1,213 379,214.2 382,213 M374,173.1 375.2,175.1 375.3,177.4 376.5,179.5 376.1,182 375.6,184.1 376.1,186.1 376.7,188 376.8,190 377.3,192 378.3,193.9 377.5,196 378.1,198 377.7,200.1 377.6,202.1 378.9,204 378.9,206 379.5,208.6 381.2,210.6 382,213 M332.2,214.7 330.8,217.2 329.8,219.4 329.7,221.9 330.1,224.1 330.2,226.2 331.1,228.1 331.8,230 331.6,232 331.4,234.1 330.2,235.9 330.4,238.1 331.5,239.6 332.2,241.7 333.8,243.2 335.5,244.9 337.7,245.9 339.1,247.9 340.7,249.3 342.2,250.9 344.1,251.9 346.7,252.4 349.3,253 352,251.6 352.7,253.8 353.5,255.7 355.1,256.9 355.7,259.3 355.3,262 357.5,263.9 356.6,266.3 357.1,268.8 355.7,271 356.1,273.5 358,275 360.6,276.4 362,279 M362,279 360.9,281.5 359.8,283.9 359.3,286 358.4,287.9 357.6,289.9 359,292.5 360.1,295 361.5,296.9 364.3,296.4 365.9,298.2 367.5,299.5 368.2,301.7 370.3,302.7 369.6,305.4 371.6,306.9 372.5,308.8 372.2,311.4 371.6,313.7 371.6,316.1 370.9,318 370.5,320 370,322 M362,279 363.9,278.3 365.9,277.8 367.9,277.7 370.1,278 372.2,278 374,276.6 375.9,275.7 377.9,276.9 380,276.3 382.1,276.1 384.1,276.6 385.9,278 387.9,278.4 390,278.2 392,276.3 394.1,274.8 395.8,272.8 397.7,274.7 400.1,274 401.9,275.2 404.2,275 406.2,274.4 408,273 409.9,272.2 412,272.4 413.9,271.6 415.8,273.4 418.1,273 419.9,274.4 421.8,275.3 422.9,277.2 424.2,278.8 425.8,280.2 427.8,281.1 429.4,282.6 430.4,284.4 432.6,284.6 434.2,285.7 436.2,286.6 438,288 440,288.9 441.9,289.6 443.9,290 446,289.8 448.5,290.6 450.8,290.1 452.9,288.5 454.6,287.7 455.8,286.1 456.3,284.2 457.5,281.7 460.5,281.3 462.1,279.1 463.3,276.5 465.3,274.8 468.3,274.4 470.2,272.8 471.8,270.8 474.8,271.1 477.2,272.6 478.1,271.1 480,270 M370,322 372.2,323 374.4,324 375.7,326.4 377.8,327.4 380.3,326.8 381.7,329.1 384,329.1 385.8,330.4 387.9,330.9 389.7,332.1 391.9,332.3 393.6,334 396.4,334.1 397.9,336.2 400,337.7 401.6,339.8 404,340.9 404.9,343.1 406.9,344.1 408.9,345.1 410.2,346.8 411.9,345.8 414,346.3 415.9,345.5 417.6,344.3 418.8,342.1 421,341 423.5,342 426,343 427.5,345 430.6,344.7 431.8,347.3 434,347.7 435.9,348.6 437.9,349.6 439.9,350.4 442.1,350.5 444.1,351.3 445.6,353.2 448.2,352.5 449.8,354.9 451.8,356.6 454.3,357.6 455.9,359.5 457.8,361 459.7,362.4 461.8,363.8 463,366 M370,322 368.3,323.3 366.7,324.7 364.7,325.6 364,328.2 361.4,328.3 359.9,329.9 358.2,331.6 355.5,332 354.1,334.1 351.7,335.1 349.3,335.9 346.9,336.7 345.3,338.6 343.1,339.1 341,340.1 339.9,342.3 338.3,344.4 338.2,347.1 338.3,349.8 340.1,352 342,354 344.2,355.8 342.5,358 340.6,359.7 338.9,360 336.9,360 335,361.2 332.7,361.4 330.3,361.5 328,360.9 325.6,361.4 323.2,361.7 321.1,363.5 318.3,363.5 315.8,364.6 313.9,366.6 312.7,369.1 310,370 M188.8,377.1 190.9,375 193.4,374.3 196.2,374.4 198.2,374.7 200.4,375.4 202.6,376.1 204.9,376.5 207.1,375.5 209.1,374.8 211.1,374 213.1,373.2 214.8,371.8 216.6,370.7 217.8,368.7 219.4,370.6 221.4,371.6 222.8,373.2 225.2,371.8 227.6,371.6 229.9,371.5 232.6,371.6 235,370.9 237.1,369.2 239.4,368.2 242.1,368.4 243.3,369.8 245.2,370.8 247.2,371.8 249.6,372.1 252,372.9 253.7,371.2 256,369.9 257.9,370.7 259.8,371.7 262.1,370.5 264,371.8 266.3,371.3 268.1,372.6 270.1,373.4 272,372.5 274.1,372.5 275.8,373.6 278.1,374.5 279.1,376.9 280.8,375.8 283,375.1 284.3,373.4 285.6,371.3 287.2,369.5 288.7,367.7 290.3,366.1 290.4,363.7 291.6,361.8 294.2,361.2 296.2,361.5 298,363.2 300.5,363.6 301.4,366.6 304.3,366.6 305.6,368.8 308.4,368.2 310,370 M310,370 309.2,372.3 309.9,374.8 308.7,377 309.5,379.3 309.5,381.6 307.6,383.7 307.8,386 306.9,387.9 307,389.9 308.2,392.1 306.9,394 307,396.1 308.1,398 307.5,400.2 309.3,401.9 309.4,404.6 311.3,406.3 313.5,407.7 315.3,408 316.3,410.3 317.9,411.6 320.2,411.6 322,412.6 323.2,414.5 325.6,414.3 326.8,416.4 329,417.3 331.6,417.8 333.1,419.9 335.3,421.2 337.7,421.9 339.9,423.2 342.1,422.4 343.9,424.2 346,423.4 348,424.2 350,424.6 352,424.5 354,424.9 353.7,427.1 353.7,429.2 354.7,431.1 356.6,432.8 358.7,434 360.4,435.6 361.6,437.8 363.8,437.9 365.7,439 368.1,438.8 370,438.9 372.2,439.4 374.1,438.4 375.9,439.2 378.1,439.8 379.2,442.4 379.6,445.2 378.6,447.2 376.3,448.7 374.9,450.9 373.2,452.9 372.4,455.2 372.5,458 371.5,460.2 373.1,461.1 374.6,462.9 376.1,464.7 378,466 M378,466 376.5,467.7 377.7,470.3 375.6,471.9 376.4,473.9 377.8,475.2 M378,466 380,466.5 382.1,466.2 383.9,467.4 386.3,466.6 388.2,465.4 390.2,464.4 391.9,462.9 393.7,461.6 396,461.9 398.1,461.3 399.6,459.2 402.3,459 404.5,458.1 405.8,455.7 408.1,455.2 410.2,454.4 412,452.9 413.8,451.7 415.8,450.8 418.2,451.2 420.1,450.3 422,450.9 424.4,451.2 425.8,453.3 428.1,453.3 429.9,451.7 432,452.1 434.7,451.8 437,450.8 439,449 440.7,448 442.6,447.2 443.9,445.4 445.8,444.7 446.9,442.6 449.2,441.1 448.2,439.1 448.1,437 447.3,435.1 447,433 446.7,430.8 447,428.7 449.6,427.3 448.9,425 448.4,422.9 449.8,421 450.4,419.1 449.6,417 450.5,415 450.1,413 450.8,411 450.5,408.9 449.2,407.4 450.6,404.6 449.5,402.7 448,401 447.9,399 447,397.1 447.9,394.9 446.9,393 448.6,391.3 448.9,389.2 449.3,387.1 451,388.1 453,386.7 454,384.8 455.9,383.8 457.8,382.7 458.2,380.8 459.1,379.1 461.1,378 462.5,376.3 462.2,374 463.5,372.2 463.9,370 462,368 463,366 M463,366 464.8,363.8 466.7,361.7 469.2,362.7 470.9,360.8 473,361.1 475.1,361 477.2,361.4 479,360.2 479.9,357 482.3,356.9 484.7,356.2 487,357.5 488.8,358.4 491.1,357 493.1,357.5 495.5,358.1 497.8,359 499.9,360.4 501.6,361.8 503.8,362.3 504.1,359.9 506,359 M510.3,263.2 509,264.9 508.7,266.9 507.4,268.7 508.5,271.1 508.3,273.2 506.4,274.9 505.5,276.8 505.8,279 506.2,281.1 505.3,283 504.7,284.9 505.5,287.1 504,289.2 502.8,291.3 501.4,293.2 499.4,294.7 498.2,296.9 496.2,298.2 497.5,300.1 496.9,302.8 498.5,304.8 497.8,307.1 499.2,308.9 499.8,310.9 498.5,313.1 499.6,315 498,317 498.6,319 498.4,321.5 500.5,323.5 500.1,326 501.9,328 501.1,331.1 502.6,333.2 504,334.9 505.6,336.4 507,338 507.7,340.2 508.4,342.3 508.4,344.7 509.4,346.9 508.9,349.5 508.6,351.9 506.8,353.9 506.4,356.5 506,359 M506,359 504.7,361.3 505.3,364.1 502.6,365.2 500.1,366.4 501.5,367.8 501.7,370.2 503.9,370.7 505.7,371.3 507,373 507.1,375.4 505.4,377.5 506.4,380.1 505.2,382.5 507.7,384.5 506.6,387.1 507.1,389.6 508.3,391.9 510.5,392.4 513,392.8 514.6,390.6 516.8,388.8 516,387.1 516.7,384.6 515.5,382.8 514.9,380.6 512.6,379.2 514.8,377.6 517.2,377.4 519.9,377.1 521.9,379.2 523.7,380.7 523.8,383.6 526.5,384.7 526.4,387.3 528.3,388.8 529.4,390.8 531.2,392 531.1,394.8 533,396 535.1,397.6 536.1,400 537.5,402.1 540.4,402.1 542,404.1 543.7,405.6 544.7,407.7 544.7,410.1 544,411.9 544,414 M544,414 544.6,416.5 544.3,418.8 542.9,421 544,423.3 545.5,425.5 546.3,427.9 546.1,430 546.2,432.1 546.6,434.1 545.8,435.9 545.6,438.3 544.4,440.2 545.9,441 548.1,440.8 549.9,442 552.1,441.5 552.4,444.3 554.3,445.8 554.6,448.2 556.3,449.7 558.5,450 560.8,450 561.8,452.4 563.7,453.6 564.7,455.9 567.2,456.8 569.5,457.1 571.3,459.2 573.8,459 576.1,459.6 578.1,460.5 579.9,461.7 582.4,461.2 584,463 586.1,464.6 588,466.4 590.3,467.7 591.4,469.7 592.9,471.2 594.7,472.3 597.3,473.7 599,476 M544,414 545.8,412.1 548.4,411.1 549.7,408.6 552.5,408.4 554.6,407.2 556,405 557.7,403.7 559.4,402.4 561,401 561.1,398.8 563.9,398.2 563.7,395.8 564,393.8 564.5,391.7 565.7,389.9 567.3,391.6 569.9,391.1 571.2,392.6 573.3,394.4 576.1,394.7 577.2,392.2 580.1,391.1 582.1,390.2 584,389 586.1,388.2 588,387.1 590,388.8 592,388.2 593.1,386.1 594.9,385.3 597,385 598.5,383 599.8,380.8 602.1,380.5 604,381.5 606.1,381.6 607.8,381.2 609.8,380.7 610.8,378.7 612.1,377.4 613.5,376 613.7,373.8 616.4,373.1 618.3,371.4 619.3,368.8 621,367 M562.1,251.9 563.5,254.1 566,255 565.7,257.5 564.5,259.9 562.9,260.8 561.9,263 560.2,264.2 558.6,265.6 556.8,266.8 554.7,267.6 552.9,268.8 551.1,269.9 549.8,271.7 548.6,274.1 549.7,276.9 548,279 546.7,280.9 546.5,282.9 547.8,285.1 547.1,287 545.7,288.9 545.3,291.1 544,293 544.3,295.3 542.8,297 542,299 543.7,300.7 544.1,302.7 543.5,305.2 542.7,306.8 541.7,308.7 541.9,311 541.6,313.1 541.8,315.1 542.6,317.1 545.4,317.9 546.1,320.6 548.2,321.8 550.4,322.9 553.1,322.7 554.7,322.1 556.8,321.8 558.1,320.1 560.1,319.8 562,320.7 564,320.9 565.4,323.3 568.1,323.8 569,321.8 570.9,320.2 571.6,317.8 573.2,316.6 574.4,315.3 575,317.3 576.5,319.5 577,322 578.2,324 580.2,325.6 581.5,327.5 582.4,329.8 584,330.6 585.6,331.8 587.5,332.6 589.1,333.7 591.2,332.7 593.7,333.4 596.1,333.4 596.4,335.1 597.2,337.1 597.8,339.1 599.3,340.8 598.9,343.2 600,345 601.9,346.4 603.9,347.9 606,349 607.7,350.4 609.1,352 610.3,353.8 611.6,356 613.5,357.8 614.9,360.1 617,362.1 617.2,364.9 618.6,366.7 621,367 M621,367 623.5,368.1 626,369 628.2,369.2 629.6,371.4 632.1,370.8 634.5,370.9 636.5,368.9 638.9,368.5 641.5,369.5 643.6,368.2 645.9,367.5 648.1,368.8 650.1,369.9 651.9,371.2 654.3,370.8 656.2,371.7 657.8,373.5 659.6,375.4 662.3,376.7 663.9,378.4 665.6,380.1 666.9,382.1 668.5,383.9 669.8,385.9 671.7,387.3 673.5,388.5 675.1,390 M239,282 241,281.5 242.6,280.5 244,279 246.6,278.6 248.9,277.4 251.2,276.4 253.1,274.5 255.9,275.5 257.8,273.5 260.3,273.5 262.1,272.2 264,271 266,272.1 268,271.2 270,270.9 271.3,272.8 272.8,274.3 274.9,275.1 276.8,276.1 278.4,277.6 280,279 281.4,280.9 283.8,281.6 285.4,283.3 287,285 286.6,287.4 286.1,289.8 284.7,291.9 283.3,293.6 283,296 282.1,298 279.3,298.7 276.7,298.5 274,298.4 271.9,298.8 269.9,299.8 268.2,301.4 265.3,301.1 263.5,303.4 260.8,303.6 258.7,304.3 256.5,305.1 255.2,307.3 252.9,306.5 251.3,304.8 248.8,305.5 247.6,303.2 248.5,301 248,299 247.5,296.5 245.9,294.7 244,293 244.4,290.6 242.7,289 242,287 241.4,285.1 239.8,283.8 239,282" fill="none" stroke="#000" stroke-width="1.4" stroke-linejoin="round" stroke-linecap="round"/>
<path d="M42,265 42.4,262.9 42.7,260.7 44.6,259.1 44.5,256.8 45.7,254.7 46,252.2 46.5,249.9 48.3,248.3 48.8,246 50.9,245 51.9,242.4 53.6,240.4 55.9,238.9 58,237.4 57.9,234.5 59.7,232.8 62.1,232.7 64.3,232.8 66.1,231.4 67.9,230.4 70.2,230.5 71.9,228.7 74.1,230.3 75.9,228.8 77.9,228.6 79.9,227.8 81.9,227.9 84.1,228.4 85.6,226.3 88.1,226 90.2,225 91.9,223.3 94,222.5 96.8,222.8 99.1,223.9 101.2,225.7 102.5,227.4 104.6,227.9 106.5,228.6 108,230.1 109.9,228.6 111.7,227 114.2,226.3 115.1,223.8 114.8,221.2 116.1,219 116,216 118.2,216.3 120.1,215.5 121.9,214 124.1,214.5 126.1,212.5 128.6,212.5 131.1,212.3 132.2,210 134.3,209.3 135.7,207.6 137,206.1 137.9,204.2 138.1,202 140.5,202.5 142.6,200.9 145,201.2 146.6,199.5 147.9,197.9 149.1,196.1 151.2,195.1 152.4,193.3 153.4,194.6 154.4,196.6 156.4,197.7 158.1,198.1 160.1,197.7 162.1,197.6 163.9,195.4 164.1,192.7 165.5,190.9 167.2,189.1 167,186.5 168.9,185 169.7,182.8 172.1,181.6 174.3,181 176.9,182.1 178.9,180.6 181.2,180.4 183.4,180.7 185.6,181.9 187.8,180 190,180.9 192,180.9 194.1,181.4 196.1,181 198.1,180.4 199.8,178.8 201.9,178.5 203.9,177.8 205.5,175.9 206.3,173.6 205.6,170.9 207.7,169.6 209.8,168.9 211.8,168.2 214,168 216,168 217.9,167 219.9,166.1 222,166.9 223.8,165.5 226.1,164.6 228.6,164.1 230.1,162.2 232,161.5 234.1,161.3 236.1,160.9 237.9,159.5 240.1,158.5 241.2,156.4 242.4,154.2 244.1,154.3 246,153.1 248,152.9 250.1,151.5 252.8,152 254.9,150.5 255.1,148.6 256.7,146.9 254.9,146.7 253.3,145.3 251.2,144.9 249.7,143.5 247.8,141.9 246,140.3 244.9,138.1 244.3,135.5 246.5,133.5 246.1,131 247.9,129.9 249.9,129.8 252,129.8 254.1,130.5 256.3,130.7 257.7,133 259.8,133.5 262.3,132.3 264.7,131.6 266.9,130.5 269.6,132.4 271.1,134.9 273.2,135.5 274.7,137.7 277.2,137.7 278.7,139.7 277.3,142.3 279,144 281,145.5 281.6,148.1 283.5,149.7 281.9,152 280,153.5 279.6,155.8 280.2,158.1 281.9,159.8 282.1,162 284.3,162 285.8,164.1 288,164.3 289.9,165.3 292.1,164.9 294.1,165 295.9,166.4 298,164.8 298.7,162.9 299.6,161.1 300.3,159.2 302.1,159.3 303.9,157.9 306,158.3 308,157.8 310.2,156.6 312.5,156.3 315,156.7 315.5,154.8 317.4,153.2 318.5,151.2 317.9,148.3 319,145.7 318.6,143 318,140.1 315.9,138.1 317.7,136.4 319.7,135.4 321.8,134.7 324.2,134.8 325.9,136.3 327.8,137.4 329.9,137.4 332,136 334.1,135.2 336.1,136.6 339,136.1 340.9,138.2 342.1,140.1 343.9,141.2 345.8,142.2 346.3,144 347.2,145.9 346.1,148.1 347.2,150 347.4,152.6 348,155.1 350.1,157 351.5,158.9 351.8,161.6 353.8,163.1 355.7,165 356.8,167.3 357.4,169.8 359.7,170.4 362.1,169.3 364.3,168.9 365.8,171 367.8,171.5 369.9,172 372.1,172 374,173.1 376.3,173 378.4,173.5 379.6,176.3 381.9,176.2 384.2,177.1 386.1,178.9 388.8,178.9 390.8,180.4 393.4,180.2 395.4,178.4 397.6,177.9 399.9,177.8 401.8,179.3 402.5,181.5 404.2,182.8 404.8,185.3 406.1,187.4 405.5,190.1 407.9,188.9 410,188.4 412.1,187.9 414.2,187.4 415.5,188.6 415.9,190.9 418,192 418.6,194.4 419.3,196.7 420.5,198.8 422.6,199.9 425.1,200.7 425,198.7 427.6,197.8 427.3,195.4 429,194 431.4,194.2 433.7,193.5 436,192.8 438,193.4 440,193.8 441.9,194.3 442.2,192 444.1,191 446.7,190.4 449.3,190.5 452,191.3 454.5,192 457,193.1 458.2,195.4 459.6,197.6 462.1,199 462.8,200.8 464,202.3 465,204 463.3,205.8 462.4,208.1 461,210 459.5,212 457.6,213.7 455.8,214.6 453.6,215.2 451.8,216.5 450.3,218.8 447.9,219.6 445.7,220.6 444.1,222.3 444.2,225 443,226.8 441.1,228 442.8,229.2 443.5,231 444.4,232.7 445.8,234.7 447.6,236.2 449.7,237.4 452.4,236.5 454.6,238.2 457,238.2 459,239.5 458.9,242.5 460.6,244.3 463.1,245.2 463.6,248.1 466.1,248.9 467.5,250.5 468.2,252.8 470,254 472.3,254.7 473.6,256.6 475,258.5 476.8,260 478.3,261.8 478.9,263.9 478.5,266.1 480.6,267.7 479.9,270 481.8,271.6 484.1,272.5 485.1,274.9 486.6,276.2 488.5,277 490.7,277.1 491.7,279.5 494,278 495.8,276.8 495.9,273.9 497.8,272.8 498.9,270.3 501.8,269.4 502.8,266.8 504.3,265.3 506.4,264.8 508.7,264.8 510.2,263.3 511.8,261.5 513.6,260.3 516.4,260.9 518,259.1 520.1,259.1 521.8,257.4 523.9,257.5 525.4,255.7 525.9,253 523.6,252 523.4,249 521.1,247.9 520.2,245.6 517.5,244.5 517.3,241.8 515.1,240.7 515.7,238.1 513.9,236.8 512.8,235.1 512.1,233.3 511.8,231.2 509.8,230.1 510.3,227.9 512.1,226.7 512.7,224.8 515.5,224.9 517.7,225.8 520.1,226.3 522.1,227.7 524.2,228.4 526.2,229.2 527.8,231 530.2,230.8 532,232 534.4,231.9 536.5,232.9 538.9,232.7 541,233.8 543.1,234.5 544.3,237 546.3,238.4 548.3,239.7 550.4,240.9 552.3,242.9 555.2,242.6 555.8,245.1 557.8,246.2 559,248 559.9,250.5 562.1,251.9 564,251.8 566.1,251.9 568.1,252.4 570,250.8 572.6,251.5 575,251 577.5,250.6 580,249.9 582,249.4 583.9,248.5 585.9,248.4 587.9,248.5 589.9,247.6 590.6,245.1 591.9,243.2 593.6,241.7 595.3,243.7 596.9,244.7 598.9,245.2 599.8,247.3 600.3,249.6 600.2,252 600.4,254 601.4,255.9 601.1,258 599.3,260.1 596.3,260.5 594.7,262.6 592.9,264.2 591.3,266 588.4,265.8 587.1,268.2 588.3,269.5 590,270.7 590.1,272.9 592,273.9 594,275 596.2,275.7 597.3,277.7 599.6,278.6 600.2,280.8 602.1,282.1 602.8,284.2 604.4,285.7 606.2,287 607,289.1 608.2,290.8 609.9,292.5 612,293.7 613.8,295.2 616,295.1 618.1,295 620.1,295.1 622,293.9 623.8,292.6 626.5,293 627.8,290.6 629.2,288.8 629.7,286.4 629.5,283.9 632.5,284.8 635,284.5 635.7,286.6 636.8,289.1 638.6,290.9 641.5,291 643,293 645.3,293.3 647.6,294.4 650,294.3 651.6,296 653.9,296.8 655.7,298.4 657.8,299.4 659.8,300.4 662.1,300.7 663.9,299.7 665.9,299.7 668,299.9 669.9,299.5 671.8,301.2 674,301.1 675.9,301.8 678,302.1 680.2,303.1 682.7,303.3 685.2,303.5 686.8,305.2 688.9,305.3 689.3,307.3 689.6,309.7 689.8,312 691.5,313.8 690.5,316.1 692.1,317.9 692.5,319.9 693.3,321.8 693,324.2 694.9,325.8 694.7,328.1 695,330.8 697,332.7 698.1,334.9 700,335.7 701.9,336.9 703.8,337.8 706,338.1 708.2,339 710.9,338.4 713.1,339.6 714.5,342.1 714.5,344.9 716.2,346.9 716.3,349 718.1,350.7 718.5,352.8 718.3,354.9 718.3,357.1 718.9,359.1 719.8,361.1 718.3,363.3 716,365 714,366.1 712,367.1 710.2,368.4 707.9,367.4 706.1,369.2 703.9,367.7 701.9,368.5 699.3,370.1 696.7,369.1 694,368.6 691.7,369.5 690.7,371.8 689.2,373.2 688.2,375.4 685.5,376.4 685.3,379.2 683.5,380.5 683,382.8 681,384 678.7,384.5 678.2,387.3 675.8,387.7 675,390.3 673.2,392.3 672.8,394.9 671.6,396.5 669,396.2 667.8,398 666.3,399.5 664.4,400.8 662,400.5 660,401.4 658.1,402.2 656.5,404.3 654.2,405.6 652.1,407.2 650.6,409.1 651.8,412 649.7,413.9 648.7,415.8 649.8,418.2 647.5,419.8 647.8,421.9 646.8,423.9 648,426.1 647.5,428 647.1,430 645.4,431.7 645.8,434 645.8,436.1 645.1,438 644.5,440.2 643.9,442.5 642.4,444.2 639.7,444 638.2,446 635.6,445.3 634.1,447.3 632.2,448.2 630,448.3 628.1,449.3 627.3,451.1 625.1,452.5 624.6,454.8 624,457.2 624,459.6 623.5,461.9 621.5,462.1 619.9,463.9 617.9,464.8 616.2,466.4 613.9,465.1 612,466.1 609.9,467.3 608.4,469.1 607.2,471.2 605.8,472.9 603,472.1 602.2,474.7 600,475 598.2,476.6 596.3,478.1 593.8,478.8 591.5,479 590.2,481.5 587.9,481.8 586.1,483.1 584,483.2 582,484.1 579.5,484.1 577.1,483.4 574.9,482.3 572.2,482.1 570,484 567.9,484.3 566.2,482.4 564.1,482.4 561.9,481.4 559.5,480.3 557.8,478.3 555.9,478.7 554,477.9 551.9,478.2 550,477.3 548.2,478.5 545.9,478.9 543.8,479.6 541.6,481.2 540.1,483.5 538.1,485.1 536.6,486.6 535.6,488.5 534.1,490.1 533.9,492.9 532.2,495.1 530.2,496.9 531.3,499.8 529.7,501.7 528.9,504 527.5,505.7 528.1,508.2 527.2,510.2 526.3,512.1 525.7,514.5 525.1,517 524.9,514.8 523.7,513.3 522.4,511.8 520.6,509.8 520.3,507.5 521.2,505 519.6,502.6 517,501.7 515.1,499.9 512.3,501.1 509.7,500.2 507,499.5 504.8,498.9 502.4,498.5 500.1,498.5 498,498.1 496.1,497 494.8,495.3 493.3,494 491.7,492.6 490.3,491.1 488.1,490.8 486.2,489.7 484.3,488.5 482,488.1 480,486.9 478.3,488.7 475.8,487.7 474.1,489.3 472.1,490.6 471.7,492.9 471.4,495.2 470.4,497.2 468.2,498.3 465.9,498.3 463.8,499 462.3,501 460.2,501.5 457.8,500.8 455.7,500.5 453.5,500.8 451.3,501 449.2,499.9 447,500.6 444.8,500.3 442.6,499.7 440.5,498.3 438.2,498.9 436,498.6 434,498.1 431.7,497.5 429.7,496.5 428.2,494.5 426.3,493 423.7,492 421.6,490.4 420,488.3 418.3,486.4 415.9,485.1 413.7,484.1 412.2,482 410.3,480.6 407.8,480.9 405.7,480.7 403.9,479.2 402.1,479.8 399.9,479.9 398.1,481.3 395.3,480.3 392.7,480.5 390,481 387.7,480.6 386.5,478 383.9,478.2 382.3,476.3 379.7,476.6 377.9,475.3 376.3,473.5 373.8,473.4 372.2,471.5 370.3,471 368.3,470.6 366.8,469.3 365.2,468.2 363.7,466.7 362.3,465.1 359.8,465.4 357.9,464.2 355.7,463.6 354.2,461.5 351.6,462.5 349.2,462.4 346.9,461.5 345.2,463.2 342.7,464.7 340.4,464.8 338.2,465.8 335.8,466.4 335.9,464.1 333.8,462.1 331.4,461.7 329.7,459.1 327.1,458.7 324.9,459.8 323,458.1 321,458.5 319,458.1 318.3,460.2 317.3,462.2 317.6,464.7 316.2,467 316.3,469.5 315,472 316.9,474.5 315.5,477 316.7,479.5 316.3,482 315.3,484.5 315.6,487 315.9,489 316.5,491.1 315.3,493 315.1,495 312.7,493.6 309.9,494.3 308,494.3 306,493.1 304,494.5 302.4,495.2 300.3,495.4 298.8,496.7 298,499.2 296.3,500.5 294.3,501.4 291.9,502.1 291.8,504.7 289.8,505.8 288.6,507.8 289.4,510.1 289,512.1 287.5,513.9 287.4,516.3 287.9,518.7 286.8,521 284.7,522.4 282.1,523.2 279.6,523.3 278.2,520.9 276.3,519.9 274.1,519.9 272.3,518.4 269.7,519.7 267.9,518.3 266.3,517 265.2,515.1 263.3,514.6 260.6,515.8 258.1,516.3 257.1,518.1 256,520 254.6,521.8 254.6,524 252.4,525 251.8,526.9 249.8,527 247.8,527.7 246,528.9 243.8,528.4 241.8,527.4 239.9,526.3 238.1,524.7 235.5,525.4 233.3,524.7 231.4,522.9 228.9,523.3 226.4,523.2 224.2,522.5 222.3,520.6 219.9,520.2 220,517.2 218.8,515 217.5,512.8 215.5,510.9 214.1,508.7 213.6,506.2 212,504.7 210.3,502.9 208,502.1 205.6,500.8 203.9,498.8 202.1,496.9 199.8,495.9 197.5,495.1 195.1,494.6 193.3,492.7 190.7,491.3 190.7,488.9 188.6,487.7 188.1,485.7 186.9,484.1 186.5,482 184.4,480.8 183.5,479 182.7,477.1 180.6,476.7 179.4,474.2 177,473.9 175.3,472.2 174.1,470.1 173.5,467.7 171.3,466.3 169.2,465.1 168.3,462.7 166.1,462.2 164.1,461.5 162.4,463.8 160,464 158.8,462.1 157.2,460.7 155.3,459.6 152.7,458.6 151.6,456.3 149.8,454.5 148.7,452.2 148.4,449.7 146.3,448.7 145.5,446.5 143.2,445.8 142.3,443.7 139.9,443.1 137.8,442.5 136.3,440.4 134.5,439.1 131.8,439.4 130.8,437.3 129.4,435.6 127.3,434.6 126.2,432.8 124.7,431.3 123.2,429.1 122,426.8 121.4,424.1 120.2,421.9 118,420.7 116.1,419.2 115.2,417 114.2,414.9 112.3,412.8 111.8,410.1 110.1,408.4 109.9,405.6 108,404 105.6,403.9 103.6,402.8 101.9,401.1 100,400.6 98,400.2 95.9,401.2 94,400.4 91.8,399.1 89.5,399.2 87.1,399 85,398.2 84.5,395.4 82,394.2 81.1,392 79.4,390.2 78.2,388.1 77.3,385.8 76.2,383.3 73.4,382.2 71.7,380.2 72.2,377.6 70.7,375.4 70.4,373.1 71.1,370.7 69.3,369.1 69.4,366.7 67.9,365 67.8,362.6 65.9,361 64.7,359.2 63,357.1 63.1,354.3 62.1,351.9 61.9,349.3 59.1,347.7 59.1,344.9 57.4,343.2 56.3,341 54.7,339.2 53.1,337.6 52,335.5 51.2,333.1 48.7,332.3 50.7,330.3 52.8,329.2 54.4,327.4 54.4,324.7 55.2,322.6 57.5,321.2 59,319.5 59,317 59.5,314.8 61.9,313.4 61.8,310.9 63.4,309.2 64.1,307.1 62.5,304.8 59.5,304.3 58.2,301.7 56.9,299.6 56.9,297 56.3,294.6 55,292.6 52.7,291.2 50.9,290.3 49.4,288.7 47.8,287.2 45.9,286.1 43.5,285.4 41.7,283.8 40.1,281.8 39,279.7 35.9,279.4 35.1,276.9 34.5,274.7 32,273.5 32.3,270.8 30.2,269.4 30.2,266.9 29.1,265 29.3,262.5 28.8,260 27.5,258.1 26.5,255.9 24.9,254 23.5,252.7 21.6,252.1 20,251.1 20.6,248.3 23.1,247.1 22.3,245 21.1,243.2 21.3,240.9 23.7,241.6 26.3,240.9 29,240.6 29.4,243 30.6,244.9 30.4,246.9 31.1,248.6 32.8,249.9 33.1,252 34.7,253 36.9,253.1 37.9,255.1 39.4,256.8 38.5,259.1 38.9,261.2 40,263Z" fill="none" stroke="#000" stroke-width="2.8" stroke-linejoin="round"/>
<path d="M558.4,123.7 549.7,120 546.5,121.8 538.8,123.4 534.7,128.8 533.1,133.6 528.9,125.9 526.3,125.9 527,127.8 526,129.1 528.9,132 530.8,137.4 536.6,141.9 539.8,147.7 551,146.7 559.3,141.9 562.8,142.9 565.4,139.4 563.5,136.8 564.8,135.5 563.2,126.9Z" fill="#b9ffe6" stroke="#b9ffe6" stroke-width="0.5"/>
<path d="M609.9,100.6 609.3,98.7 610.2,96.8 608.3,93 605.1,90.7 598.4,90.7 598.1,93 601.9,95.8 601.3,97.1 597.1,98.1 595.8,100 590.7,102.2 585.6,103.5 584.9,105.8 574.1,107.4 571.5,111.8 569.6,112.2 568.3,110.6 566,113.1 563.8,113.4 561.6,116.6 556.8,117.9 556.1,121.1 554.2,122.4 558.4,123.7 563.2,126.9 564.8,135.5 563.5,136.8 565.4,139.4 568.3,140 573.4,134.6 577.9,132 583,131 587.2,128.8 588.1,127.2 599,126.2 600.3,125.3 601,122.7 604.2,118.9 600.6,109 603.5,102.9Z" fill="#e8fff2" stroke="#e8fff2" stroke-width="0.5"/>
<path d="M639.4,104.2 633.9,103.2 630.4,94.2 628.8,93 622.7,92 620.8,93 621.5,97.1 620.5,99 615.7,99.7 614.4,101.9 609.9,100.6 603.5,102.9 600.6,109 601,111.2 604.2,118.9 610.6,118.9 618.6,113.1 622.4,114.4 625.9,117.6 630.1,118.6 633.3,117.9 634.6,119.2 637.2,117.3 642,117Z" fill="#7dfde0" stroke="#7dfde0" stroke-width="0.5"/>
<path d="M673.3,135.2 672.7,132.6 666,125 663.7,124.6 660.9,121.8 662.5,119.5 666.3,117.3 668.5,114.1 666,110.6 664.4,109.9 657,110.9 655.7,113.1 654.1,112.5 652.2,108.6 649.6,109.6 647.7,105.8 644.8,106.4 639.4,104.2 642,117 637.2,117.3 634.6,119.2 633.3,117.9 630.1,118.6 625.9,117.6 625.3,125 629.8,129.4 632.3,129.4 633.9,133.3 633.6,135.5 635.5,138.1 640,137.1 644.5,137.8 646.4,136.2 648.4,136.8 652.2,135.8 658.6,140.3 662.5,141.6 664.7,141.3 670.8,135.5 672.4,136.2Z" fill="#7dfde0" stroke="#7dfde0" stroke-width="0.5"/>
<path d="M683,133 677.2,138.1 673.3,135.2 672.4,136.2 670.8,135.5 664.7,141.3 660.5,141.3 652.2,135.8 648.4,136.8 646.4,136.2 644.5,137.8 640,137.1 635.5,138.1 634.3,141.6 638.1,145.8 638.1,151.8 645.2,155 650.9,159.8 654.4,157.9 663.1,161.8 667.9,165.9 669.2,164.6 673,164 673.3,163 681,164.6 682.6,159.8 679.8,153.1 678.5,144.2 681.4,140.6Z" fill="#7dfde0" stroke="#7dfde0" stroke-width="0.5"/>
<path d="M700.9,130.4 697.4,126.6 693.5,124 683.9,120.8 683,122.4 688.1,129.8 687.4,131.4 683,133 681.4,140.6 678.5,144.2 679.8,153.1 682.6,159.8 681.4,165.3 679.8,165.9 682,168.2 682.3,174.2 683.9,174.6 685.2,173.3 683.9,170.1 686.8,170.1 691.3,176.8 693.2,178.1 693.8,181.3 699.3,177.1 700.9,173.6 704.1,175.2 707.3,173 709.2,173 711.8,170.7 713.7,171 715.3,170.1 718.5,166.2 711.8,159.2 710.5,155.4 708.3,155.7 706,154.4 703.5,149.6 701.5,152.5 698.3,151.2 695.1,151.8 693.5,150.2 693.2,144.5 695.8,135.8 700.6,132Z" fill="#b9ffe6" stroke="#b9ffe6" stroke-width="0.5"/>
<path d="M735.8,173.6 741.9,166.9 747,166.6 750.2,164.3 748,157.6 743.2,156 740.3,146.4 734.2,144.8 731.6,145.1 725.6,142.6 723,139.7 721.4,139.7 720.7,141.9 716.3,143.2 707.6,134.6 712.1,131.4 711.5,127.2 709.9,126.2 707.9,128.5 699.6,129.4 700.9,130.4 700.6,132 695.8,135.8 693.2,144.5 693.5,150.2 695.1,151.8 698.3,151.2 701.5,152.5 703.5,149.6 706,154.4 708.3,155.7 710.5,155.4 711.8,159.2 717.2,165.6 722,167.5 726.5,166.6 730.4,168.2Z" fill="#e8fff2" stroke="#e8fff2" stroke-width="0.5"/>
<path d="M711.4,201 715.6,197.9 719.5,196.6 720.7,192.5 725.2,190.9 728.4,179 735.2,175.2 735.8,173.6 730.4,168.2 726.5,166.6 722,167.5 718.5,166.2 715.3,170.1 713.7,171 711.8,170.7 709.2,173 707.3,173 704.1,175.2 700.9,173.6 699.3,177.1 693.8,181.3 693.5,183.5 694.8,187.7 693.8,189.6 696.4,190.2 697.4,192.2 701.2,195 706.7,197Z" fill="#7dfde0" stroke="#7dfde0" stroke-width="0.5"/>
<path d="M640.7,200.8 644.5,202.7 650.9,202.7 659.3,208.5 666.9,209.1 670.1,207.8 671.4,205.3 673.3,204.6 679.8,208.5 684.6,208.8 686.5,210.4 687.8,214.2 690.6,205.6 693.8,202.4 695.8,201.4 698.3,201.8 700.2,203.4 706,203.7 711.4,201 706.7,197 701.2,195 697.4,192.2 696.4,190.2 693.8,189.6 694.8,187.7 693.2,178.1 691.3,176.8 686.8,170.1 685.2,169.4 683.9,170.1 685.2,173.3 683.9,174.6 682.3,174.2 682,168.2 679.8,165.9 681.4,165.3 681.7,163.7 681,164.6 675.6,163 669.2,164.6 667.9,165.9 666.3,171.4 663.4,172.6 662.8,174.6 664.1,179.7 662.8,187.4 663.4,189.9 662.5,191.2 658,193.4 654.1,192.8 642.6,198.2 640.7,197.9Z" fill="#02e3a6" stroke="#02e3a6" stroke-width="0.5"/>
<path d="M571.7,196.8 573.4,197 578.2,201.4 582.1,207.2 588.1,210.7 590.1,215.2 598.4,218.1 600.3,217.4 602.2,213.9 603.8,213.6 609.9,216.2 611.5,215.5 612.5,210.7 613.8,209.1 617,206.9 620.5,207.2 620.8,198.2 621.8,195.4 626.6,196.6 627.2,198.2 630.7,196.3 633,196.6 640.7,200.8 640.7,197.9 638.4,196 641.3,191.2 639.4,189 634.9,188.3 633,184.8 628.5,184.2 619.9,179.4 617.9,174.9 618.9,167.2 613.1,164.6 609,169.4 607.4,167.8 601.6,167.2 600.3,168.2 597.1,166.6 591,168.2 589.4,166.9 585.3,169.1 582.4,168.5 580.1,169.4 580.5,176.2 577.9,185.1 574.7,187.7Z" fill="#02e3a6" stroke="#02e3a6" stroke-width="0.5"/>
<path d="M539.8,147.7 535.3,155 538.5,159.2 542.7,170.4 546.8,176.2 554.2,178.1 561.9,189.3 565.1,190.9 570.8,197.3 571.7,196.8 574.7,187.7 577.9,185.1 580.5,176.2 579.5,164.6 577.6,160.5 581.4,156 582.1,153.8 582.4,148.6 581.4,146.7 565.4,139.4 562.8,142.9 559.3,141.9 551,146.7Z" fill="#02e3a6" stroke="#02e3a6" stroke-width="0.5"/>
<path d="M568.3,140 569.2,141.6 581.4,146.7 582.4,148.6 581.4,156 577.6,160.5 579.5,164.6 580.1,169.4 582.4,168.5 585.3,169.1 589.4,166.9 591,168.2 597.1,166.6 600.3,168.2 601.6,167.2 607.4,167.8 609,169.4 613.1,164.6 618.9,167.2 622.4,165 628.8,164 629.8,162.7 627.9,159.8 628.8,157.6 638.1,151.8 638.8,147.7 634.3,141.6 635.5,138.1 633.6,135.5 633.3,131 632.3,129.4 629.8,129.4 625.3,125 625.9,117.6 622.4,114.4 618.6,113.1 610.6,118.9 604.2,118.9 599,126.2 588.1,127.2 587.2,128.8 583,131 576,133 569.6,137.8Z" fill="#0a8f82" stroke="#0a8f82" stroke-width="0.5"/>
<path d="M667.9,165.9 663.1,161.8 654.4,157.9 650.9,159.8 645.2,155 638.1,151.8 628.8,157.6 627.9,159.8 629.8,162.7 628.8,164 622.4,165 618.9,167.2 617.9,174.9 619.9,179.4 628.5,184.2 633,184.8 634.9,188.3 640.7,189.6 641.3,191.2 638.4,196 642.6,198.2 652.2,193.4 658,193.4 662.5,191.2 663.4,189.9 662.8,187.4 664.1,179.7 662.8,174.6 663.4,172.6 664.7,172.6 667.3,169.8Z" fill="#7dfde0" stroke="#7dfde0" stroke-width="0.5"/>
<path d="M596.2,139 599.4,146.4 601.3,147 607.4,144.2 609.9,144.2 611.5,140 606.1,135.5 604.2,135.5Z" fill="#0a8f82" stroke="#0a8f82" stroke-width="0.5"/>
<path d="M554.2,122.4 558.4,123.7 563.2,126.9 564.8,135.5 563.5,136.8 565.4,139.4 M565.4,139.4 562.8,142.9 559.3,141.9 551,146.7 539.8,147.7 M565.4,139.4 568.3,140 M568.3,140 569.2,141.6 581.4,146.7 582.4,148.6 581.4,156 577.6,160.5 579.5,164.6 580.5,176.2 577.9,185.1 574.7,187.7 571.7,196.8 M568.3,140 573.4,134.6 577.9,132 583,131 587.2,128.8 588.1,127.2 599,126.2 604.2,118.9 M604.2,118.9 600.6,109 603.5,102.9 609.9,100.6 M604.2,118.9 610.6,118.9 618.6,113.1 622.4,114.4 627.9,118.2 633.3,117.9 634.6,119.2 637.2,117.3 642,117 M639.4,104.2 642,117 M625.9,117.6 625.3,125 629.8,129.4 632.3,129.4 633.9,133.3 633.6,135.5 635.5,138.1 M635.5,138.1 634.3,141.6 638.1,145.8 638.1,151.8 M635.5,138.1 640,137.1 644.5,137.8 646.4,136.2 648.4,136.8 652.2,135.8 658.6,140.3 662.5,141.6 664.7,141.3 670.8,135.5 672.4,136.2 673.3,135.2 M638.1,151.8 645.2,155 650.9,159.8 654.4,157.9 663.1,161.8 667.9,165.9 M638.1,151.8 628.8,157.6 627.9,159.8 629.8,162.7 628.8,164 622.4,165 618.9,167.2 M580.1,169.4 582.4,168.5 585.3,169.1 589.4,166.9 591,168.2 597.1,166.6 600.3,168.2 601.6,167.2 607.4,167.8 609,169.4 613.1,164.6 618.9,167.2 M618.9,167.2 617.9,174.9 619.9,179.4 628.5,184.2 633,184.8 634.9,188.3 640.7,189.6 641.3,191.2 638.4,196 640.7,197.9 M640.7,197.9 640.7,200.8 M640.7,197.9 642.6,198.2 654.1,192.8 658,193.4 662.5,191.2 663.4,189.9 662.8,187.4 664.1,179.7 662.8,174.6 663.4,172.6 664.7,172.6 667.3,169.8 667.9,165.9 M667.9,165.9 669.2,164.6 673,164 673.3,163 681,164.6 681.7,163.7 M683,133 681.4,140.6 678.5,144.2 679.8,153.1 682.3,157.6 681.7,163.7 M681.7,163.7 681.4,165.3 679.8,165.9 682,168.2 682.3,174.2 683.9,174.6 685.2,173.3 683.9,170.1 686.8,170.1 691.3,176.8 693.2,178.1 693.8,181.3 M693.8,181.3 693.5,183.5 694.8,187.7 693.8,189.6 696.4,190.2 697.4,192.2 701.2,195 706.7,197 711.4,201 M693.8,181.3 699.3,177.1 700.9,173.6 704.1,175.2 707.3,173 709.2,173 711.8,170.7 713.7,171 715.3,170.1 718.5,166.2 M699.6,129.4 700.9,130.4 700.6,132 695.8,135.8 693.2,144.5 693.5,150.2 695.1,151.8 698.3,151.2 701.5,152.5 703.5,149.6 706,154.4 708.3,155.7 710.5,155.4 711.8,159.2 718.5,166.2 M718.5,166.2 722,167.5 726.5,166.6 730.4,168.2 735.8,173.6 M596.2,139 604.2,135.5 606.1,135.5 611.5,140 609.9,144.2 607.4,144.2 601.3,147 599.4,146.4 596.2,139" fill="none" stroke="#000" stroke-width="0.8" stroke-linejoin="round"/>
<path d="M533.1,133.6 534.7,128.8 538.8,123.4 546.5,121.8 549.7,120 554.2,122.4 556.1,121.1 556.8,117.9 561.6,116.6 563.2,115.4 563.8,113.4 566,113.1 568.3,110.6 569.6,112.2 571.5,111.8 574.1,107.4 584.9,105.8 585.6,103.5 590.7,102.2 593.3,100.6 595.8,100 597.1,98.1 601.3,97.1 601.9,95.8 598.1,93 598.4,90.7 600.3,90.4 602.9,91.4 605.1,90.7 608.3,93 610.2,96.8 609.3,98.7 609.9,100.6 614.4,101.9 615.7,99.7 620.5,99 621.5,97.1 621.5,94.6 620.8,93 622.7,92 625.3,92.6 626.6,92 630.4,94.2 630.7,96.8 633.9,103.2 635.5,102.9 644.8,106.4 647.7,105.8 649,107.4 649.6,109.6 652.2,108.6 653.5,110.2 654.1,112.5 655.7,113.1 657,110.9 661.2,110.9 661.8,109.9 664.4,109.9 666,110.6 668.5,114.1 666.3,117.3 662.5,119.5 660.9,121.8 661.8,123.4 663.7,124.6 666,125 672.7,132.6 673.3,135.2 674.9,136.8 677.2,138.1 680.7,134.2 685.5,131.7 687.4,131.4 688.1,129.8 686.5,128.2 683,122.4 683.9,120.8 693.5,124 695.1,125.6 697.4,126.6 699.6,129.4 707.9,128.5 709.9,126.2 711.5,127.2 712.1,131.4 707.6,134.6 708.6,136.2 710.5,137.1 714.3,141.9 716.3,143.2 718.8,142.9 720.7,141.9 721.4,139.7 723,139.7 723.6,141.3 725.6,142.6 727.8,142.9 731.6,145.1 734.2,144.8 740.3,146.4 741.2,151.2 743.2,156 748,157.6 750.2,164.3 747,166.6 741.9,166.9 736.1,173 735.2,175.2 730.4,177.4 728.4,179 726.2,189 725.2,190.9 720.7,192.5 719.5,196.6 715.6,197.9 709.9,202.1 706,203.7 703.8,203 702.2,203.7 700.2,203.4 698.3,201.8 695.8,201.4 693.8,202.4 690.6,205.6 687.8,214.2 686.8,212.6 686.5,210.4 684.6,208.8 679.8,208.5 673.3,204.6 671.4,205.3 670.1,207.8 666.9,209.1 659.3,208.5 656.7,207.2 650.9,202.7 649,202.1 644.5,202.7 633,196.6 630.7,196.3 629.5,197.6 627.2,198.2 626.6,196.6 621.8,195.4 620.8,198.2 620.5,207.2 617,206.9 613.8,209.1 612.5,210.7 611.5,215.5 609.9,216.2 603.8,213.6 602.2,213.9 600.3,217.4 598.4,218.1 590.1,215.2 588.1,210.7 584.3,207.8 582.1,207.2 578.2,201.4 576.3,200.5 573.4,197 572.1,196.6 570.8,197.3 565.1,190.9 561.9,189.3 556.1,181.6 554.2,178.1 552.3,177.1 546.8,176.2 542.7,170.4 542.3,168.2 538.5,159.2 535.3,155 536.9,153.4 540.1,147 538.2,145.4 536.6,141.9 530.8,137.4 528.9,133.6 528.9,132 527.6,130.1 526,129.1 527,127.8 526.3,125.9 528.9,125.9 529.2,127.8 530.2,129.4 531.8,130.4Z" fill="none" stroke="#000" stroke-width="2.4" stroke-linejoin="round"/>
<rect x="656.5" y="464" width="26" height="13" fill="#e8fff2" stroke="#bdbdbd" stroke-width="1"/>
<rect x="656.5" y="482" width="26" height="13" fill="#b9ffe6" stroke="#bdbdbd" stroke-width="1"/>
<rect x="656.5" y="500" width="26" height="13" fill="#7dfde0" stroke="#bdbdbd" stroke-width="1"/>
<rect x="656.5" y="518" width="26" height="13" fill="#02e3a6" stroke="#bdbdbd" stroke-width="1"/>
<rect x="656.5" y="536" width="26" height="13" fill="#0a8f82" stroke="#bdbdbd" stroke-width="1"/>
</svg>
<div class="t" id="t1">22. Dokončené byty na 1 000 obyvatel v letech 2001 – 2007 (roční průměry)</div>
<div class="t" id="t2">Dwellings completed per 1 000 population: 2001 – 2007 (annual averages)</div>
<div class="t" id="l1">(na 1 000 obyvatel/</div>
<div class="t" id="l2">per 1 000 population)</div>
<div class="t lg" style="top:466px">0,6 -   1,8</div>
<div class="t lg" style="top:484px">1,9 -   2,4</div>
<div class="t lg" style="top:502px">2,5 -   2,9</div>
<div class="t lg" style="top:520px">3,0 -   3,8</div>
<div class="t lg" style="top:538px">3,9 - 14,3</div>
</body></html>
